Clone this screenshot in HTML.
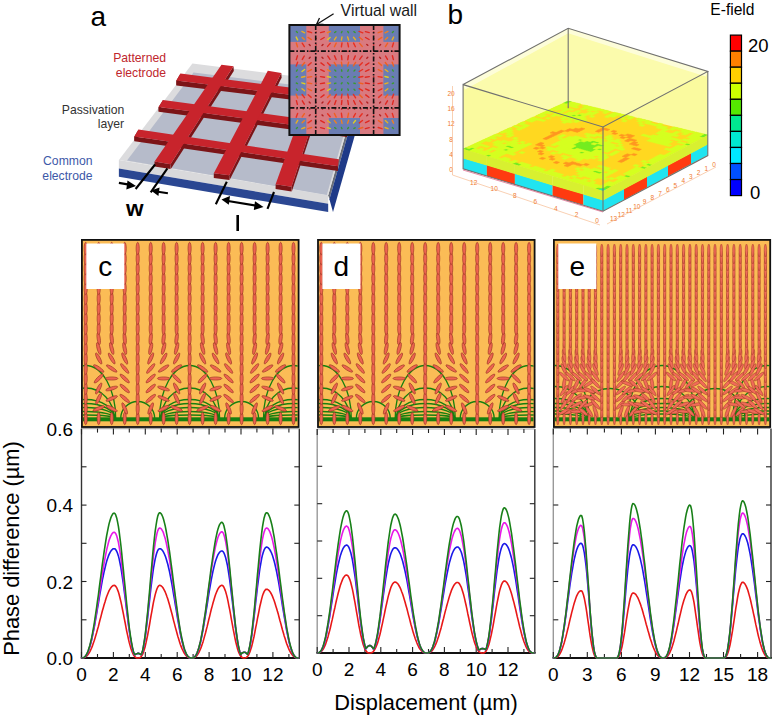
<!DOCTYPE html><html><head><meta charset="utf-8"><style>html,body{margin:0;padding:0;background:#fff;}svg{display:block;}</style></head><body><svg width="774" height="718" viewBox="0 0 774 718">
<rect width="774" height="718" fill="#fff"/>
<polygon points="118.9,160.0 328.2,195.3 328.2,203.7 118.9,168.4" fill="#d9d9db"/>
<polygon points="118.9,168.4 328.2,203.7 328.2,212.1 118.9,176.8" fill="#2b4792"/>
<polygon points="328.2,195.3 359.7,84.5 360.9,88.5 329.4,199.3" fill="#6a6e78"/>
<polygon points="329.4,199.3 360.9,88.5 364.5,101.3 333.0,212.1" fill="#1f3a88"/>
<polygon points="192.4,63.6 118.9,160.0 328.2,195.3 359.7,84.5" fill="#dcdcde"/>
<polygon points="193.5,72.5 127.0,160.5 326.8,195.1 355.6,92.8" fill="#b6bbca"/>
<polygon points="176.4,80.6 354.2,102.8 354.2,107.6 176.4,85.4" fill="#7c1417"/>
<polygon points="180.5,73.6 176.4,80.6 176.4,85.4 180.5,78.4" fill="#7c1417"/>
<polygon points="158.6,106.9 347.0,132.2 347.0,137.0 158.6,111.7" fill="#7c1417"/>
<polygon points="163.0,99.9 158.6,106.9 158.6,111.7 163.0,104.7" fill="#7c1417"/>
<polygon points="134.4,136.5 338.0,166.3 338.0,171.1 134.4,141.3" fill="#7c1417"/>
<polygon points="138.5,129.5 134.4,136.5 134.4,141.3 138.5,134.3" fill="#7c1417"/>
<polygon points="233.5,66.3 170.5,164.3 170.8,169.1 233.8,71.1" fill="#7c1417"/>
<polygon points="154.5,161.6 170.5,164.3 170.5,169.1 154.5,166.4" fill="#7c1417"/>
<polygon points="281.3,72.9 229.3,175.2 229.6,180.0 281.6,77.7" fill="#7c1417"/>
<polygon points="213.8,173.2 229.3,175.2 229.3,180.0 213.8,178.0" fill="#7c1417"/>
<polygon points="326.5,80.3 291.5,186.7 291.8,191.5 326.8,85.1" fill="#7c1417"/>
<polygon points="275.6,184.2 291.5,186.7 291.5,191.5 275.6,189.0" fill="#7c1417"/>
<polygon points="180.5,73.6 356.0,95.8 354.2,102.8 176.4,80.6" fill="#c8242c"/>
<polygon points="163.0,99.9 348.8,125.2 347.0,132.2 158.6,106.9" fill="#c8242c"/>
<polygon points="138.5,129.5 338.9,159.3 338.0,166.3 134.4,136.5" fill="#c8242c"/>
<polygon points="221.5,64.8 233.5,66.3 170.5,164.3 154.5,161.6" fill="#c8242c"/>
<polygon points="267.8,70.8 281.3,72.9 229.3,175.2 213.8,173.2" fill="#c8242c"/>
<polygon points="313.6,78.4 326.5,80.3 291.5,186.7 275.6,184.2" fill="#c8242c"/>
<g stroke="#000" stroke-width="2.1" fill="none">
<line x1="155.1" y1="164.5" x2="135.6" y2="189"/>
<line x1="167.4" y1="168.4" x2="150.7" y2="192.4"/>
<line x1="118.9" y1="182.9" x2="129" y2="184.6"/>
<line x1="167.9" y1="193.3" x2="158" y2="191.7"/>
<line x1="226.8" y1="181.7" x2="215.8" y2="204.3"/>
<line x1="274" y1="192" x2="267.5" y2="208.8"/>
<line x1="228" y1="201" x2="257" y2="205.8"/>
</g>
<polygon points="136,186 127.5,180.6 126.3,189.4" fill="#000"/>
<polygon points="151,190.6 159.6,187.4 158.4,196" fill="#000"/>
<polygon points="221.5,199.6 230,196 228.8,204.8" fill="#000"/>
<polygon points="263.5,207 255,201.3 253.8,210.1" fill="#000"/>
<text x="126" y="215.8" font-family="Liberation Sans, sans-serif" font-size="22.5" font-weight="bold">w</text>
<rect x="236.4" y="215" width="2.6" height="16" fill="#000"/>
<text x="90.5" y="26.3" font-family="Liberation Sans, sans-serif" font-size="28">a</text>
<g font-family="Liberation Sans, sans-serif" font-size="12.2" text-anchor="end">
<text x="166" y="62.3" fill="#c0262d">Patterned</text>
<text x="166" y="76.8" fill="#c0262d">electrode</text>
<text x="124.2" y="114" fill="#333">Passivation</text>
<text x="124.2" y="127.5" fill="#333">layer</text>
<text x="92.5" y="165" fill="#3d58a8">Common</text>
<text x="92.5" y="179.7" fill="#3d58a8">electrode</text>
</g>
<rect x="289.4" y="25" width="110.20000000000005" height="110" fill="#d97a80"/>
<rect x="289.4" y="25" width="16.900000000000034" height="16.9" fill="#6a7db3"/>
<rect x="289.4" y="64.4" width="16.900000000000034" height="31.19999999999999" fill="#6a7db3"/>
<rect x="289.4" y="118" width="16.900000000000034" height="17" fill="#6a7db3"/>
<rect x="328.8" y="25" width="31.19999999999999" height="16.9" fill="#6a7db3"/>
<rect x="328.8" y="64.4" width="31.19999999999999" height="31.19999999999999" fill="#6a7db3"/>
<rect x="328.8" y="118" width="31.19999999999999" height="17" fill="#6a7db3"/>
<rect x="383.4" y="25" width="16.200000000000045" height="16.9" fill="#6a7db3"/>
<rect x="383.4" y="64.4" width="16.200000000000045" height="31.19999999999999" fill="#6a7db3"/>
<rect x="383.4" y="118" width="16.200000000000045" height="17" fill="#6a7db3"/>
<line x1="296.4" y1="31.6" x2="297.4" y2="32.6" stroke="#3a9a30" stroke-width="1.4" stroke-linecap="round"/>
<line x1="296.2" y1="37.1" x2="297.6" y2="39.9" stroke="#e0d020" stroke-width="1.4" stroke-linecap="round"/>
<line x1="296.3" y1="43.0" x2="297.5" y2="46.8" stroke="#f06020" stroke-width="1.4" stroke-linecap="round"/>
<circle cx="296.9" cy="51.3" r="0.8" fill="#b02020"/>
<line x1="296.3" y1="59.6" x2="297.5" y2="55.8" stroke="#e02820" stroke-width="1.4" stroke-linecap="round"/>
<line x1="296.2" y1="66.0" x2="297.6" y2="62.2" stroke="#e83020" stroke-width="1.4" stroke-linecap="round"/>
<line x1="296.5" y1="71.1" x2="297.3" y2="69.9" stroke="#3a9a30" stroke-width="1.4" stroke-linecap="round"/>
<line x1="296.3" y1="77.2" x2="297.5" y2="76.6" stroke="#3a9a30" stroke-width="1.4" stroke-linecap="round"/>
<line x1="296.3" y1="83.0" x2="297.5" y2="83.6" stroke="#3a9a30" stroke-width="1.4" stroke-linecap="round"/>
<line x1="296.5" y1="89.1" x2="297.3" y2="90.3" stroke="#3a9a30" stroke-width="1.4" stroke-linecap="round"/>
<line x1="296.2" y1="94.2" x2="297.6" y2="98.0" stroke="#f06020" stroke-width="1.4" stroke-linecap="round"/>
<line x1="296.4" y1="100.6" x2="297.4" y2="104.4" stroke="#e02820" stroke-width="1.4" stroke-linecap="round"/>
<circle cx="296.9" cy="108.9" r="0.8" fill="#b02020"/>
<line x1="296.2" y1="117.2" x2="297.6" y2="113.4" stroke="#e83020" stroke-width="1.4" stroke-linecap="round"/>
<line x1="296.1" y1="123.1" x2="297.7" y2="120.3" stroke="#e8b020" stroke-width="1.4" stroke-linecap="round"/>
<line x1="296.4" y1="128.6" x2="297.4" y2="127.6" stroke="#3a9a30" stroke-width="1.4" stroke-linecap="round"/>
<line x1="301.9" y1="31.4" x2="304.7" y2="32.8" stroke="#e8b020" stroke-width="1.4" stroke-linecap="round"/>
<line x1="302.2" y1="37.4" x2="304.4" y2="39.6" stroke="#f08020" stroke-width="1.4" stroke-linecap="round"/>
<line x1="302.2" y1="43.2" x2="304.4" y2="46.6" stroke="#e83020" stroke-width="1.4" stroke-linecap="round"/>
<circle cx="303.3" cy="51.3" r="0.8" fill="#b02020"/>
<line x1="302.3" y1="59.4" x2="304.3" y2="56.0" stroke="#e02820" stroke-width="1.4" stroke-linecap="round"/>
<line x1="302.0" y1="65.7" x2="304.6" y2="62.5" stroke="#f06020" stroke-width="1.4" stroke-linecap="round"/>
<line x1="302.0" y1="71.5" x2="304.6" y2="69.5" stroke="#e0d020" stroke-width="1.4" stroke-linecap="round"/>
<line x1="301.7" y1="77.3" x2="304.9" y2="76.5" stroke="#e8b020" stroke-width="1.4" stroke-linecap="round"/>
<line x1="301.8" y1="82.9" x2="304.8" y2="83.7" stroke="#e0d020" stroke-width="1.4" stroke-linecap="round"/>
<line x1="302.0" y1="88.7" x2="304.6" y2="90.7" stroke="#e8b020" stroke-width="1.4" stroke-linecap="round"/>
<line x1="302.1" y1="94.5" x2="304.5" y2="97.7" stroke="#e83020" stroke-width="1.4" stroke-linecap="round"/>
<line x1="302.3" y1="100.8" x2="304.3" y2="104.2" stroke="#e02820" stroke-width="1.4" stroke-linecap="round"/>
<circle cx="303.3" cy="108.9" r="0.8" fill="#b02020"/>
<line x1="302.2" y1="116.9" x2="304.4" y2="113.7" stroke="#f06020" stroke-width="1.4" stroke-linecap="round"/>
<line x1="302.1" y1="122.8" x2="304.5" y2="120.6" stroke="#f08020" stroke-width="1.4" stroke-linecap="round"/>
<line x1="301.8" y1="128.7" x2="304.8" y2="127.5" stroke="#e8b020" stroke-width="1.4" stroke-linecap="round"/>
<line x1="307.8" y1="31.5" x2="311.6" y2="32.7" stroke="#e83020" stroke-width="1.4" stroke-linecap="round"/>
<line x1="308.0" y1="37.4" x2="311.4" y2="39.6" stroke="#f06020" stroke-width="1.4" stroke-linecap="round"/>
<line x1="309.2" y1="44.4" x2="310.2" y2="45.4" stroke="#b02020" stroke-width="1.4" stroke-linecap="round"/>
<circle cx="309.7" cy="51.3" r="0.8" fill="#b02020"/>
<line x1="309.2" y1="58.2" x2="310.2" y2="57.2" stroke="#b02020" stroke-width="1.4" stroke-linecap="round"/>
<line x1="308.2" y1="65.4" x2="311.2" y2="62.8" stroke="#e83020" stroke-width="1.4" stroke-linecap="round"/>
<line x1="307.9" y1="71.4" x2="311.5" y2="69.6" stroke="#f06020" stroke-width="1.4" stroke-linecap="round"/>
<line x1="307.7" y1="77.2" x2="311.7" y2="76.6" stroke="#f06020" stroke-width="1.4" stroke-linecap="round"/>
<line x1="307.7" y1="83.0" x2="311.7" y2="83.6" stroke="#f06020" stroke-width="1.4" stroke-linecap="round"/>
<line x1="307.9" y1="88.8" x2="311.5" y2="90.6" stroke="#f06020" stroke-width="1.4" stroke-linecap="round"/>
<line x1="308.2" y1="94.8" x2="311.2" y2="97.4" stroke="#e83020" stroke-width="1.4" stroke-linecap="round"/>
<line x1="309.2" y1="102.0" x2="310.2" y2="103.0" stroke="#b02020" stroke-width="1.4" stroke-linecap="round"/>
<circle cx="309.7" cy="108.9" r="0.8" fill="#b02020"/>
<line x1="309.2" y1="115.8" x2="310.2" y2="114.8" stroke="#b02020" stroke-width="1.4" stroke-linecap="round"/>
<line x1="308.0" y1="122.8" x2="311.4" y2="120.6" stroke="#e83020" stroke-width="1.4" stroke-linecap="round"/>
<line x1="307.8" y1="128.7" x2="311.6" y2="127.5" stroke="#f06020" stroke-width="1.4" stroke-linecap="round"/>
<circle cx="316.1" cy="32.1" r="0.8" fill="#b02020"/>
<circle cx="316.1" cy="38.5" r="0.8" fill="#b02020"/>
<circle cx="316.1" cy="44.9" r="0.8" fill="#b02020"/>
<circle cx="316.1" cy="51.3" r="0.8" fill="#b02020"/>
<circle cx="316.1" cy="57.7" r="0.8" fill="#b02020"/>
<circle cx="316.1" cy="64.1" r="0.8" fill="#b02020"/>
<circle cx="316.1" cy="70.5" r="0.8" fill="#b02020"/>
<circle cx="316.1" cy="76.9" r="0.8" fill="#b02020"/>
<circle cx="316.1" cy="83.3" r="0.8" fill="#b02020"/>
<circle cx="316.1" cy="89.7" r="0.8" fill="#b02020"/>
<circle cx="316.1" cy="96.1" r="0.8" fill="#b02020"/>
<circle cx="316.1" cy="102.5" r="0.8" fill="#b02020"/>
<circle cx="316.1" cy="108.9" r="0.8" fill="#b02020"/>
<circle cx="316.1" cy="115.3" r="0.8" fill="#b02020"/>
<circle cx="316.1" cy="121.7" r="0.8" fill="#b02020"/>
<circle cx="316.1" cy="128.1" r="0.8" fill="#b02020"/>
<line x1="324.4" y1="31.6" x2="320.6" y2="32.6" stroke="#e02820" stroke-width="1.4" stroke-linecap="round"/>
<line x1="324.2" y1="37.5" x2="320.8" y2="39.5" stroke="#e02820" stroke-width="1.4" stroke-linecap="round"/>
<line x1="323.0" y1="44.4" x2="322.0" y2="45.4" stroke="#b02020" stroke-width="1.4" stroke-linecap="round"/>
<circle cx="322.5" cy="51.3" r="0.8" fill="#b02020"/>
<line x1="323.0" y1="58.2" x2="322.0" y2="57.2" stroke="#b02020" stroke-width="1.4" stroke-linecap="round"/>
<line x1="324.1" y1="65.3" x2="320.9" y2="62.9" stroke="#e02820" stroke-width="1.4" stroke-linecap="round"/>
<line x1="324.3" y1="71.3" x2="320.7" y2="69.7" stroke="#e02820" stroke-width="1.4" stroke-linecap="round"/>
<line x1="324.5" y1="77.2" x2="320.5" y2="76.6" stroke="#e02820" stroke-width="1.4" stroke-linecap="round"/>
<line x1="324.5" y1="83.0" x2="320.5" y2="83.6" stroke="#e02820" stroke-width="1.4" stroke-linecap="round"/>
<line x1="324.3" y1="88.9" x2="320.7" y2="90.5" stroke="#e02820" stroke-width="1.4" stroke-linecap="round"/>
<line x1="324.1" y1="94.9" x2="320.9" y2="97.3" stroke="#e02820" stroke-width="1.4" stroke-linecap="round"/>
<line x1="323.0" y1="102.0" x2="322.0" y2="103.0" stroke="#b02020" stroke-width="1.4" stroke-linecap="round"/>
<circle cx="322.5" cy="108.9" r="0.8" fill="#b02020"/>
<line x1="323.0" y1="115.7" x2="322.0" y2="114.9" stroke="#b02020" stroke-width="1.4" stroke-linecap="round"/>
<line x1="324.3" y1="122.7" x2="320.7" y2="120.7" stroke="#e02820" stroke-width="1.4" stroke-linecap="round"/>
<line x1="324.4" y1="128.6" x2="320.6" y2="127.6" stroke="#e02820" stroke-width="1.4" stroke-linecap="round"/>
<line x1="330.4" y1="31.5" x2="327.4" y2="32.7" stroke="#f08020" stroke-width="1.4" stroke-linecap="round"/>
<line x1="330.1" y1="37.5" x2="327.7" y2="39.5" stroke="#e0d020" stroke-width="1.4" stroke-linecap="round"/>
<line x1="330.2" y1="43.4" x2="327.6" y2="46.4" stroke="#e83020" stroke-width="1.4" stroke-linecap="round"/>
<circle cx="328.9" cy="51.3" r="0.8" fill="#b02020"/>
<line x1="330.0" y1="59.3" x2="327.8" y2="56.1" stroke="#e02820" stroke-width="1.4" stroke-linecap="round"/>
<line x1="330.3" y1="65.5" x2="327.5" y2="62.7" stroke="#e83020" stroke-width="1.4" stroke-linecap="round"/>
<line x1="330.3" y1="71.3" x2="327.5" y2="69.7" stroke="#f08020" stroke-width="1.4" stroke-linecap="round"/>
<line x1="330.5" y1="77.2" x2="327.3" y2="76.6" stroke="#e0d020" stroke-width="1.4" stroke-linecap="round"/>
<line x1="330.5" y1="83.0" x2="327.3" y2="83.6" stroke="#e8b020" stroke-width="1.4" stroke-linecap="round"/>
<line x1="330.3" y1="88.9" x2="327.5" y2="90.5" stroke="#e0d020" stroke-width="1.4" stroke-linecap="round"/>
<line x1="330.3" y1="94.7" x2="327.5" y2="97.5" stroke="#f06020" stroke-width="1.4" stroke-linecap="round"/>
<line x1="330.0" y1="100.9" x2="327.8" y2="104.1" stroke="#e02820" stroke-width="1.4" stroke-linecap="round"/>
<circle cx="328.9" cy="108.9" r="0.8" fill="#b02020"/>
<line x1="330.2" y1="116.8" x2="327.6" y2="113.8" stroke="#e83020" stroke-width="1.4" stroke-linecap="round"/>
<line x1="330.2" y1="122.7" x2="327.6" y2="120.7" stroke="#e8b020" stroke-width="1.4" stroke-linecap="round"/>
<line x1="330.4" y1="128.6" x2="327.4" y2="127.6" stroke="#e0d020" stroke-width="1.4" stroke-linecap="round"/>
<line x1="335.9" y1="31.7" x2="334.7" y2="32.5" stroke="#3a9a30" stroke-width="1.4" stroke-linecap="round"/>
<line x1="336.2" y1="37.2" x2="334.4" y2="39.8" stroke="#e8b020" stroke-width="1.4" stroke-linecap="round"/>
<line x1="336.2" y1="43.1" x2="334.4" y2="46.7" stroke="#f06020" stroke-width="1.4" stroke-linecap="round"/>
<circle cx="335.3" cy="51.3" r="0.8" fill="#b02020"/>
<line x1="336.1" y1="59.6" x2="334.5" y2="55.8" stroke="#e02820" stroke-width="1.4" stroke-linecap="round"/>
<line x1="336.3" y1="65.8" x2="334.3" y2="62.4" stroke="#f06020" stroke-width="1.4" stroke-linecap="round"/>
<line x1="335.8" y1="71.0" x2="334.8" y2="70.0" stroke="#3a9a30" stroke-width="1.4" stroke-linecap="round"/>
<line x1="336.0" y1="77.1" x2="334.6" y2="76.7" stroke="#3a9a30" stroke-width="1.4" stroke-linecap="round"/>
<line x1="336.0" y1="83.1" x2="334.6" y2="83.5" stroke="#3a9a30" stroke-width="1.4" stroke-linecap="round"/>
<line x1="335.8" y1="89.2" x2="334.8" y2="90.2" stroke="#3a9a30" stroke-width="1.4" stroke-linecap="round"/>
<line x1="336.3" y1="94.4" x2="334.3" y2="97.8" stroke="#e83020" stroke-width="1.4" stroke-linecap="round"/>
<line x1="336.0" y1="100.6" x2="334.6" y2="104.4" stroke="#e02820" stroke-width="1.4" stroke-linecap="round"/>
<circle cx="335.3" cy="108.9" r="0.8" fill="#b02020"/>
<line x1="336.2" y1="117.1" x2="334.4" y2="113.5" stroke="#f06020" stroke-width="1.4" stroke-linecap="round"/>
<line x1="336.3" y1="123.0" x2="334.3" y2="120.4" stroke="#f08020" stroke-width="1.4" stroke-linecap="round"/>
<line x1="335.9" y1="128.5" x2="334.7" y2="127.7" stroke="#3a9a30" stroke-width="1.4" stroke-linecap="round"/>
<line x1="342.0" y1="31.5" x2="341.4" y2="32.7" stroke="#3a9a30" stroke-width="1.4" stroke-linecap="round"/>
<line x1="342.0" y1="36.9" x2="341.4" y2="40.1" stroke="#e8b020" stroke-width="1.4" stroke-linecap="round"/>
<line x1="342.0" y1="42.9" x2="341.4" y2="46.9" stroke="#e83020" stroke-width="1.4" stroke-linecap="round"/>
<circle cx="341.7" cy="51.3" r="0.8" fill="#b02020"/>
<line x1="341.9" y1="59.7" x2="341.5" y2="55.7" stroke="#e02820" stroke-width="1.4" stroke-linecap="round"/>
<line x1="342.0" y1="66.1" x2="341.4" y2="62.1" stroke="#f06020" stroke-width="1.4" stroke-linecap="round"/>
<line x1="341.9" y1="71.2" x2="341.5" y2="69.8" stroke="#3a9a30" stroke-width="1.4" stroke-linecap="round"/>
<line x1="342.2" y1="77.4" x2="341.2" y2="76.4" stroke="#3a9a30" stroke-width="1.4" stroke-linecap="round"/>
<line x1="342.1" y1="82.8" x2="341.3" y2="83.8" stroke="#3a9a30" stroke-width="1.4" stroke-linecap="round"/>
<line x1="341.9" y1="89.0" x2="341.5" y2="90.4" stroke="#3a9a30" stroke-width="1.4" stroke-linecap="round"/>
<line x1="342.0" y1="94.1" x2="341.4" y2="98.1" stroke="#e83020" stroke-width="1.4" stroke-linecap="round"/>
<line x1="341.9" y1="100.5" x2="341.5" y2="104.5" stroke="#e02820" stroke-width="1.4" stroke-linecap="round"/>
<circle cx="341.7" cy="108.9" r="0.8" fill="#b02020"/>
<line x1="342.0" y1="117.3" x2="341.4" y2="113.3" stroke="#e83020" stroke-width="1.4" stroke-linecap="round"/>
<line x1="342.1" y1="123.3" x2="341.3" y2="120.1" stroke="#f08020" stroke-width="1.4" stroke-linecap="round"/>
<line x1="342.0" y1="128.7" x2="341.4" y2="127.5" stroke="#3a9a30" stroke-width="1.4" stroke-linecap="round"/>
<line x1="347.7" y1="31.5" x2="348.5" y2="32.7" stroke="#3a9a30" stroke-width="1.4" stroke-linecap="round"/>
<line x1="347.6" y1="37.0" x2="348.6" y2="40.0" stroke="#e8b020" stroke-width="1.4" stroke-linecap="round"/>
<line x1="347.7" y1="42.9" x2="348.5" y2="46.9" stroke="#e83020" stroke-width="1.4" stroke-linecap="round"/>
<circle cx="348.1" cy="51.3" r="0.8" fill="#b02020"/>
<line x1="347.8" y1="59.7" x2="348.4" y2="55.7" stroke="#e02820" stroke-width="1.4" stroke-linecap="round"/>
<line x1="347.6" y1="66.0" x2="348.6" y2="62.2" stroke="#f06020" stroke-width="1.4" stroke-linecap="round"/>
<line x1="347.8" y1="71.2" x2="348.4" y2="69.8" stroke="#3a9a30" stroke-width="1.4" stroke-linecap="round"/>
<line x1="347.6" y1="77.3" x2="348.6" y2="76.5" stroke="#3a9a30" stroke-width="1.4" stroke-linecap="round"/>
<line x1="347.6" y1="82.8" x2="348.6" y2="83.8" stroke="#3a9a30" stroke-width="1.4" stroke-linecap="round"/>
<line x1="347.9" y1="89.0" x2="348.3" y2="90.4" stroke="#3a9a30" stroke-width="1.4" stroke-linecap="round"/>
<line x1="347.7" y1="94.2" x2="348.5" y2="98.0" stroke="#e83020" stroke-width="1.4" stroke-linecap="round"/>
<line x1="347.8" y1="100.5" x2="348.4" y2="104.5" stroke="#e02820" stroke-width="1.4" stroke-linecap="round"/>
<circle cx="348.1" cy="108.9" r="0.8" fill="#b02020"/>
<line x1="347.7" y1="117.3" x2="348.5" y2="113.3" stroke="#f06020" stroke-width="1.4" stroke-linecap="round"/>
<line x1="347.6" y1="123.2" x2="348.6" y2="120.2" stroke="#f08020" stroke-width="1.4" stroke-linecap="round"/>
<line x1="347.7" y1="128.7" x2="348.5" y2="127.5" stroke="#3a9a30" stroke-width="1.4" stroke-linecap="round"/>
<line x1="353.9" y1="31.7" x2="355.1" y2="32.5" stroke="#3a9a30" stroke-width="1.4" stroke-linecap="round"/>
<line x1="353.5" y1="37.3" x2="355.5" y2="39.7" stroke="#e8b020" stroke-width="1.4" stroke-linecap="round"/>
<line x1="353.6" y1="43.1" x2="355.4" y2="46.7" stroke="#e83020" stroke-width="1.4" stroke-linecap="round"/>
<circle cx="354.5" cy="51.3" r="0.8" fill="#b02020"/>
<line x1="353.7" y1="59.5" x2="355.3" y2="55.9" stroke="#e02820" stroke-width="1.4" stroke-linecap="round"/>
<line x1="353.4" y1="65.8" x2="355.6" y2="62.4" stroke="#f06020" stroke-width="1.4" stroke-linecap="round"/>
<line x1="354.0" y1="71.0" x2="355.0" y2="70.0" stroke="#3a9a30" stroke-width="1.4" stroke-linecap="round"/>
<line x1="353.8" y1="77.1" x2="355.2" y2="76.7" stroke="#3a9a30" stroke-width="1.4" stroke-linecap="round"/>
<line x1="353.8" y1="83.1" x2="355.2" y2="83.5" stroke="#3a9a30" stroke-width="1.4" stroke-linecap="round"/>
<line x1="354.0" y1="89.2" x2="355.0" y2="90.2" stroke="#3a9a30" stroke-width="1.4" stroke-linecap="round"/>
<line x1="353.4" y1="94.4" x2="355.6" y2="97.8" stroke="#e83020" stroke-width="1.4" stroke-linecap="round"/>
<line x1="353.7" y1="100.7" x2="355.3" y2="104.3" stroke="#e02820" stroke-width="1.4" stroke-linecap="round"/>
<circle cx="354.5" cy="108.9" r="0.8" fill="#b02020"/>
<line x1="353.5" y1="117.1" x2="355.5" y2="113.5" stroke="#e83020" stroke-width="1.4" stroke-linecap="round"/>
<line x1="353.5" y1="122.9" x2="355.5" y2="120.5" stroke="#e0d020" stroke-width="1.4" stroke-linecap="round"/>
<line x1="353.9" y1="128.4" x2="355.1" y2="127.8" stroke="#3a9a30" stroke-width="1.4" stroke-linecap="round"/>
<line x1="359.0" y1="31.4" x2="362.8" y2="32.8" stroke="#e83020" stroke-width="1.4" stroke-linecap="round"/>
<line x1="359.3" y1="37.3" x2="362.5" y2="39.7" stroke="#f06020" stroke-width="1.4" stroke-linecap="round"/>
<line x1="359.6" y1="43.4" x2="362.2" y2="46.4" stroke="#f06020" stroke-width="1.4" stroke-linecap="round"/>
<circle cx="360.9" cy="51.3" r="0.8" fill="#b02020"/>
<line x1="359.7" y1="59.3" x2="362.1" y2="56.1" stroke="#e02820" stroke-width="1.4" stroke-linecap="round"/>
<line x1="359.5" y1="65.5" x2="362.3" y2="62.7" stroke="#e83020" stroke-width="1.4" stroke-linecap="round"/>
<line x1="359.2" y1="71.5" x2="362.6" y2="69.5" stroke="#e83020" stroke-width="1.4" stroke-linecap="round"/>
<line x1="358.9" y1="77.3" x2="362.9" y2="76.5" stroke="#e83020" stroke-width="1.4" stroke-linecap="round"/>
<line x1="358.9" y1="82.9" x2="362.9" y2="83.7" stroke="#f06020" stroke-width="1.4" stroke-linecap="round"/>
<line x1="359.2" y1="88.7" x2="362.6" y2="90.7" stroke="#e83020" stroke-width="1.4" stroke-linecap="round"/>
<line x1="359.5" y1="94.7" x2="362.3" y2="97.5" stroke="#f06020" stroke-width="1.4" stroke-linecap="round"/>
<line x1="359.7" y1="100.9" x2="362.1" y2="104.1" stroke="#e02820" stroke-width="1.4" stroke-linecap="round"/>
<circle cx="360.9" cy="108.9" r="0.8" fill="#b02020"/>
<line x1="359.6" y1="116.8" x2="362.2" y2="113.8" stroke="#e83020" stroke-width="1.4" stroke-linecap="round"/>
<line x1="359.3" y1="122.9" x2="362.5" y2="120.5" stroke="#e83020" stroke-width="1.4" stroke-linecap="round"/>
<line x1="359.0" y1="128.7" x2="362.8" y2="127.5" stroke="#f06020" stroke-width="1.4" stroke-linecap="round"/>
<line x1="365.4" y1="31.6" x2="369.2" y2="32.6" stroke="#e02820" stroke-width="1.4" stroke-linecap="round"/>
<line x1="365.5" y1="37.5" x2="369.1" y2="39.5" stroke="#e02820" stroke-width="1.4" stroke-linecap="round"/>
<line x1="366.8" y1="44.5" x2="367.8" y2="45.3" stroke="#b02020" stroke-width="1.4" stroke-linecap="round"/>
<circle cx="367.3" cy="51.3" r="0.8" fill="#b02020"/>
<line x1="366.8" y1="58.2" x2="367.8" y2="57.2" stroke="#b02020" stroke-width="1.4" stroke-linecap="round"/>
<line x1="365.7" y1="65.2" x2="368.9" y2="63.0" stroke="#e02820" stroke-width="1.4" stroke-linecap="round"/>
<line x1="365.5" y1="71.3" x2="369.1" y2="69.7" stroke="#e02820" stroke-width="1.4" stroke-linecap="round"/>
<line x1="365.3" y1="77.2" x2="369.3" y2="76.6" stroke="#e02820" stroke-width="1.4" stroke-linecap="round"/>
<line x1="365.3" y1="83.0" x2="369.3" y2="83.6" stroke="#e02820" stroke-width="1.4" stroke-linecap="round"/>
<line x1="365.5" y1="88.9" x2="369.1" y2="90.5" stroke="#e02820" stroke-width="1.4" stroke-linecap="round"/>
<line x1="365.7" y1="94.9" x2="368.9" y2="97.3" stroke="#e02820" stroke-width="1.4" stroke-linecap="round"/>
<line x1="366.8" y1="102.0" x2="367.8" y2="103.0" stroke="#b02020" stroke-width="1.4" stroke-linecap="round"/>
<circle cx="367.3" cy="108.9" r="0.8" fill="#b02020"/>
<line x1="366.8" y1="115.7" x2="367.8" y2="114.9" stroke="#b02020" stroke-width="1.4" stroke-linecap="round"/>
<line x1="365.5" y1="122.6" x2="369.1" y2="120.8" stroke="#e02820" stroke-width="1.4" stroke-linecap="round"/>
<line x1="365.4" y1="128.6" x2="369.2" y2="127.6" stroke="#e02820" stroke-width="1.4" stroke-linecap="round"/>
<circle cx="373.7" cy="32.1" r="0.8" fill="#b02020"/>
<circle cx="373.7" cy="38.5" r="0.8" fill="#b02020"/>
<circle cx="373.7" cy="44.9" r="0.8" fill="#b02020"/>
<circle cx="373.7" cy="51.3" r="0.8" fill="#b02020"/>
<circle cx="373.7" cy="57.7" r="0.8" fill="#b02020"/>
<circle cx="373.7" cy="64.1" r="0.8" fill="#b02020"/>
<circle cx="373.7" cy="70.5" r="0.8" fill="#b02020"/>
<circle cx="373.7" cy="76.9" r="0.8" fill="#b02020"/>
<circle cx="373.7" cy="83.3" r="0.8" fill="#b02020"/>
<circle cx="373.7" cy="89.7" r="0.8" fill="#b02020"/>
<circle cx="373.7" cy="96.1" r="0.8" fill="#b02020"/>
<circle cx="373.7" cy="102.5" r="0.8" fill="#b02020"/>
<circle cx="373.7" cy="108.9" r="0.8" fill="#b02020"/>
<circle cx="373.7" cy="115.3" r="0.8" fill="#b02020"/>
<circle cx="373.7" cy="121.7" r="0.8" fill="#b02020"/>
<circle cx="373.7" cy="128.1" r="0.8" fill="#b02020"/>
<line x1="382.0" y1="31.5" x2="378.2" y2="32.7" stroke="#f06020" stroke-width="1.4" stroke-linecap="round"/>
<line x1="381.8" y1="37.4" x2="378.4" y2="39.6" stroke="#f06020" stroke-width="1.4" stroke-linecap="round"/>
<line x1="380.6" y1="44.4" x2="379.6" y2="45.4" stroke="#b02020" stroke-width="1.4" stroke-linecap="round"/>
<circle cx="380.1" cy="51.3" r="0.8" fill="#b02020"/>
<line x1="380.6" y1="58.2" x2="379.6" y2="57.2" stroke="#b02020" stroke-width="1.4" stroke-linecap="round"/>
<line x1="381.6" y1="65.4" x2="378.6" y2="62.8" stroke="#f06020" stroke-width="1.4" stroke-linecap="round"/>
<line x1="381.9" y1="71.4" x2="378.3" y2="69.6" stroke="#f06020" stroke-width="1.4" stroke-linecap="round"/>
<line x1="382.1" y1="77.2" x2="378.1" y2="76.6" stroke="#e83020" stroke-width="1.4" stroke-linecap="round"/>
<line x1="382.1" y1="83.0" x2="378.1" y2="83.6" stroke="#e83020" stroke-width="1.4" stroke-linecap="round"/>
<line x1="381.9" y1="88.8" x2="378.3" y2="90.6" stroke="#e83020" stroke-width="1.4" stroke-linecap="round"/>
<line x1="381.6" y1="94.8" x2="378.6" y2="97.4" stroke="#e83020" stroke-width="1.4" stroke-linecap="round"/>
<line x1="380.6" y1="102.0" x2="379.6" y2="103.0" stroke="#b02020" stroke-width="1.4" stroke-linecap="round"/>
<circle cx="380.1" cy="108.9" r="0.8" fill="#b02020"/>
<line x1="380.6" y1="115.8" x2="379.6" y2="114.8" stroke="#b02020" stroke-width="1.4" stroke-linecap="round"/>
<line x1="381.8" y1="122.8" x2="378.4" y2="120.6" stroke="#f06020" stroke-width="1.4" stroke-linecap="round"/>
<line x1="382.0" y1="128.7" x2="378.2" y2="127.5" stroke="#e83020" stroke-width="1.4" stroke-linecap="round"/>
<line x1="387.9" y1="31.4" x2="385.1" y2="32.8" stroke="#f08020" stroke-width="1.4" stroke-linecap="round"/>
<line x1="387.6" y1="37.4" x2="385.4" y2="39.6" stroke="#f08020" stroke-width="1.4" stroke-linecap="round"/>
<line x1="387.6" y1="43.2" x2="385.4" y2="46.6" stroke="#f06020" stroke-width="1.4" stroke-linecap="round"/>
<circle cx="386.5" cy="51.3" r="0.8" fill="#b02020"/>
<line x1="387.5" y1="59.4" x2="385.5" y2="56.0" stroke="#e02820" stroke-width="1.4" stroke-linecap="round"/>
<line x1="387.7" y1="65.7" x2="385.3" y2="62.5" stroke="#f06020" stroke-width="1.4" stroke-linecap="round"/>
<line x1="387.8" y1="71.5" x2="385.2" y2="69.5" stroke="#e8b020" stroke-width="1.4" stroke-linecap="round"/>
<line x1="388.1" y1="77.3" x2="384.9" y2="76.5" stroke="#e0d020" stroke-width="1.4" stroke-linecap="round"/>
<line x1="388.0" y1="82.9" x2="385.0" y2="83.7" stroke="#e8b020" stroke-width="1.4" stroke-linecap="round"/>
<line x1="387.8" y1="88.7" x2="385.2" y2="90.7" stroke="#e8b020" stroke-width="1.4" stroke-linecap="round"/>
<line x1="387.7" y1="94.5" x2="385.3" y2="97.7" stroke="#f06020" stroke-width="1.4" stroke-linecap="round"/>
<line x1="387.5" y1="100.8" x2="385.5" y2="104.2" stroke="#e02820" stroke-width="1.4" stroke-linecap="round"/>
<circle cx="386.5" cy="108.9" r="0.8" fill="#b02020"/>
<line x1="387.6" y1="117.0" x2="385.4" y2="113.6" stroke="#e83020" stroke-width="1.4" stroke-linecap="round"/>
<line x1="387.7" y1="122.8" x2="385.3" y2="120.6" stroke="#e8b020" stroke-width="1.4" stroke-linecap="round"/>
<line x1="388.0" y1="128.7" x2="385.0" y2="127.5" stroke="#e8b020" stroke-width="1.4" stroke-linecap="round"/>
<line x1="393.4" y1="31.6" x2="392.4" y2="32.6" stroke="#3a9a30" stroke-width="1.4" stroke-linecap="round"/>
<line x1="393.6" y1="37.1" x2="392.2" y2="39.9" stroke="#e8b020" stroke-width="1.4" stroke-linecap="round"/>
<line x1="393.5" y1="43.0" x2="392.3" y2="46.8" stroke="#e83020" stroke-width="1.4" stroke-linecap="round"/>
<circle cx="392.9" cy="51.3" r="0.8" fill="#b02020"/>
<line x1="393.4" y1="59.6" x2="392.4" y2="55.8" stroke="#e02820" stroke-width="1.4" stroke-linecap="round"/>
<line x1="393.6" y1="66.0" x2="392.2" y2="62.2" stroke="#f06020" stroke-width="1.4" stroke-linecap="round"/>
<line x1="393.3" y1="71.1" x2="392.5" y2="69.9" stroke="#3a9a30" stroke-width="1.4" stroke-linecap="round"/>
<line x1="393.5" y1="77.2" x2="392.3" y2="76.6" stroke="#3a9a30" stroke-width="1.4" stroke-linecap="round"/>
<line x1="393.5" y1="83.0" x2="392.3" y2="83.6" stroke="#3a9a30" stroke-width="1.4" stroke-linecap="round"/>
<line x1="393.3" y1="89.1" x2="392.5" y2="90.3" stroke="#3a9a30" stroke-width="1.4" stroke-linecap="round"/>
<line x1="393.6" y1="94.2" x2="392.2" y2="98.0" stroke="#e83020" stroke-width="1.4" stroke-linecap="round"/>
<line x1="393.4" y1="100.6" x2="392.4" y2="104.4" stroke="#e02820" stroke-width="1.4" stroke-linecap="round"/>
<circle cx="392.9" cy="108.9" r="0.8" fill="#b02020"/>
<line x1="393.5" y1="117.2" x2="392.3" y2="113.4" stroke="#e83020" stroke-width="1.4" stroke-linecap="round"/>
<line x1="393.6" y1="123.1" x2="392.2" y2="120.3" stroke="#f08020" stroke-width="1.4" stroke-linecap="round"/>
<line x1="393.4" y1="128.6" x2="392.4" y2="127.6" stroke="#3a9a30" stroke-width="1.4" stroke-linecap="round"/>
<g stroke="#111" stroke-width="1.6" stroke-dasharray="5,2,1.5,2" fill="none">
<line x1="315.7" y1="25" x2="315.7" y2="135"/>
<line x1="373.6" y1="25" x2="373.6" y2="135"/>
<line x1="289.4" y1="51.1" x2="399.6" y2="51.1"/>
<line x1="289.4" y1="107.9" x2="399.6" y2="107.9"/>
</g>
<rect x="289.4" y="25" width="110.20000000000005" height="110" fill="none" stroke="#111" stroke-width="2"/>
<text x="340.6" y="15.7" font-family="Liberation Sans, sans-serif" font-size="15.9" fill="#1a1a1a">Virtual wall</text>
<g stroke="#111" stroke-width="1.3" fill="none"><line x1="333.6" y1="13.7" x2="316.5" y2="24.5"/><polyline points="319.5,18 316.5,24.5 323.5,24.5"/></g>
<text x="447.4" y="23.8" font-family="Liberation Sans, sans-serif" font-size="28">b</text>
<polygon points="568.2,28.3 463.1,84.6 463.1,168.8 603.0,211.2 707.8,155.6 707.8,71.4" fill="#fafa9e"/>
<polygon points="568.2,28.3 463.1,84.6 603.0,127.0 707.8,71.4" fill="#fbfbac"/>
<polygon points="463.1,84.6 568.2,28.3 707.8,71.4 705.8,76.4 568.2,33.3 465.1,89.6" fill="#fff" fill-opacity="0.55"/>
<polygon points="568.2,101.0 463.1,149.0 603.0,191.0 707.8,135.0" fill="#ffd820"/>
<path d="M568.2 101.0 565.8 102.1 568.9 102.9 571.4 101.8ZM565.8 102.1 563.3 103.2 566.5 104.0 568.9 102.9ZM465.9 147.7 463.1 149.0 466.3 150.0 469.1 148.7ZM471.9 147.4 469.1 148.7 472.3 149.6 475.1 148.3ZM469.1 148.7 466.3 150.0 469.4 150.9 472.3 149.6ZM573.5 114.6 571.0 115.8 574.2 116.6 576.7 115.4ZM507.9 145.3 505.1 146.6 508.4 147.5 511.2 146.2ZM488.4 154.4 485.6 155.8 488.9 156.7 491.7 155.4ZM579.2 114.3 576.7 115.4 580.0 116.3 582.5 115.1ZM511.2 146.2 508.4 147.5 511.7 148.5 514.5 147.2ZM505.7 148.8 502.9 150.1 506.2 151.1 509.0 149.8ZM515.1 162.4 512.3 163.8 515.7 164.8 518.5 163.4ZM518.5 163.4 515.7 164.8 519.1 165.8 521.9 164.4ZM579.8 138.9 577.1 140.2 580.6 141.1 583.2 139.9ZM580.6 141.1 578.0 142.4 581.5 143.4 584.1 142.1ZM578.0 142.4 575.3 143.7 578.8 144.7 581.5 143.4ZM575.3 143.7 572.7 145.0 576.2 146.0 578.8 144.7ZM586.7 140.8 584.1 142.1 587.6 143.0 590.2 141.7ZM584.1 142.1 581.5 143.4 585.0 144.3 587.6 143.0ZM581.5 143.4 578.8 144.7 582.3 145.6 585.0 144.3ZM578.8 144.7 576.2 146.0 579.7 146.9 582.3 145.6ZM576.2 146.0 573.5 147.3 577.0 148.2 579.7 146.9ZM573.5 147.3 570.8 148.6 574.3 149.6 577.0 148.2ZM592.8 140.4 590.2 141.7 593.7 142.7 596.3 141.4ZM590.2 141.7 587.6 143.0 591.1 144.0 593.7 142.7ZM587.6 143.0 585.0 144.3 588.5 145.3 591.1 144.0ZM585.0 144.3 582.3 145.6 585.8 146.6 588.5 145.3ZM582.3 145.6 579.7 146.9 583.2 147.9 585.8 146.6ZM579.7 146.9 577.0 148.2 580.5 149.2 583.2 147.9ZM596.3 141.4 593.7 142.7 597.3 143.6 599.9 142.3ZM591.1 144.0 588.5 145.3 592.0 146.2 594.6 144.9ZM588.5 145.3 585.8 146.6 589.4 147.5 592.0 146.2ZM585.8 146.6 583.2 147.9 586.7 148.9 589.4 147.5ZM583.2 147.9 580.5 149.2 584.0 150.2 586.7 148.9ZM597.3 143.6 594.6 144.9 598.2 145.9 600.8 144.6ZM594.6 144.9 592.0 146.2 595.6 147.2 598.2 145.9ZM592.0 146.2 589.4 147.5 592.9 148.5 595.6 147.2ZM589.4 147.5 586.7 148.9 590.3 149.8 592.9 148.5ZM586.7 148.9 584.0 150.2 587.6 151.2 590.3 149.8ZM581.4 151.5 578.7 152.9 582.2 153.8 584.9 152.5ZM600.8 144.6 598.2 145.9 601.8 146.8 604.4 145.5ZM592.9 148.5 590.3 149.8 593.8 150.8 596.5 149.5ZM590.3 149.8 587.6 151.2 591.2 152.2 593.8 150.8ZM599.1 148.2 596.5 149.5 600.1 150.5 602.7 149.1ZM595.0 170.4 592.3 171.8 596.0 172.8 598.7 171.4ZM598.7 171.4 596.0 172.8 599.7 173.9 602.5 172.5ZM598.1 187.2 595.3 188.7 599.1 189.8 602.0 188.3ZM704.0 134.1 701.5 135.4 705.4 136.3 707.8 135.0ZM701.5 135.4 699.1 136.7 702.9 137.6 705.4 136.3ZM686.8 143.2 684.3 144.5 688.1 145.5 690.6 144.2ZM648.4 163.6 645.7 165.0 649.6 166.1 652.2 164.7ZM643.1 166.5 640.4 167.9 644.3 168.9 646.9 167.5ZM626.9 175.0 624.2 176.5 628.1 177.6 630.8 176.1ZM607.6 185.3 604.8 186.8 608.7 188.0 611.5 186.5ZM604.8 186.8 602.0 188.3 605.8 189.5 608.7 188.0Z" fill="#74ec20" stroke="#74ec20" stroke-width="0.45"/>
<path d="M563.3 103.2 560.8 104.4 564.0 105.2 566.5 104.0ZM560.8 104.4 558.4 105.5 561.5 106.3 564.0 105.2ZM558.4 105.5 555.9 106.6 559.1 107.4 561.5 106.3ZM555.9 106.6 553.4 107.8 556.6 108.6 559.1 107.4ZM553.4 107.8 550.9 108.9 554.1 109.7 556.6 108.6ZM550.9 108.9 548.4 110.1 551.6 110.9 554.1 109.7ZM548.4 110.1 545.9 111.2 549.0 112.0 551.6 110.9ZM545.9 111.2 543.3 112.4 546.5 113.2 549.0 112.0ZM543.3 112.4 540.8 113.5 544.0 114.3 546.5 113.2ZM540.8 113.5 538.2 114.7 541.4 115.5 544.0 114.3ZM538.2 114.7 535.7 115.8 538.9 116.7 541.4 115.5ZM533.1 117.0 530.6 118.2 533.7 119.0 536.3 117.8ZM530.6 118.2 528.0 119.4 531.2 120.2 533.7 119.0ZM528.0 119.4 525.4 120.6 528.6 121.4 531.2 120.2ZM522.8 121.7 520.2 122.9 523.4 123.8 526.0 122.6ZM520.2 122.9 517.6 124.1 520.7 125.0 523.4 123.8ZM514.9 125.3 512.3 126.5 515.5 127.4 518.1 126.2ZM509.6 127.7 507.0 129.0 510.2 129.8 512.8 128.6ZM507.0 129.0 504.3 130.2 507.5 131.1 510.2 129.8ZM504.3 130.2 501.6 131.4 504.8 132.3 507.5 131.1ZM501.6 131.4 498.9 132.6 502.1 133.5 504.8 132.3ZM496.3 133.9 493.5 135.1 496.7 136.0 499.4 134.8ZM493.5 135.1 490.8 136.3 494.0 137.2 496.7 136.0ZM490.8 136.3 488.1 137.6 491.3 138.5 494.0 137.2ZM488.1 137.6 485.4 138.8 488.5 139.7 491.3 138.5ZM485.4 138.8 482.6 140.1 485.8 141.0 488.5 139.7ZM482.6 140.1 479.9 141.3 483.0 142.3 485.8 141.0ZM479.9 141.3 477.1 142.6 480.3 143.5 483.0 142.3ZM477.1 142.6 474.3 143.9 477.5 144.8 480.3 143.5ZM474.3 143.9 471.5 145.2 474.7 146.1 477.5 144.8ZM471.5 145.2 468.7 146.4 471.9 147.4 474.7 146.1ZM468.7 146.4 465.9 147.7 469.1 148.7 471.9 147.4ZM571.4 101.8 568.9 102.9 572.1 103.7 574.6 102.6ZM568.9 102.9 566.5 104.0 569.7 104.8 572.1 103.7ZM566.5 104.0 564.0 105.2 567.2 105.9 569.7 104.8ZM564.0 105.2 561.5 106.3 564.7 107.1 567.2 105.9ZM561.5 106.3 559.1 107.4 562.3 108.2 564.7 107.1ZM559.1 107.4 556.6 108.6 559.8 109.4 562.3 108.2ZM556.6 108.6 554.1 109.7 557.3 110.5 559.8 109.4ZM549.0 112.0 546.5 113.2 549.7 114.0 552.2 112.8ZM544.0 114.3 541.4 115.5 544.6 116.3 547.2 115.2ZM541.4 115.5 538.9 116.7 542.1 117.5 544.6 116.3ZM536.3 117.8 533.7 119.0 536.9 119.9 539.5 118.7ZM533.7 119.0 531.2 120.2 534.3 121.1 536.9 119.9ZM531.2 120.2 528.6 121.4 531.8 122.2 534.3 121.1ZM523.4 123.8 520.7 125.0 523.9 125.8 526.5 124.6ZM518.1 126.2 515.5 127.4 518.7 128.3 521.3 127.1ZM510.2 129.8 507.5 131.1 510.7 131.9 513.3 130.7ZM507.5 131.1 504.8 132.3 508.0 133.2 510.7 131.9ZM499.4 134.8 496.7 136.0 499.9 136.9 502.6 135.6ZM494.0 137.2 491.3 138.5 494.5 139.4 497.2 138.1ZM488.5 139.7 485.8 141.0 489.0 141.9 491.7 140.7ZM480.3 143.5 477.5 144.8 480.7 145.7 483.4 144.5ZM477.5 144.8 474.7 146.1 477.9 147.0 480.7 145.7ZM474.7 146.1 471.9 147.4 475.1 148.3 477.9 147.0ZM574.6 102.6 572.1 103.7 575.3 104.5 577.8 103.3ZM572.1 103.7 569.7 104.8 572.9 105.6 575.3 104.5ZM569.7 104.8 567.2 105.9 570.4 106.7 572.9 105.6ZM564.7 107.1 562.3 108.2 565.5 109.0 567.9 107.9ZM562.3 108.2 559.8 109.4 563.0 110.2 565.5 109.0ZM554.7 111.7 552.2 112.8 555.4 113.6 558.0 112.5ZM539.5 118.7 536.9 119.9 540.1 120.7 542.7 119.5ZM526.5 124.6 523.9 125.8 527.1 126.7 529.8 125.5ZM523.9 125.8 521.3 127.1 524.5 127.9 527.1 126.7ZM521.3 127.1 518.7 128.3 521.9 129.1 524.5 127.9ZM518.7 128.3 516.0 129.5 519.2 130.4 521.9 129.1ZM510.7 131.9 508.0 133.2 511.2 134.1 513.9 132.8ZM508.0 133.2 505.3 134.4 508.5 135.3 511.2 134.1ZM483.4 144.5 480.7 145.7 483.9 146.7 486.6 145.4ZM475.1 148.3 472.3 149.6 475.5 150.6 478.3 149.3ZM472.3 149.6 469.4 150.9 472.6 151.9 475.5 150.6ZM577.8 103.3 575.3 104.5 578.6 105.3 581.0 104.1ZM575.3 104.5 572.9 105.6 576.1 106.4 578.6 105.3ZM572.9 105.6 570.4 106.7 573.6 107.5 576.1 106.4ZM567.9 107.9 565.5 109.0 568.7 109.8 571.2 108.7ZM565.5 109.0 563.0 110.2 566.2 111.0 568.7 109.8ZM563.0 110.2 560.5 111.3 563.7 112.1 566.2 111.0ZM560.5 111.3 558.0 112.5 561.2 113.3 563.7 112.1ZM555.4 113.6 552.9 114.8 556.1 115.6 558.7 114.5ZM552.9 114.8 550.4 116.0 553.6 116.8 556.1 115.6ZM547.8 117.2 545.3 118.3 548.5 119.2 551.1 118.0ZM542.7 119.5 540.1 120.7 543.4 121.6 545.9 120.4ZM511.2 134.1 508.5 135.3 511.7 136.2 514.4 135.0ZM508.5 135.3 505.8 136.6 509.0 137.5 511.7 136.2ZM497.7 140.3 494.9 141.6 498.1 142.5 500.9 141.2ZM494.9 141.6 492.2 142.8 495.4 143.8 498.1 142.5ZM486.6 145.4 483.9 146.7 487.1 147.6 489.9 146.3ZM481.1 148.0 478.3 149.3 481.5 150.2 484.3 148.9ZM478.3 149.3 475.5 150.6 478.7 151.5 481.5 150.2ZM475.5 150.6 472.6 151.9 475.9 152.8 478.7 151.5ZM576.1 106.4 573.6 107.5 576.9 108.3 579.3 107.2ZM571.2 108.7 568.7 109.8 571.9 110.6 574.4 109.5ZM561.2 113.3 558.7 114.5 561.9 115.3 564.4 114.1ZM558.7 114.5 556.1 115.6 559.4 116.5 561.9 115.3ZM503.6 140.0 500.9 141.2 504.1 142.2 506.8 140.9ZM500.9 141.2 498.1 142.5 501.4 143.4 504.1 142.2ZM498.1 142.5 495.4 143.8 498.6 144.7 501.4 143.4ZM495.4 143.8 492.6 145.1 495.9 146.0 498.6 144.7ZM481.5 150.2 478.7 151.5 481.9 152.5 484.7 151.2ZM478.7 151.5 475.9 152.8 479.1 153.8 481.9 152.5ZM584.3 104.9 581.8 106.0 585.1 106.8 587.5 105.7ZM569.4 111.8 566.9 113.0 570.2 113.8 572.7 112.6ZM566.9 113.0 564.4 114.1 567.7 115.0 570.2 113.8ZM564.4 114.1 561.9 115.3 565.2 116.1 567.7 115.0ZM515.0 137.1 512.3 138.4 515.5 139.3 518.2 138.0ZM506.8 140.9 504.1 142.2 507.4 143.1 510.1 141.8ZM501.4 143.4 498.6 144.7 501.9 145.7 504.6 144.4ZM498.6 144.7 495.9 146.0 499.1 146.9 501.9 145.7ZM493.1 147.3 490.3 148.6 493.6 149.5 496.3 148.2ZM490.3 148.6 487.5 149.9 490.8 150.8 493.6 149.5ZM487.5 149.9 484.7 151.2 488.0 152.1 490.8 150.8ZM484.7 151.2 481.9 152.5 485.1 153.5 488.0 152.1ZM481.9 152.5 479.1 153.8 482.3 154.8 485.1 153.5ZM587.5 105.7 585.1 106.8 588.3 107.6 590.8 106.5ZM585.1 106.8 582.6 108.0 585.9 108.8 588.3 107.6ZM582.6 108.0 580.1 109.1 583.4 109.9 585.9 108.8ZM577.7 110.3 575.2 111.5 578.5 112.3 580.9 111.1ZM575.2 111.5 572.7 112.6 576.0 113.4 578.5 112.3ZM572.7 112.6 570.2 113.8 573.5 114.6 576.0 113.4ZM570.2 113.8 567.7 115.0 571.0 115.8 573.5 114.6ZM567.7 115.0 565.2 116.1 568.4 117.0 571.0 115.8ZM565.2 116.1 562.6 117.3 565.9 118.1 568.4 117.0ZM562.6 117.3 560.1 118.5 563.4 119.3 565.9 118.1ZM515.5 139.3 512.8 140.5 516.1 141.5 518.8 140.2ZM512.8 140.5 510.1 141.8 513.4 142.7 516.1 141.5ZM510.1 141.8 507.4 143.1 510.6 144.0 513.4 142.7ZM507.4 143.1 504.6 144.4 507.9 145.3 510.6 144.0ZM504.6 144.4 501.9 145.7 505.1 146.6 507.9 145.3ZM501.9 145.7 499.1 146.9 502.4 147.9 505.1 146.6ZM499.1 146.9 496.3 148.2 499.6 149.2 502.4 147.9ZM496.3 148.2 493.6 149.5 496.8 150.5 499.6 149.2ZM488.0 152.1 485.1 153.5 488.4 154.4 491.2 153.1ZM485.1 153.5 482.3 154.8 485.6 155.8 488.4 154.4ZM590.8 106.5 588.3 107.6 591.6 108.4 594.1 107.3ZM588.3 107.6 585.9 108.8 589.2 109.6 591.6 108.4ZM576.0 113.4 573.5 114.6 576.7 115.4 579.2 114.3ZM571.0 115.8 568.4 117.0 571.7 117.8 574.2 116.6ZM568.4 117.0 565.9 118.1 569.2 119.0 571.7 117.8ZM563.4 119.3 560.8 120.5 564.1 121.4 566.7 120.2ZM516.1 141.5 513.4 142.7 516.6 143.7 519.4 142.4ZM513.4 142.7 510.6 144.0 513.9 145.0 516.6 143.7ZM510.6 144.0 507.9 145.3 511.2 146.2 513.9 145.0ZM505.1 146.6 502.4 147.9 505.7 148.8 508.4 147.5ZM502.4 147.9 499.6 149.2 502.9 150.1 505.7 148.8ZM499.6 149.2 496.8 150.5 500.1 151.5 502.9 150.1ZM496.8 150.5 494.0 151.8 497.3 152.8 500.1 151.5ZM494.0 151.8 491.2 153.1 494.5 154.1 497.3 152.8ZM491.2 153.1 488.4 154.4 491.7 155.4 494.5 154.1ZM594.1 107.3 591.6 108.4 594.9 109.3 597.4 108.1ZM591.6 108.4 589.2 109.6 592.5 110.4 594.9 109.3ZM589.2 109.6 586.7 110.8 590.0 111.6 592.5 110.4ZM581.7 113.1 579.2 114.3 582.5 115.1 585.0 113.9ZM576.7 115.4 574.2 116.6 577.5 117.5 580.0 116.3ZM574.2 116.6 571.7 117.8 575.0 118.6 577.5 117.5ZM571.7 117.8 569.2 119.0 572.5 119.8 575.0 118.6ZM569.2 119.0 566.7 120.2 570.0 121.0 572.5 119.8ZM566.7 120.2 564.1 121.4 567.4 122.2 570.0 121.0ZM564.1 121.4 561.6 122.6 564.9 123.4 567.4 122.2ZM522.1 141.1 519.4 142.4 522.7 143.3 525.4 142.1ZM516.6 143.7 513.9 145.0 517.2 145.9 519.9 144.6ZM513.9 145.0 511.2 146.2 514.5 147.2 517.2 145.9ZM508.4 147.5 505.7 148.8 509.0 149.8 511.7 148.5ZM502.9 150.1 500.1 151.5 503.4 152.4 506.2 151.1ZM500.1 151.5 497.3 152.8 500.6 153.7 503.4 152.4ZM497.3 152.8 494.5 154.1 497.8 155.1 500.6 153.7ZM494.5 154.1 491.7 155.4 495.0 156.4 497.8 155.1ZM491.7 155.4 488.9 156.7 492.2 157.7 495.0 156.4ZM597.4 108.1 594.9 109.3 598.2 110.1 600.7 108.9ZM594.9 109.3 592.5 110.4 595.8 111.2 598.2 110.1ZM590.0 111.6 587.5 112.7 590.8 113.6 593.3 112.4ZM587.5 112.7 585.0 113.9 588.4 114.7 590.8 113.6ZM585.0 113.9 582.5 115.1 585.9 115.9 588.4 114.7ZM582.5 115.1 580.0 116.3 583.4 117.1 585.9 115.9ZM580.0 116.3 577.5 117.5 580.9 118.3 583.4 117.1ZM577.5 117.5 575.0 118.6 578.3 119.5 580.9 118.3ZM575.0 118.6 572.5 119.8 575.8 120.7 578.3 119.5ZM570.0 121.0 567.4 122.2 570.7 123.1 573.3 121.9ZM522.7 143.3 519.9 144.6 523.3 145.6 526.0 144.3ZM519.9 144.6 517.2 145.9 520.5 146.9 523.3 145.6ZM517.2 145.9 514.5 147.2 517.8 148.1 520.5 146.9ZM514.5 147.2 511.7 148.5 515.0 149.5 517.8 148.1ZM511.7 148.5 509.0 149.8 512.3 150.8 515.0 149.5ZM509.0 149.8 506.2 151.1 509.5 152.1 512.3 150.8ZM506.2 151.1 503.4 152.4 506.7 153.4 509.5 152.1ZM503.4 152.4 500.6 153.7 503.9 154.7 506.7 153.4ZM500.6 153.7 497.8 155.1 501.1 156.0 503.9 154.7ZM497.8 155.1 495.0 156.4 498.3 157.4 501.1 156.0ZM495.0 156.4 492.2 157.7 495.5 158.7 498.3 157.4ZM600.7 108.9 598.2 110.1 601.6 110.9 604.0 109.7ZM595.8 111.2 593.3 112.4 596.6 113.2 599.1 112.1ZM593.3 112.4 590.8 113.6 594.2 114.4 596.6 113.2ZM590.8 113.6 588.4 114.7 591.7 115.6 594.2 114.4ZM583.4 117.1 580.9 118.3 584.2 119.1 586.7 117.9ZM580.9 118.3 578.3 119.5 581.7 120.3 584.2 119.1ZM578.3 119.5 575.8 120.7 579.1 121.5 581.7 120.3ZM575.8 120.7 573.3 121.9 576.6 122.7 579.1 121.5ZM528.7 143.0 526.0 144.3 529.3 145.2 532.0 143.9ZM526.0 144.3 523.3 145.6 526.6 146.5 529.3 145.2ZM523.3 145.6 520.5 146.9 523.9 147.8 526.6 146.5ZM520.5 146.9 517.8 148.1 521.1 149.1 523.9 147.8ZM517.8 148.1 515.0 149.5 518.4 150.4 521.1 149.1ZM515.0 149.5 512.3 150.8 515.6 151.7 518.4 150.4ZM512.3 150.8 509.5 152.1 512.8 153.0 515.6 151.7ZM509.5 152.1 506.7 153.4 510.0 154.4 512.8 153.0ZM498.3 157.4 495.5 158.7 498.8 159.7 501.6 158.4ZM604.0 109.7 601.6 110.9 604.9 111.7 607.4 110.5ZM591.7 115.6 589.2 116.8 592.5 117.6 595.0 116.4ZM584.2 119.1 581.7 120.3 585.0 121.2 587.5 120.0ZM512.8 153.0 510.0 154.4 513.4 155.4 516.2 154.0ZM504.4 157.0 501.6 158.4 505.0 159.4 507.8 158.0ZM501.6 158.4 498.8 159.7 502.1 160.7 505.0 159.4ZM607.4 110.5 604.9 111.7 608.3 112.5 610.7 111.4ZM604.9 111.7 602.5 112.9 605.8 113.7 608.3 112.5ZM521.7 151.4 518.9 152.7 522.3 153.7 525.1 152.4ZM507.8 158.0 505.0 159.4 508.3 160.4 511.1 159.0ZM505.0 159.4 502.1 160.7 505.5 161.7 508.3 160.4ZM562.7 134.3 560.1 135.6 563.4 136.5 566.1 135.3ZM560.1 135.6 557.4 136.9 560.8 137.8 563.4 136.5ZM508.3 160.4 505.5 161.7 508.9 162.7 511.7 161.4ZM614.1 112.2 611.6 113.4 615.0 114.2 617.5 113.0ZM611.6 113.4 609.2 114.5 612.6 115.4 615.0 114.2ZM609.2 114.5 606.7 115.7 610.1 116.6 612.6 115.4ZM606.7 115.7 604.3 116.9 607.7 117.7 610.1 116.6ZM560.8 137.8 558.2 139.0 561.6 140.0 564.2 138.7ZM514.5 160.0 511.7 161.4 515.1 162.4 517.9 161.0ZM511.7 161.4 508.9 162.7 512.3 163.8 515.1 162.4ZM617.5 113.0 615.0 114.2 618.5 115.0 620.9 113.8ZM615.0 114.2 612.6 115.4 616.0 116.2 618.5 115.0ZM612.6 115.4 610.1 116.6 613.5 117.4 616.0 116.2ZM569.5 136.2 566.8 137.4 570.3 138.3 572.9 137.1ZM566.8 137.4 564.2 138.7 567.6 139.6 570.3 138.3ZM564.2 138.7 561.6 140.0 565.0 140.9 567.6 139.6ZM561.6 140.0 558.9 141.3 562.3 142.2 565.0 140.9ZM558.9 141.3 556.3 142.5 559.7 143.5 562.3 142.2ZM556.3 142.5 553.6 143.8 557.0 144.8 559.7 143.5ZM553.6 143.8 550.9 145.1 554.3 146.1 557.0 144.8ZM548.2 146.4 545.5 147.7 548.9 148.7 551.6 147.4ZM620.9 113.8 618.5 115.0 621.9 115.9 624.3 114.7ZM575.5 135.8 572.9 137.1 576.3 138.0 578.9 136.7ZM572.9 137.1 570.3 138.3 573.7 139.3 576.3 138.0ZM570.3 138.3 567.6 139.6 571.1 140.6 573.7 139.3ZM567.6 139.6 565.0 140.9 568.4 141.8 571.1 140.6ZM565.0 140.9 562.3 142.2 565.8 143.1 568.4 141.8ZM562.3 142.2 559.7 143.5 563.1 144.4 565.8 143.1ZM559.7 143.5 557.0 144.8 560.4 145.7 563.1 144.4ZM551.6 147.4 548.9 148.7 552.4 149.6 555.1 148.3ZM548.9 148.7 546.2 150.0 549.6 151.0 552.4 149.6ZM521.3 162.0 518.5 163.4 521.9 164.4 524.7 163.1ZM624.3 114.7 621.9 115.9 625.3 116.7 627.8 115.5ZM621.9 115.9 619.4 117.0 622.9 117.9 625.3 116.7ZM586.7 133.0 584.1 134.2 587.6 135.1 590.1 133.9ZM578.9 136.7 576.3 138.0 579.8 138.9 582.4 137.7ZM576.3 138.0 573.7 139.3 577.1 140.2 579.8 138.9ZM573.7 139.3 571.1 140.6 574.5 141.5 577.1 140.2ZM571.1 140.6 568.4 141.8 571.9 142.8 574.5 141.5ZM568.4 141.8 565.8 143.1 569.2 144.1 571.9 142.8ZM565.8 143.1 563.1 144.4 566.5 145.4 569.2 144.1ZM563.1 144.4 560.4 145.7 563.9 146.7 566.5 145.4ZM560.4 145.7 557.7 147.0 561.2 148.0 563.9 146.7ZM557.7 147.0 555.1 148.3 558.5 149.3 561.2 148.0ZM555.1 148.3 552.4 149.6 555.8 150.6 558.5 149.3ZM524.7 163.1 521.9 164.4 525.4 165.5 528.2 164.1ZM521.9 164.4 519.1 165.8 522.5 166.8 525.4 165.5ZM627.8 115.5 625.3 116.7 628.8 117.5 631.2 116.3ZM622.9 117.9 620.4 119.1 623.9 120.0 626.3 118.7ZM590.1 133.9 587.6 135.1 591.0 136.0 593.6 134.8ZM587.6 135.1 585.0 136.4 588.4 137.3 591.0 136.0ZM582.4 137.7 579.8 138.9 583.2 139.9 585.8 138.6ZM577.1 140.2 574.5 141.5 578.0 142.4 580.6 141.1ZM574.5 141.5 571.9 142.8 575.3 143.7 578.0 142.4ZM571.9 142.8 569.2 144.1 572.7 145.0 575.3 143.7ZM569.2 144.1 566.5 145.4 570.0 146.3 572.7 145.0ZM566.5 145.4 563.9 146.7 567.3 147.6 570.0 146.3ZM563.9 146.7 561.2 148.0 564.7 148.9 567.3 147.6ZM561.2 148.0 558.5 149.3 562.0 150.3 564.7 148.9ZM558.5 149.3 555.8 150.6 559.3 151.6 562.0 150.3ZM553.1 151.9 550.4 153.3 553.8 154.3 556.6 152.9ZM528.2 164.1 525.4 165.5 528.8 166.5 531.6 165.1ZM525.4 165.5 522.5 166.8 526.0 167.9 528.8 166.5ZM631.2 116.3 628.8 117.5 632.3 118.4 634.7 117.2ZM628.8 117.5 626.3 118.7 629.8 119.6 632.3 118.4ZM623.9 120.0 621.4 121.2 624.9 122.0 627.3 120.8ZM596.2 133.5 593.6 134.8 597.1 135.7 599.7 134.4ZM593.6 134.8 591.0 136.0 594.5 137.0 597.1 135.7ZM588.4 137.3 585.8 138.6 589.3 139.5 591.9 138.2ZM585.8 138.6 583.2 139.9 586.7 140.8 589.3 139.5ZM583.2 139.9 580.6 141.1 584.1 142.1 586.7 140.8ZM572.7 145.0 570.0 146.3 573.5 147.3 576.2 146.0ZM570.0 146.3 567.3 147.6 570.8 148.6 573.5 147.3ZM567.3 147.6 564.7 148.9 568.1 149.9 570.8 148.6ZM564.7 148.9 562.0 150.3 565.4 151.2 568.1 149.9ZM562.0 150.3 559.3 151.6 562.7 152.6 565.4 151.2ZM559.3 151.6 556.6 152.9 560.0 153.9 562.7 152.6ZM528.8 166.5 526.0 167.9 529.5 168.9 532.3 167.5ZM599.7 134.4 597.1 135.7 600.6 136.6 603.2 135.3ZM591.9 138.2 589.3 139.5 592.8 140.4 595.4 139.2ZM589.3 139.5 586.7 140.8 590.2 141.7 592.8 140.4ZM570.8 148.6 568.1 149.9 571.6 150.9 574.3 149.6ZM568.1 149.9 565.4 151.2 568.9 152.2 571.6 150.9ZM565.4 151.2 562.7 152.6 566.2 153.6 568.9 152.2ZM535.1 166.1 532.3 167.5 535.8 168.6 538.6 167.2ZM532.3 167.5 529.5 168.9 533.0 170.0 535.8 168.6ZM638.2 118.0 635.7 119.3 639.3 120.1 641.7 118.9ZM598.0 137.9 595.4 139.2 598.9 140.1 601.5 138.8ZM595.4 139.2 592.8 140.4 596.3 141.4 598.9 140.1ZM577.0 148.2 574.3 149.6 577.8 150.5 580.5 149.2ZM574.3 149.6 571.6 150.9 575.2 151.9 577.8 150.5ZM571.6 150.9 568.9 152.2 572.5 153.2 575.2 151.9ZM568.9 152.2 566.2 153.6 569.8 154.5 572.5 153.2ZM563.5 154.9 560.8 156.2 564.3 157.2 567.0 155.9ZM538.6 167.2 535.8 168.6 539.3 169.6 542.1 168.2ZM535.8 168.6 533.0 170.0 536.5 171.0 539.3 169.6ZM641.7 118.9 639.3 120.1 642.8 121.0 645.2 119.8ZM639.3 120.1 636.8 121.3 640.3 122.2 642.8 121.0ZM609.2 135.0 606.7 136.3 610.2 137.2 612.8 135.9ZM606.7 136.3 604.1 137.5 607.6 138.5 610.2 137.2ZM601.5 138.8 598.9 140.1 602.5 141.0 605.1 139.7ZM598.9 140.1 596.3 141.4 599.9 142.3 602.5 141.0ZM593.7 142.7 591.1 144.0 594.6 144.9 597.3 143.6ZM580.5 149.2 577.8 150.5 581.4 151.5 584.0 150.2ZM577.8 150.5 575.2 151.9 578.7 152.9 581.4 151.5ZM575.2 151.9 572.5 153.2 576.0 154.2 578.7 152.9ZM572.5 153.2 569.8 154.5 573.3 155.5 576.0 154.2ZM567.0 155.9 564.3 157.2 567.9 158.2 570.6 156.9ZM564.3 157.2 561.6 158.6 565.1 159.6 567.9 158.2ZM542.1 168.2 539.3 169.6 542.9 170.7 545.7 169.3ZM539.3 169.6 536.5 171.0 540.0 172.1 542.9 170.7ZM645.2 119.8 642.8 121.0 646.3 121.8 648.8 120.6ZM640.3 122.2 637.9 123.4 641.4 124.3 643.9 123.1ZM610.2 137.2 607.6 138.5 611.2 139.4 613.8 138.1ZM607.6 138.5 605.1 139.7 608.6 140.7 611.2 139.4ZM602.5 141.0 599.9 142.3 603.4 143.3 606.0 142.0ZM599.9 142.3 597.3 143.6 600.8 144.6 603.4 143.3ZM584.0 150.2 581.4 151.5 584.9 152.5 587.6 151.2ZM578.7 152.9 576.0 154.2 579.6 155.2 582.2 153.8ZM576.0 154.2 573.3 155.5 576.8 156.5 579.6 155.2ZM573.3 155.5 570.6 156.9 574.1 157.9 576.8 156.5ZM542.9 170.7 540.0 172.1 543.6 173.2 546.4 171.7ZM648.8 120.6 646.3 121.8 649.9 122.7 652.3 121.5ZM646.3 121.8 643.9 123.1 647.4 123.9 649.9 122.7ZM641.4 124.3 638.9 125.5 642.5 126.4 645.0 125.2ZM611.2 139.4 608.6 140.7 612.2 141.6 614.8 140.3ZM608.6 140.7 606.0 142.0 609.6 142.9 612.2 141.6ZM606.0 142.0 603.4 143.3 607.0 144.2 609.6 142.9ZM603.4 143.3 600.8 144.6 604.4 145.5 607.0 144.2ZM598.2 145.9 595.6 147.2 599.1 148.2 601.8 146.8ZM595.6 147.2 592.9 148.5 596.5 149.5 599.1 148.2ZM587.6 151.2 584.9 152.5 588.5 153.5 591.2 152.2ZM584.9 152.5 582.2 153.8 585.8 154.8 588.5 153.5ZM582.2 153.8 579.6 155.2 583.1 156.2 585.8 154.8ZM579.6 155.2 576.8 156.5 580.4 157.5 583.1 156.2ZM576.8 156.5 574.1 157.9 577.7 158.9 580.4 157.5ZM552.0 168.9 549.2 170.3 552.8 171.4 555.6 170.0ZM549.2 170.3 546.4 171.7 550.0 172.8 552.8 171.4ZM546.4 171.7 543.6 173.2 547.1 174.2 550.0 172.8ZM649.9 122.7 647.4 123.9 651.0 124.8 653.5 123.6ZM617.3 139.0 614.8 140.3 618.3 141.3 620.9 140.0ZM614.8 140.3 612.2 141.6 615.8 142.6 618.3 141.3ZM609.6 142.9 607.0 144.2 610.6 145.2 613.2 143.9ZM607.0 144.2 604.4 145.5 608.0 146.5 610.6 145.2ZM604.4 145.5 601.8 146.8 605.3 147.8 608.0 146.5ZM601.8 146.8 599.1 148.2 602.7 149.1 605.3 147.8ZM596.5 149.5 593.8 150.8 597.4 151.8 600.1 150.5ZM593.8 150.8 591.2 152.2 594.8 153.1 597.4 151.8ZM591.2 152.2 588.5 153.5 592.1 154.5 594.8 153.1ZM588.5 153.5 585.8 154.8 589.4 155.8 592.1 154.5ZM585.8 154.8 583.1 156.2 586.7 157.2 589.4 155.8ZM583.1 156.2 580.4 157.5 584.0 158.6 586.7 157.2ZM580.4 157.5 577.7 158.9 581.3 159.9 584.0 158.6ZM577.7 158.9 575.0 160.3 578.6 161.3 581.3 159.9ZM552.8 171.4 550.0 172.8 553.6 173.9 556.4 172.5ZM550.0 172.8 547.1 174.2 550.7 175.3 553.6 173.9ZM653.5 123.6 651.0 124.8 654.6 125.7 657.0 124.5ZM618.3 141.3 615.8 142.6 619.4 143.5 621.9 142.2ZM613.2 143.9 610.6 145.2 614.2 146.1 616.8 144.8ZM610.6 145.2 608.0 146.5 611.6 147.5 614.2 146.1ZM608.0 146.5 605.3 147.8 608.9 148.8 611.6 147.5ZM605.3 147.8 602.7 149.1 606.3 150.1 608.9 148.8ZM602.7 149.1 600.1 150.5 603.7 151.4 606.3 150.1ZM600.1 150.5 597.4 151.8 601.0 152.8 603.7 151.4ZM597.4 151.8 594.8 153.1 598.4 154.1 601.0 152.8ZM594.8 153.1 592.1 154.5 595.7 155.5 598.4 154.1ZM592.1 154.5 589.4 155.8 593.0 156.8 595.7 155.5ZM589.4 155.8 586.7 157.2 590.3 158.2 593.0 156.8ZM586.7 157.2 584.0 158.6 587.6 159.6 590.3 158.2ZM556.4 172.5 553.6 173.9 557.2 175.0 560.0 173.5ZM553.6 173.9 550.7 175.3 554.3 176.4 557.2 175.0ZM659.5 123.2 657.0 124.5 660.7 125.3 663.1 124.1ZM657.0 124.5 654.6 125.7 658.2 126.6 660.7 125.3ZM619.4 143.5 616.8 144.8 620.4 145.8 623.0 144.5ZM614.2 146.1 611.6 147.5 615.2 148.4 617.8 147.1ZM611.6 147.5 608.9 148.8 612.6 149.8 615.2 148.4ZM608.9 148.8 606.3 150.1 609.9 151.1 612.6 149.8ZM606.3 150.1 603.7 151.4 607.3 152.4 609.9 151.1ZM601.0 152.8 598.4 154.1 602.0 155.1 604.6 153.8ZM598.4 154.1 595.7 155.5 599.3 156.5 602.0 155.1ZM593.0 156.8 590.3 158.2 593.9 159.2 596.6 157.8ZM560.0 173.5 557.2 175.0 560.8 176.0 563.6 174.6ZM557.2 175.0 554.3 176.4 558.0 177.5 560.8 176.0ZM660.7 125.3 658.2 126.6 661.8 127.5 664.3 126.2ZM658.2 126.6 655.8 127.8 659.4 128.7 661.8 127.5ZM643.3 134.1 640.8 135.4 644.5 136.3 647.0 135.1ZM620.4 145.8 617.8 147.1 621.4 148.1 624.0 146.8ZM617.8 147.1 615.2 148.4 618.8 149.4 621.4 148.1ZM604.6 153.8 602.0 155.1 605.6 156.1 608.3 154.8ZM602.0 155.1 599.3 156.5 603.0 157.5 605.6 156.1ZM599.3 156.5 596.6 157.8 600.3 158.9 603.0 157.5ZM577.6 167.5 574.8 168.9 578.4 170.0 581.2 168.6ZM560.8 176.0 558.0 177.5 561.6 178.6 564.4 177.1ZM664.3 126.2 661.8 127.5 665.5 128.4 667.9 127.1ZM661.8 127.5 659.4 128.7 663.0 129.6 665.5 128.4ZM647.0 135.1 644.5 136.3 648.1 137.3 650.6 136.0ZM621.4 148.1 618.8 149.4 622.5 150.4 625.1 149.1ZM616.2 150.7 613.6 152.1 617.2 153.1 619.9 151.7ZM613.6 152.1 610.9 153.4 614.6 154.4 617.2 153.1ZM610.9 153.4 608.3 154.8 611.9 155.8 614.6 154.4ZM605.6 156.1 603.0 157.5 606.6 158.5 609.3 157.1ZM603.0 157.5 600.3 158.9 603.9 159.9 606.6 158.5ZM600.3 158.9 597.6 160.2 601.2 161.3 603.9 159.9ZM584.0 167.2 581.2 168.6 584.9 169.6 587.6 168.2ZM578.4 170.0 575.7 171.4 579.3 172.5 582.1 171.1ZM567.3 175.7 564.4 177.1 568.1 178.2 570.9 176.8ZM564.4 177.1 561.6 178.6 565.3 179.7 568.1 178.2ZM665.5 128.4 663.0 129.6 666.7 130.5 669.1 129.3ZM663.0 129.6 660.6 130.9 664.2 131.8 666.7 130.5ZM660.6 130.9 658.1 132.2 661.8 133.1 664.2 131.8ZM658.1 132.2 655.6 133.4 659.3 134.4 661.8 133.1ZM653.1 134.7 650.6 136.0 654.3 136.9 656.8 135.6ZM650.6 136.0 648.1 137.3 651.8 138.2 654.3 136.9ZM587.6 168.2 584.9 169.6 588.6 170.7 591.3 169.3ZM584.9 169.6 582.1 171.1 585.8 172.1 588.6 170.7ZM582.1 171.1 579.3 172.5 583.0 173.6 585.8 172.1ZM579.3 172.5 576.5 173.9 580.2 175.0 583.0 173.6ZM573.7 175.3 570.9 176.8 574.6 177.9 577.4 176.4ZM568.1 178.2 565.3 179.7 569.0 180.8 571.8 179.3ZM674.0 126.8 671.6 128.0 675.3 128.9 677.7 127.7ZM671.6 128.0 669.1 129.3 672.8 130.2 675.3 128.9ZM664.2 131.8 661.8 133.1 665.4 134.0 667.9 132.7ZM661.8 133.1 659.3 134.4 663.0 135.3 665.4 134.0ZM659.3 134.4 656.8 135.6 660.5 136.6 663.0 135.3ZM656.8 135.6 654.3 136.9 658.0 137.9 660.5 136.6ZM654.3 136.9 651.8 138.2 655.5 139.1 658.0 137.9ZM651.8 138.2 649.3 139.5 653.0 140.4 655.5 139.1ZM649.3 139.5 646.7 140.8 650.4 141.7 653.0 140.4ZM599.5 165.1 596.8 166.5 600.5 167.5 603.2 166.1ZM594.1 167.9 591.3 169.3 595.0 170.4 597.8 168.9ZM591.3 169.3 588.6 170.7 592.3 171.8 595.0 170.4ZM588.6 170.7 585.8 172.1 589.5 173.2 592.3 171.8ZM585.8 172.1 583.0 173.6 586.7 174.6 589.5 173.2ZM583.0 173.6 580.2 175.0 583.9 176.1 586.7 174.6ZM580.2 175.0 577.4 176.4 581.1 177.5 583.9 176.1ZM574.6 177.9 571.8 179.3 575.5 180.4 578.3 179.0ZM571.8 179.3 569.0 180.8 572.7 181.9 575.5 180.4ZM677.7 127.7 675.3 128.9 679.0 129.8 681.4 128.6ZM667.9 132.7 665.4 134.0 669.1 134.9 671.6 133.6ZM665.4 134.0 663.0 135.3 666.7 136.2 669.1 134.9ZM663.0 135.3 660.5 136.6 664.2 137.5 666.7 136.2ZM660.5 136.6 658.0 137.9 661.7 138.8 664.2 137.5ZM658.0 137.9 655.5 139.1 659.2 140.1 661.7 138.8ZM655.5 139.1 653.0 140.4 656.7 141.4 659.2 140.1ZM653.0 140.4 650.4 141.7 654.1 142.7 656.7 141.4ZM603.2 166.1 600.5 167.5 604.2 168.6 606.9 167.2ZM597.8 168.9 595.0 170.4 598.7 171.4 601.5 170.0ZM592.3 171.8 589.5 173.2 593.2 174.3 596.0 172.8ZM589.5 173.2 586.7 174.6 590.4 175.7 593.2 174.3ZM586.7 174.6 583.9 176.1 587.6 177.2 590.4 175.7ZM578.3 179.0 575.5 180.4 579.2 181.5 582.0 180.1ZM575.5 180.4 572.7 181.9 576.4 183.0 579.2 181.5ZM681.4 128.6 679.0 129.8 682.7 130.7 685.1 129.5ZM676.5 131.1 674.1 132.4 677.8 133.3 680.2 132.0ZM674.1 132.4 671.6 133.6 675.3 134.6 677.8 133.3ZM671.6 133.6 669.1 134.9 672.9 135.9 675.3 134.6ZM669.1 134.9 666.7 136.2 670.4 137.1 672.9 135.9ZM666.7 136.2 664.2 137.5 667.9 138.4 670.4 137.1ZM664.2 137.5 661.7 138.8 665.4 139.7 667.9 138.4ZM661.7 138.8 659.2 140.1 662.9 141.0 665.4 139.7ZM659.2 140.1 656.7 141.4 660.4 142.3 662.9 141.0ZM656.7 141.4 654.1 142.7 657.9 143.7 660.4 142.3ZM606.9 167.2 604.2 168.6 608.0 169.6 610.7 168.2ZM604.2 168.6 601.5 170.0 605.2 171.1 608.0 169.6ZM601.5 170.0 598.7 171.4 602.5 172.5 605.2 171.1ZM596.0 172.8 593.2 174.3 597.0 175.4 599.7 173.9ZM593.2 174.3 590.4 175.7 594.2 176.8 597.0 175.4ZM590.4 175.7 587.6 177.2 591.4 178.3 594.2 176.8ZM584.9 178.6 582.0 180.1 585.8 181.2 588.6 179.7ZM582.0 180.1 579.2 181.5 583.0 182.7 585.8 181.2ZM579.2 181.5 576.4 183.0 580.1 184.1 583.0 182.7ZM685.1 129.5 682.7 130.7 686.4 131.7 688.9 130.4ZM682.7 130.7 680.2 132.0 684.0 132.9 686.4 131.7ZM675.3 134.6 672.9 135.9 676.6 136.8 679.1 135.5ZM670.4 137.1 667.9 138.4 671.6 139.4 674.1 138.1ZM667.9 138.4 665.4 139.7 669.2 140.7 671.6 139.4ZM665.4 139.7 662.9 141.0 666.6 142.0 669.2 140.7ZM662.9 141.0 660.4 142.3 664.1 143.3 666.6 142.0ZM660.4 142.3 657.9 143.7 661.6 144.6 664.1 143.3ZM608.0 169.6 605.2 171.1 609.0 172.1 611.7 170.7ZM602.5 172.5 599.7 173.9 603.5 175.0 606.2 173.6ZM599.7 173.9 597.0 175.4 600.7 176.5 603.5 175.0ZM597.0 175.4 594.2 176.8 597.9 177.9 600.7 176.5ZM594.2 176.8 591.4 178.3 595.2 179.4 597.9 177.9ZM591.4 178.3 588.6 179.7 592.4 180.8 595.2 179.4ZM585.8 181.2 583.0 182.7 586.7 183.8 589.5 182.3ZM583.0 182.7 580.1 184.1 583.9 185.3 586.7 183.8ZM688.9 130.4 686.4 131.7 690.2 132.6 692.6 131.3ZM686.4 131.7 684.0 132.9 687.7 133.9 690.2 132.6ZM684.0 132.9 681.5 134.2 685.3 135.1 687.7 133.9ZM674.1 138.1 671.6 139.4 675.4 140.3 677.9 139.0ZM669.2 140.7 666.6 142.0 670.4 143.0 672.9 141.6ZM666.6 142.0 664.1 143.3 667.9 144.3 670.4 143.0ZM664.1 143.3 661.6 144.6 665.4 145.6 667.9 144.3ZM614.4 169.3 611.7 170.7 615.5 171.8 618.2 170.4ZM611.7 170.7 609.0 172.1 612.8 173.2 615.5 171.8ZM609.0 172.1 606.2 173.6 610.0 174.7 612.8 173.2ZM606.2 173.6 603.5 175.0 607.3 176.1 610.0 174.7ZM603.5 175.0 600.7 176.5 604.5 177.6 607.3 176.1ZM600.7 176.5 597.9 177.9 601.7 179.0 604.5 177.6ZM592.4 180.8 589.5 182.3 593.3 183.4 596.1 182.0ZM589.5 182.3 586.7 183.8 590.5 184.9 593.3 183.4ZM586.7 183.8 583.9 185.3 587.7 186.4 590.5 184.9ZM692.6 131.3 690.2 132.6 693.9 133.5 696.4 132.2ZM677.9 139.0 675.4 140.3 679.2 141.3 681.7 140.0ZM667.9 144.3 665.4 145.6 669.2 146.6 671.7 145.2ZM604.5 177.6 601.7 179.0 605.5 180.1 608.3 178.7ZM593.3 183.4 590.5 184.9 594.3 186.0 597.1 184.6ZM590.5 184.9 587.7 186.4 591.5 187.5 594.3 186.0ZM696.4 132.2 693.9 133.5 697.7 134.4 700.2 133.1ZM693.9 133.5 691.5 134.8 695.3 135.7 697.7 134.4ZM691.5 134.8 689.1 136.1 692.9 137.0 695.3 135.7ZM689.1 136.1 686.6 137.4 690.4 138.3 692.9 137.0ZM684.1 138.7 681.7 140.0 685.5 140.9 687.9 139.6ZM679.2 141.3 676.7 142.6 680.5 143.6 683.0 142.2ZM666.6 147.9 664.1 149.2 667.9 150.2 670.4 148.9ZM643.4 160.2 640.7 161.6 644.6 162.6 647.2 161.2ZM635.4 164.3 632.8 165.8 636.6 166.8 639.3 165.4ZM611.1 177.2 608.3 178.7 612.1 179.8 614.9 178.3ZM597.1 184.6 594.3 186.0 598.1 187.2 600.9 185.7ZM594.3 186.0 591.5 187.5 595.3 188.7 598.1 187.2ZM700.2 133.1 697.7 134.4 701.5 135.4 704.0 134.1ZM697.7 134.4 695.3 135.7 699.1 136.7 701.5 135.4ZM695.3 135.7 692.9 137.0 696.7 138.0 699.1 136.7ZM692.9 137.0 690.4 138.3 694.2 139.3 696.7 138.0ZM690.4 138.3 687.9 139.6 691.8 140.6 694.2 139.3ZM687.9 139.6 685.5 140.9 689.3 141.9 691.8 140.6ZM683.0 142.2 680.5 143.6 684.3 144.5 686.8 143.2ZM678.0 144.9 675.5 146.2 679.3 147.2 681.8 145.9ZM675.5 146.2 673.0 147.6 676.8 148.5 679.3 147.2ZM673.0 147.6 670.4 148.9 674.2 149.9 676.8 148.5ZM670.4 148.9 667.9 150.2 671.7 151.2 674.2 149.9ZM660.2 154.3 657.6 155.7 661.4 156.7 664.0 155.3ZM657.6 155.7 655.0 157.0 658.9 158.1 661.4 156.7ZM655.0 157.0 652.4 158.4 656.3 159.5 658.9 158.1ZM652.4 158.4 649.8 159.8 653.6 160.8 656.3 159.5ZM649.8 159.8 647.2 161.2 651.0 162.2 653.6 160.8ZM644.6 162.6 641.9 164.0 645.7 165.0 648.4 163.6ZM636.6 166.8 633.9 168.2 637.8 169.3 640.4 167.9ZM633.9 168.2 631.2 169.7 635.1 170.7 637.8 169.3ZM631.2 169.7 628.5 171.1 632.4 172.2 635.1 170.7ZM628.5 171.1 625.8 172.5 629.7 173.6 632.4 172.2ZM625.8 172.5 623.1 174.0 626.9 175.0 629.7 173.6ZM620.4 175.4 617.6 176.9 621.5 178.0 624.2 176.5ZM617.6 176.9 614.9 178.3 618.7 179.4 621.5 178.0ZM609.3 181.2 606.6 182.7 610.4 183.8 613.2 182.4ZM606.6 182.7 603.8 184.2 607.6 185.3 610.4 183.8ZM603.8 184.2 600.9 185.7 604.8 186.8 607.6 185.3ZM600.9 185.7 598.1 187.2 602.0 188.3 604.8 186.8ZM699.1 136.7 696.7 138.0 700.5 138.9 702.9 137.6ZM696.7 138.0 694.2 139.3 698.1 140.2 700.5 138.9ZM694.2 139.3 691.8 140.6 695.6 141.5 698.1 140.2ZM691.8 140.6 689.3 141.9 693.1 142.8 695.6 141.5ZM689.3 141.9 686.8 143.2 690.6 144.2 693.1 142.8ZM684.3 144.5 681.8 145.9 685.6 146.8 688.1 145.5ZM681.8 145.9 679.3 147.2 683.1 148.2 685.6 146.8ZM679.3 147.2 676.8 148.5 680.6 149.5 683.1 148.2ZM676.8 148.5 674.2 149.9 678.1 150.9 680.6 149.5ZM674.2 149.9 671.7 151.2 675.6 152.2 678.1 150.9ZM671.7 151.2 669.2 152.6 673.0 153.6 675.6 152.2ZM669.2 152.6 666.6 154.0 670.4 155.0 673.0 153.6ZM666.6 154.0 664.0 155.3 667.9 156.3 670.4 155.0ZM664.0 155.3 661.4 156.7 665.3 157.7 667.9 156.3ZM661.4 156.7 658.9 158.1 662.7 159.1 665.3 157.7ZM658.9 158.1 656.3 159.5 660.1 160.5 662.7 159.1ZM656.3 159.5 653.6 160.8 657.5 161.9 660.1 160.5ZM653.6 160.8 651.0 162.2 654.9 163.3 657.5 161.9ZM651.0 162.2 648.4 163.6 652.2 164.7 654.9 163.3ZM645.7 165.0 643.1 166.5 646.9 167.5 649.6 166.1ZM640.4 167.9 637.8 169.3 641.6 170.4 644.3 168.9ZM637.8 169.3 635.1 170.7 638.9 171.8 641.6 170.4ZM635.1 170.7 632.4 172.2 636.2 173.2 638.9 171.8ZM632.4 172.2 629.7 173.6 633.5 174.7 636.2 173.2ZM629.7 173.6 626.9 175.0 630.8 176.1 633.5 174.7ZM624.2 176.5 621.5 178.0 625.3 179.1 628.1 177.6ZM621.5 178.0 618.7 179.4 622.6 180.5 625.3 179.1ZM618.7 179.4 616.0 180.9 619.8 182.0 622.6 180.5ZM616.0 180.9 613.2 182.4 617.0 183.5 619.8 182.0ZM613.2 182.4 610.4 183.8 614.3 185.0 617.0 183.5ZM610.4 183.8 607.6 185.3 611.5 186.5 614.3 185.0Z" fill="#d5ff20" stroke="#d5ff20" stroke-width="0.45"/>
<path d="M552.6 131.6 550.0 132.9 553.4 133.8 556.0 132.5ZM561.2 130.1 558.6 131.3 561.9 132.2 564.5 131.0ZM558.6 131.3 556.0 132.5 559.3 133.4 561.9 132.2ZM556.0 132.5 553.4 133.8 556.7 134.7 559.3 133.4ZM553.4 133.8 550.7 135.0 554.1 135.9 556.7 134.7ZM550.7 135.0 548.1 136.3 551.4 137.2 554.1 135.9ZM548.1 136.3 545.4 137.6 548.8 138.5 551.4 137.2ZM545.4 137.6 542.8 138.8 546.1 139.7 548.8 138.5ZM569.7 128.5 567.1 129.7 570.5 130.6 573.1 129.4ZM567.1 129.7 564.5 131.0 567.9 131.8 570.5 130.6ZM540.8 142.3 538.1 143.6 541.4 144.5 544.1 143.2ZM538.1 143.6 535.4 144.9 538.7 145.8 541.4 144.5ZM575.7 128.1 573.1 129.4 576.5 130.3 579.0 129.0ZM573.1 129.4 570.5 130.6 573.9 131.5 576.5 130.3ZM541.4 144.5 538.7 145.8 542.1 146.8 544.8 145.5ZM536.0 147.1 533.3 148.4 536.7 149.4 539.4 148.1ZM581.6 127.8 579.0 129.0 582.4 129.9 585.0 128.7ZM579.0 129.0 576.5 130.3 579.9 131.2 582.4 129.9ZM576.5 130.3 573.9 131.5 577.3 132.4 579.9 131.2ZM542.1 146.8 539.4 148.1 542.8 149.0 545.5 147.7ZM540.1 150.3 537.3 151.7 540.8 152.6 543.5 151.3ZM540.8 152.6 538.0 154.0 541.4 154.9 544.2 153.6ZM602.9 127.6 600.4 128.9 603.8 129.8 606.4 128.5ZM600.4 128.9 597.8 130.1 601.3 131.0 603.8 129.8ZM597.8 130.1 595.3 131.4 598.7 132.3 601.3 131.0ZM542.1 157.3 539.4 158.6 542.8 159.6 545.6 158.3ZM606.4 128.5 603.8 129.8 607.3 130.7 609.9 129.4ZM551.1 155.6 548.3 156.9 551.8 157.9 554.6 156.6ZM551.8 157.9 549.1 159.3 552.6 160.3 555.3 158.9ZM613.4 130.3 610.8 131.6 614.3 132.5 616.9 131.2ZM614.3 132.5 611.8 133.7 615.3 134.6 617.9 133.4ZM556.1 161.3 553.3 162.7 556.9 163.7 559.6 162.3ZM621.4 134.3 618.9 135.5 622.4 136.5 625.0 135.2ZM565.9 162.0 563.2 163.4 566.7 164.4 569.5 163.0ZM627.5 133.9 625.0 135.2 628.6 136.1 631.1 134.8ZM622.4 136.5 619.9 137.7 623.5 138.7 626.0 137.4ZM572.2 161.6 569.5 163.0 573.1 164.0 575.8 162.7ZM569.5 163.0 566.7 164.4 570.3 165.4 573.1 164.0ZM566.7 164.4 564.0 165.8 567.6 166.8 570.3 165.4ZM631.1 134.8 628.6 136.1 632.2 137.0 634.7 135.8ZM628.6 136.1 626.0 137.4 629.6 138.3 632.2 137.0ZM575.8 162.7 573.1 164.0 576.7 165.1 579.4 163.7ZM629.6 138.3 627.1 139.6 630.7 140.6 633.2 139.3ZM627.1 139.6 624.5 140.9 628.1 141.9 630.7 140.6ZM579.4 163.7 576.7 165.1 580.3 166.1 583.1 164.7ZM633.2 139.3 630.7 140.6 634.3 141.5 636.9 140.2ZM585.8 163.3 583.1 164.7 586.7 165.8 589.4 164.4ZM634.3 141.5 631.8 142.8 635.4 143.8 638.0 142.5ZM631.8 142.8 629.2 144.1 632.9 145.1 635.4 143.8ZM635.4 143.8 632.9 145.1 636.5 146.0 639.1 144.7ZM634.0 147.4 631.4 148.7 635.1 149.7 637.6 148.3ZM637.6 148.3 635.1 149.7 638.8 150.7 641.4 149.3ZM627.2 153.7 624.6 155.1 628.3 156.1 631.0 154.7ZM624.6 155.1 622.0 156.4 625.7 157.4 628.3 156.1ZM633.6 153.4 631.0 154.7 634.7 155.7 637.3 154.4ZM625.7 157.4 623.0 158.8 626.8 159.8 629.4 158.5ZM623.0 158.8 620.4 160.2 624.1 161.2 626.8 159.8ZM620.4 160.2 617.7 161.6 621.5 162.6 624.1 161.2Z" fill="#ff9720" stroke="#ff9720" stroke-width="0.45"/>
<path d="M602.0 188.3 599.1 189.8 603.0 191.0 605.8 189.5Z" fill="#2eec96" stroke="#2eec96" stroke-width="0.45"/>
<polygon points="463.1,158.0 486.9,165.1 486.9,176.1 463.1,169.0" fill="#20e4f0"/>
<polygon points="463.1,149.0 486.9,156.1 486.9,165.6 463.1,158.5" fill="#d8f030"/>
<polygon points="486.9,165.1 514.9,173.5 514.9,184.5 486.9,176.1" fill="#ff3a10"/>
<polygon points="486.9,156.1 514.9,164.5 514.9,174.0 486.9,165.6" fill="#d8f030"/>
<polygon points="514.9,173.5 552.6,184.9 552.6,195.9 514.9,184.5" fill="#20e4f0"/>
<polygon points="514.9,164.5 552.6,175.9 552.6,185.4 514.9,174.0" fill="#d8f030"/>
<polygon points="552.6,184.9 583.4,194.1 583.4,205.1 552.6,195.9" fill="#ff3a10"/>
<polygon points="552.6,175.9 583.4,185.1 583.4,194.6 552.6,185.4" fill="#d8f030"/>
<polygon points="583.4,194.1 603.0,200.0 603.0,211.0 583.4,205.1" fill="#20e4f0"/>
<polygon points="583.4,185.1 603.0,191.0 603.0,200.5 583.4,194.6" fill="#d8f030"/>
<polygon points="603.0,200.0 624.0,188.8 624.0,199.8 603.0,211.0" fill="#20e4f0"/>
<polygon points="603.0,191.0 624.0,179.8 624.0,189.3 603.0,200.5" fill="#d8f030"/>
<polygon points="624.0,188.8 647.0,176.5 647.0,187.5 624.0,199.8" fill="#ff3a10"/>
<polygon points="624.0,179.8 647.0,167.5 647.0,177.0 624.0,189.3" fill="#d8f030"/>
<polygon points="647.0,176.5 668.0,165.3 668.0,176.3 647.0,187.5" fill="#20e4f0"/>
<polygon points="647.0,167.5 668.0,156.3 668.0,165.8 647.0,177.0" fill="#d8f030"/>
<polygon points="668.0,165.3 691.0,153.0 691.0,164.0 668.0,176.3" fill="#ff3a10"/>
<polygon points="668.0,156.3 691.0,144.0 691.0,153.5 668.0,165.8" fill="#d8f030"/>
<polygon points="691.0,153.0 707.8,144.0 707.8,155.0 691.0,164.0" fill="#20e4f0"/>
<polygon points="691.0,144.0 707.8,135.0 707.8,144.5 691.0,153.5" fill="#d8f030"/>
<g stroke="#707070" stroke-width="1.1" fill="none">
<polyline points="463.1,84.6 568.2,28.3 707.8,71.4 603.0,127.0 463.1,84.6 463.1,168.8 603.0,211.2 707.8,155.6 707.8,71.4"/>
<line x1="603" y1="127" x2="603" y2="211.2"/>
<line x1="568.2" y1="28.3" x2="568.2" y2="108.3"/>
</g>
<g font-family="Liberation Sans, sans-serif" font-size="6.5" fill="#f07a30">
<text x="451" y="171.6" text-anchor="middle">0</text>
<text x="451" y="156.5" text-anchor="middle">4</text>
<text x="451" y="141.5" text-anchor="middle">8</text>
<text x="451" y="126.4" text-anchor="middle">12</text>
<text x="451" y="111.4" text-anchor="middle">16</text>
<text x="451" y="96.3" text-anchor="middle">20</text>
<text x="473.7" y="185.0" text-anchor="middle">12</text>
<text x="494.2" y="191.4" text-anchor="middle">10</text>
<text x="514.8" y="197.8" text-anchor="middle">8</text>
<text x="535.4" y="204.2" text-anchor="middle">6</text>
<text x="555.9" y="210.6" text-anchor="middle">4</text>
<text x="576.5" y="217.0" text-anchor="middle">2</text>
<text x="597.0" y="223.4" text-anchor="middle">0</text>
<text x="613.6" y="221.0" text-anchor="middle">13</text>
<text x="621.3" y="216.8" text-anchor="middle">12</text>
<text x="629.1" y="212.6" text-anchor="middle">11</text>
<text x="636.8" y="208.5" text-anchor="middle">10</text>
<text x="644.5" y="204.3" text-anchor="middle">9</text>
<text x="652.2" y="200.1" text-anchor="middle">8</text>
<text x="660.0" y="195.9" text-anchor="middle">7</text>
<text x="667.7" y="191.7" text-anchor="middle">6</text>
<text x="675.4" y="187.6" text-anchor="middle">5</text>
<text x="683.2" y="183.4" text-anchor="middle">4</text>
<text x="690.9" y="179.2" text-anchor="middle">3</text>
<text x="698.6" y="175.0" text-anchor="middle">2</text>
<text x="706.4" y="170.8" text-anchor="middle">1</text>
<text x="714.1" y="166.7" text-anchor="middle">0</text>
</g>
<g stroke="#f5b080" stroke-width="0.6" fill="none">
<line x1="452.5" y1="86" x2="452.5" y2="175"/>
<line x1="452.5" y1="175" x2="600" y2="225"/>
<line x1="607" y1="224" x2="716" y2="167"/>
</g>
<g stroke="#e07090" stroke-width="0.8"><line x1="463" y1="170" x2="603" y2="212"/></g>
<rect x="730.4" y="35.10" width="11.1" height="16.05" fill="#ff0000" stroke="#000" stroke-width="1.2"/>
<rect x="730.4" y="51.15" width="11.1" height="16.05" fill="#ff8000" stroke="#000" stroke-width="1.2"/>
<rect x="730.4" y="67.20" width="11.1" height="16.05" fill="#ffd000" stroke="#000" stroke-width="1.2"/>
<rect x="730.4" y="83.25" width="11.1" height="16.05" fill="#ccff00" stroke="#000" stroke-width="1.2"/>
<rect x="730.4" y="99.30" width="11.1" height="16.05" fill="#55e800" stroke="#000" stroke-width="1.2"/>
<rect x="730.4" y="115.35" width="11.1" height="16.05" fill="#00e890" stroke="#000" stroke-width="1.2"/>
<rect x="730.4" y="131.40" width="11.1" height="16.05" fill="#00e8d0" stroke="#000" stroke-width="1.2"/>
<rect x="730.4" y="147.45" width="11.1" height="16.05" fill="#00e8ff" stroke="#000" stroke-width="1.2"/>
<rect x="730.4" y="163.50" width="11.1" height="16.05" fill="#0050ff" stroke="#000" stroke-width="1.2"/>
<rect x="730.4" y="179.55" width="11.1" height="16.05" fill="#0000ff" stroke="#000" stroke-width="1.2"/>
<text x="748" y="52" font-family="Liberation Sans, sans-serif" font-size="18.5">20</text>
<text x="750" y="199" font-family="Liberation Sans, sans-serif" font-size="18.5">0</text>
<text x="710.3" y="14.8" font-family="Liberation Sans, sans-serif" font-size="15.6">E-field</text>
<clipPath id="clipc"><rect x="82.9" y="240.9" width="214.70000000000002" height="185.1"/></clipPath>
<rect x="81.9" y="239.9" width="216.70000000000002" height="187.1" fill="#fbbc56"/>
<g clip-path="url(#clipc)">
<g fill="none" stroke="#168010" stroke-width="1.35">
<path d="M55.7,418.5 A30,53 0 0 1 115.7,418.5"/>
<path d="M57.2,418.5 A28.5,30.5 0 0 1 114.2,418.5"/>
<path d="M56.7,418.5 A29,19 0 0 1 114.7,418.5"/>
<path d="M56.7,418.5 A29,15 0 0 1 114.7,418.5"/>
<path d="M56.2,418.5 A29.5,11 0 0 1 115.2,418.5"/>
<path d="M55.7,418.5 A30,7 0 0 1 115.7,418.5"/>
<path d="M55.7,418.5 A30,3.5 0 0 1 115.7,418.5"/>
<path d="M159.6,418.5 A30,53 0 0 1 219.6,418.5"/>
<path d="M161.1,418.5 A28.5,30.5 0 0 1 218.1,418.5"/>
<path d="M160.6,418.5 A29,19 0 0 1 218.6,418.5"/>
<path d="M160.6,418.5 A29,15 0 0 1 218.6,418.5"/>
<path d="M160.1,418.5 A29.5,11 0 0 1 219.1,418.5"/>
<path d="M159.6,418.5 A30,7 0 0 1 219.6,418.5"/>
<path d="M159.6,418.5 A30,3.5 0 0 1 219.6,418.5"/>
<path d="M263.5,418.5 A30,53 0 0 1 323.5,418.5"/>
<path d="M265.0,418.5 A28.5,30.5 0 0 1 322.0,418.5"/>
<path d="M264.5,418.5 A29,19 0 0 1 322.5,418.5"/>
<path d="M264.5,418.5 A29,15 0 0 1 322.5,418.5"/>
<path d="M264.0,418.5 A29.5,11 0 0 1 323.0,418.5"/>
<path d="M263.5,418.5 A30,7 0 0 1 323.5,418.5"/>
<path d="M263.5,418.5 A30,3.5 0 0 1 323.5,418.5"/>
<path d="M120.7,418.5 A17,17 0 0 1 154.7,418.5"/>
<path d="M224.6,418.5 A17,17 0 0 1 258.6,418.5"/>
</g>
<rect x="82.9" y="417.3" width="214.70000000000002" height="4" fill="#168010"/>
<g fill="#ee6450" stroke="#963222" stroke-width="0.6">
<ellipse cx="85.7" cy="418.5" rx="1.6" ry="6.2"/>
<ellipse cx="85.7" cy="408.5" rx="1.6" ry="6.2"/>
<ellipse cx="85.7" cy="398.5" rx="1.6" ry="6.2"/>
<ellipse cx="85.7" cy="388.5" rx="1.6" ry="6.2"/>
<ellipse cx="85.7" cy="378.5" rx="1.6" ry="6.2"/>
<ellipse cx="85.7" cy="368.5" rx="1.6" ry="6.2"/>
<ellipse cx="85.7" cy="358.5" rx="1.6" ry="6.2"/>
<ellipse cx="85.7" cy="348.5" rx="1.6" ry="6.2"/>
<ellipse cx="85.7" cy="338.5" rx="1.6" ry="6.2"/>
<ellipse cx="85.7" cy="328.5" rx="1.6" ry="6.2"/>
<ellipse cx="85.7" cy="318.5" rx="1.6" ry="6.2"/>
<ellipse cx="85.7" cy="308.5" rx="1.6" ry="6.2"/>
<ellipse cx="85.7" cy="298.5" rx="1.6" ry="6.2"/>
<ellipse cx="85.7" cy="288.5" rx="1.6" ry="6.2"/>
<ellipse cx="85.7" cy="278.5" rx="1.6" ry="6.2"/>
<ellipse cx="85.7" cy="268.5" rx="1.6" ry="6.2"/>
<ellipse cx="85.7" cy="258.5" rx="1.6" ry="6.2"/>
<ellipse cx="85.7" cy="248.5" rx="1.6" ry="6.2"/>
<ellipse cx="98.7" cy="418.5" rx="1.6" ry="6.2"/>
<ellipse cx="98.7" cy="408.5" rx="1.6" ry="6.2" transform="rotate(68 98.7 408.5)"/>
<ellipse cx="98.7" cy="398.5" rx="1.6" ry="6.2" transform="rotate(25 98.7 398.5)"/>
<ellipse cx="98.7" cy="388.5" rx="1.6" ry="6.2" transform="rotate(27 98.7 388.5)"/>
<ellipse cx="98.7" cy="378.5" rx="1.6" ry="6.2" transform="rotate(45 98.7 378.5)"/>
<ellipse cx="98.7" cy="368.5" rx="1.6" ry="6.2" transform="rotate(-55 98.7 368.5)"/>
<ellipse cx="98.7" cy="358.5" rx="1.6" ry="6.2" transform="rotate(-27 98.7 358.5)"/>
<ellipse cx="98.7" cy="348.5" rx="1.6" ry="6.2" transform="rotate(-15 98.7 348.5)"/>
<ellipse cx="98.7" cy="338.5" rx="1.6" ry="6.2" transform="rotate(-8 98.7 338.5)"/>
<ellipse cx="98.7" cy="328.5" rx="1.6" ry="6.2"/>
<ellipse cx="98.7" cy="318.5" rx="1.6" ry="6.2"/>
<ellipse cx="98.7" cy="308.5" rx="1.6" ry="6.2"/>
<ellipse cx="98.7" cy="298.5" rx="1.6" ry="6.2"/>
<ellipse cx="98.7" cy="288.5" rx="1.6" ry="6.2"/>
<ellipse cx="98.7" cy="278.5" rx="1.6" ry="6.2"/>
<ellipse cx="98.7" cy="268.5" rx="1.6" ry="6.2"/>
<ellipse cx="98.7" cy="258.5" rx="1.6" ry="6.2"/>
<ellipse cx="98.7" cy="248.5" rx="1.6" ry="6.2"/>
<ellipse cx="111.7" cy="418.5" rx="1.6" ry="6.2"/>
<ellipse cx="111.7" cy="408.5" rx="1.6" ry="6.2" transform="rotate(-63 111.7 408.5)"/>
<ellipse cx="111.7" cy="398.5" rx="1.6" ry="6.2" transform="rotate(67 111.7 398.5)"/>
<ellipse cx="111.7" cy="388.5" rx="1.6" ry="6.2" transform="rotate(73 111.7 388.5)"/>
<ellipse cx="111.7" cy="378.5" rx="1.6" ry="6.2" transform="rotate(90 111.7 378.5)"/>
<ellipse cx="111.7" cy="368.5" rx="1.6" ry="6.2" transform="rotate(-57 111.7 368.5)"/>
<ellipse cx="111.7" cy="358.5" rx="1.6" ry="6.2" transform="rotate(-30 111.7 358.5)"/>
<ellipse cx="111.7" cy="348.5" rx="1.6" ry="6.2" transform="rotate(-15 111.7 348.5)"/>
<ellipse cx="111.7" cy="338.5" rx="1.6" ry="6.2" transform="rotate(-7 111.7 338.5)"/>
<ellipse cx="111.7" cy="328.5" rx="1.6" ry="6.2"/>
<ellipse cx="111.7" cy="318.5" rx="1.6" ry="6.2"/>
<ellipse cx="111.7" cy="308.5" rx="1.6" ry="6.2"/>
<ellipse cx="111.7" cy="298.5" rx="1.6" ry="6.2"/>
<ellipse cx="111.7" cy="288.5" rx="1.6" ry="6.2"/>
<ellipse cx="111.7" cy="278.5" rx="1.6" ry="6.2"/>
<ellipse cx="111.7" cy="268.5" rx="1.6" ry="6.2"/>
<ellipse cx="111.7" cy="258.5" rx="1.6" ry="6.2"/>
<ellipse cx="111.7" cy="248.5" rx="1.6" ry="6.2"/>
<ellipse cx="124.7" cy="418.5" rx="1.6" ry="6.2"/>
<ellipse cx="124.7" cy="408.5" rx="1.6" ry="6.2" transform="rotate(-23 124.7 408.5)"/>
<ellipse cx="124.7" cy="398.5" rx="1.6" ry="6.2" transform="rotate(-50 124.7 398.5)"/>
<ellipse cx="124.7" cy="388.5" rx="1.6" ry="6.2" transform="rotate(-48 124.7 388.5)"/>
<ellipse cx="124.7" cy="378.5" rx="1.6" ry="6.2" transform="rotate(-47 124.7 378.5)"/>
<ellipse cx="124.7" cy="368.5" rx="1.6" ry="6.2" transform="rotate(-40 124.7 368.5)"/>
<ellipse cx="124.7" cy="358.5" rx="1.6" ry="6.2" transform="rotate(-25 124.7 358.5)"/>
<ellipse cx="124.7" cy="348.5" rx="1.6" ry="6.2" transform="rotate(-12 124.7 348.5)"/>
<ellipse cx="124.7" cy="338.5" rx="1.6" ry="6.2" transform="rotate(-6 124.7 338.5)"/>
<ellipse cx="124.7" cy="328.5" rx="1.6" ry="6.2"/>
<ellipse cx="124.7" cy="318.5" rx="1.6" ry="6.2"/>
<ellipse cx="124.7" cy="308.5" rx="1.6" ry="6.2"/>
<ellipse cx="124.7" cy="298.5" rx="1.6" ry="6.2"/>
<ellipse cx="124.7" cy="288.5" rx="1.6" ry="6.2"/>
<ellipse cx="124.7" cy="278.5" rx="1.6" ry="6.2"/>
<ellipse cx="124.7" cy="268.5" rx="1.6" ry="6.2"/>
<ellipse cx="124.7" cy="258.5" rx="1.6" ry="6.2"/>
<ellipse cx="124.7" cy="248.5" rx="1.6" ry="6.2"/>
<ellipse cx="137.7" cy="418.5" rx="1.6" ry="6.2"/>
<ellipse cx="137.7" cy="408.5" rx="1.6" ry="6.2"/>
<ellipse cx="137.7" cy="398.5" rx="1.6" ry="6.2"/>
<ellipse cx="137.7" cy="388.5" rx="1.6" ry="6.2"/>
<ellipse cx="137.7" cy="378.5" rx="1.6" ry="6.2"/>
<ellipse cx="137.7" cy="368.5" rx="1.6" ry="6.2"/>
<ellipse cx="137.7" cy="358.5" rx="1.6" ry="6.2"/>
<ellipse cx="137.7" cy="348.5" rx="1.6" ry="6.2"/>
<ellipse cx="137.7" cy="338.5" rx="1.6" ry="6.2"/>
<ellipse cx="137.7" cy="328.5" rx="1.6" ry="6.2"/>
<ellipse cx="137.7" cy="318.5" rx="1.6" ry="6.2"/>
<ellipse cx="137.7" cy="308.5" rx="1.6" ry="6.2"/>
<ellipse cx="137.7" cy="298.5" rx="1.6" ry="6.2"/>
<ellipse cx="137.7" cy="288.5" rx="1.6" ry="6.2"/>
<ellipse cx="137.7" cy="278.5" rx="1.6" ry="6.2"/>
<ellipse cx="137.7" cy="268.5" rx="1.6" ry="6.2"/>
<ellipse cx="137.7" cy="258.5" rx="1.6" ry="6.2"/>
<ellipse cx="137.7" cy="248.5" rx="1.6" ry="6.2"/>
<ellipse cx="150.7" cy="418.5" rx="1.6" ry="6.2"/>
<ellipse cx="150.7" cy="408.5" rx="1.6" ry="6.2" transform="rotate(23 150.7 408.5)"/>
<ellipse cx="150.7" cy="398.5" rx="1.6" ry="6.2" transform="rotate(50 150.7 398.5)"/>
<ellipse cx="150.7" cy="388.5" rx="1.6" ry="6.2" transform="rotate(48 150.7 388.5)"/>
<ellipse cx="150.7" cy="378.5" rx="1.6" ry="6.2" transform="rotate(47 150.7 378.5)"/>
<ellipse cx="150.7" cy="368.5" rx="1.6" ry="6.2" transform="rotate(40 150.7 368.5)"/>
<ellipse cx="150.7" cy="358.5" rx="1.6" ry="6.2" transform="rotate(25 150.7 358.5)"/>
<ellipse cx="150.7" cy="348.5" rx="1.6" ry="6.2" transform="rotate(12 150.7 348.5)"/>
<ellipse cx="150.7" cy="338.5" rx="1.6" ry="6.2" transform="rotate(6 150.7 338.5)"/>
<ellipse cx="150.7" cy="328.5" rx="1.6" ry="6.2"/>
<ellipse cx="150.7" cy="318.5" rx="1.6" ry="6.2"/>
<ellipse cx="150.7" cy="308.5" rx="1.6" ry="6.2"/>
<ellipse cx="150.7" cy="298.5" rx="1.6" ry="6.2"/>
<ellipse cx="150.7" cy="288.5" rx="1.6" ry="6.2"/>
<ellipse cx="150.7" cy="278.5" rx="1.6" ry="6.2"/>
<ellipse cx="150.7" cy="268.5" rx="1.6" ry="6.2"/>
<ellipse cx="150.7" cy="258.5" rx="1.6" ry="6.2"/>
<ellipse cx="150.7" cy="248.5" rx="1.6" ry="6.2"/>
<ellipse cx="163.6" cy="418.5" rx="1.6" ry="6.2"/>
<ellipse cx="163.6" cy="408.5" rx="1.6" ry="6.2" transform="rotate(63 163.6 408.5)"/>
<ellipse cx="163.6" cy="398.5" rx="1.6" ry="6.2" transform="rotate(-67 163.6 398.5)"/>
<ellipse cx="163.6" cy="388.5" rx="1.6" ry="6.2" transform="rotate(-73 163.6 388.5)"/>
<ellipse cx="163.6" cy="378.5" rx="1.6" ry="6.2" transform="rotate(-90 163.6 378.5)"/>
<ellipse cx="163.6" cy="368.5" rx="1.6" ry="6.2" transform="rotate(57 163.6 368.5)"/>
<ellipse cx="163.6" cy="358.5" rx="1.6" ry="6.2" transform="rotate(30 163.6 358.5)"/>
<ellipse cx="163.6" cy="348.5" rx="1.6" ry="6.2" transform="rotate(15 163.6 348.5)"/>
<ellipse cx="163.6" cy="338.5" rx="1.6" ry="6.2" transform="rotate(7 163.6 338.5)"/>
<ellipse cx="163.6" cy="328.5" rx="1.6" ry="6.2"/>
<ellipse cx="163.6" cy="318.5" rx="1.6" ry="6.2"/>
<ellipse cx="163.6" cy="308.5" rx="1.6" ry="6.2"/>
<ellipse cx="163.6" cy="298.5" rx="1.6" ry="6.2"/>
<ellipse cx="163.6" cy="288.5" rx="1.6" ry="6.2"/>
<ellipse cx="163.6" cy="278.5" rx="1.6" ry="6.2"/>
<ellipse cx="163.6" cy="268.5" rx="1.6" ry="6.2"/>
<ellipse cx="163.6" cy="258.5" rx="1.6" ry="6.2"/>
<ellipse cx="163.6" cy="248.5" rx="1.6" ry="6.2"/>
<ellipse cx="176.6" cy="418.5" rx="1.6" ry="6.2"/>
<ellipse cx="176.6" cy="408.5" rx="1.6" ry="6.2" transform="rotate(-68 176.6 408.5)"/>
<ellipse cx="176.6" cy="398.5" rx="1.6" ry="6.2" transform="rotate(-25 176.6 398.5)"/>
<ellipse cx="176.6" cy="388.5" rx="1.6" ry="6.2" transform="rotate(-27 176.6 388.5)"/>
<ellipse cx="176.6" cy="378.5" rx="1.6" ry="6.2" transform="rotate(-45 176.6 378.5)"/>
<ellipse cx="176.6" cy="368.5" rx="1.6" ry="6.2" transform="rotate(55 176.6 368.5)"/>
<ellipse cx="176.6" cy="358.5" rx="1.6" ry="6.2" transform="rotate(27 176.6 358.5)"/>
<ellipse cx="176.6" cy="348.5" rx="1.6" ry="6.2" transform="rotate(15 176.6 348.5)"/>
<ellipse cx="176.6" cy="338.5" rx="1.6" ry="6.2" transform="rotate(8 176.6 338.5)"/>
<ellipse cx="176.6" cy="328.5" rx="1.6" ry="6.2"/>
<ellipse cx="176.6" cy="318.5" rx="1.6" ry="6.2"/>
<ellipse cx="176.6" cy="308.5" rx="1.6" ry="6.2"/>
<ellipse cx="176.6" cy="298.5" rx="1.6" ry="6.2"/>
<ellipse cx="176.6" cy="288.5" rx="1.6" ry="6.2"/>
<ellipse cx="176.6" cy="278.5" rx="1.6" ry="6.2"/>
<ellipse cx="176.6" cy="268.5" rx="1.6" ry="6.2"/>
<ellipse cx="176.6" cy="258.5" rx="1.6" ry="6.2"/>
<ellipse cx="176.6" cy="248.5" rx="1.6" ry="6.2"/>
<ellipse cx="189.6" cy="418.5" rx="1.6" ry="6.2"/>
<ellipse cx="189.6" cy="408.5" rx="1.6" ry="6.2"/>
<ellipse cx="189.6" cy="398.5" rx="1.6" ry="6.2"/>
<ellipse cx="189.6" cy="388.5" rx="1.6" ry="6.2"/>
<ellipse cx="189.6" cy="378.5" rx="1.6" ry="6.2"/>
<ellipse cx="189.6" cy="368.5" rx="1.6" ry="6.2"/>
<ellipse cx="189.6" cy="358.5" rx="1.6" ry="6.2"/>
<ellipse cx="189.6" cy="348.5" rx="1.6" ry="6.2"/>
<ellipse cx="189.6" cy="338.5" rx="1.6" ry="6.2"/>
<ellipse cx="189.6" cy="328.5" rx="1.6" ry="6.2"/>
<ellipse cx="189.6" cy="318.5" rx="1.6" ry="6.2"/>
<ellipse cx="189.6" cy="308.5" rx="1.6" ry="6.2"/>
<ellipse cx="189.6" cy="298.5" rx="1.6" ry="6.2"/>
<ellipse cx="189.6" cy="288.5" rx="1.6" ry="6.2"/>
<ellipse cx="189.6" cy="278.5" rx="1.6" ry="6.2"/>
<ellipse cx="189.6" cy="268.5" rx="1.6" ry="6.2"/>
<ellipse cx="189.6" cy="258.5" rx="1.6" ry="6.2"/>
<ellipse cx="189.6" cy="248.5" rx="1.6" ry="6.2"/>
<ellipse cx="202.6" cy="418.5" rx="1.6" ry="6.2"/>
<ellipse cx="202.6" cy="408.5" rx="1.6" ry="6.2" transform="rotate(68 202.6 408.5)"/>
<ellipse cx="202.6" cy="398.5" rx="1.6" ry="6.2" transform="rotate(25 202.6 398.5)"/>
<ellipse cx="202.6" cy="388.5" rx="1.6" ry="6.2" transform="rotate(27 202.6 388.5)"/>
<ellipse cx="202.6" cy="378.5" rx="1.6" ry="6.2" transform="rotate(45 202.6 378.5)"/>
<ellipse cx="202.6" cy="368.5" rx="1.6" ry="6.2" transform="rotate(-55 202.6 368.5)"/>
<ellipse cx="202.6" cy="358.5" rx="1.6" ry="6.2" transform="rotate(-27 202.6 358.5)"/>
<ellipse cx="202.6" cy="348.5" rx="1.6" ry="6.2" transform="rotate(-15 202.6 348.5)"/>
<ellipse cx="202.6" cy="338.5" rx="1.6" ry="6.2" transform="rotate(-8 202.6 338.5)"/>
<ellipse cx="202.6" cy="328.5" rx="1.6" ry="6.2"/>
<ellipse cx="202.6" cy="318.5" rx="1.6" ry="6.2"/>
<ellipse cx="202.6" cy="308.5" rx="1.6" ry="6.2"/>
<ellipse cx="202.6" cy="298.5" rx="1.6" ry="6.2"/>
<ellipse cx="202.6" cy="288.5" rx="1.6" ry="6.2"/>
<ellipse cx="202.6" cy="278.5" rx="1.6" ry="6.2"/>
<ellipse cx="202.6" cy="268.5" rx="1.6" ry="6.2"/>
<ellipse cx="202.6" cy="258.5" rx="1.6" ry="6.2"/>
<ellipse cx="202.6" cy="248.5" rx="1.6" ry="6.2"/>
<ellipse cx="215.6" cy="418.5" rx="1.6" ry="6.2"/>
<ellipse cx="215.6" cy="408.5" rx="1.6" ry="6.2" transform="rotate(-63 215.6 408.5)"/>
<ellipse cx="215.6" cy="398.5" rx="1.6" ry="6.2" transform="rotate(67 215.6 398.5)"/>
<ellipse cx="215.6" cy="388.5" rx="1.6" ry="6.2" transform="rotate(73 215.6 388.5)"/>
<ellipse cx="215.6" cy="378.5" rx="1.6" ry="6.2" transform="rotate(90 215.6 378.5)"/>
<ellipse cx="215.6" cy="368.5" rx="1.6" ry="6.2" transform="rotate(-57 215.6 368.5)"/>
<ellipse cx="215.6" cy="358.5" rx="1.6" ry="6.2" transform="rotate(-30 215.6 358.5)"/>
<ellipse cx="215.6" cy="348.5" rx="1.6" ry="6.2" transform="rotate(-15 215.6 348.5)"/>
<ellipse cx="215.6" cy="338.5" rx="1.6" ry="6.2" transform="rotate(-7 215.6 338.5)"/>
<ellipse cx="215.6" cy="328.5" rx="1.6" ry="6.2"/>
<ellipse cx="215.6" cy="318.5" rx="1.6" ry="6.2"/>
<ellipse cx="215.6" cy="308.5" rx="1.6" ry="6.2"/>
<ellipse cx="215.6" cy="298.5" rx="1.6" ry="6.2"/>
<ellipse cx="215.6" cy="288.5" rx="1.6" ry="6.2"/>
<ellipse cx="215.6" cy="278.5" rx="1.6" ry="6.2"/>
<ellipse cx="215.6" cy="268.5" rx="1.6" ry="6.2"/>
<ellipse cx="215.6" cy="258.5" rx="1.6" ry="6.2"/>
<ellipse cx="215.6" cy="248.5" rx="1.6" ry="6.2"/>
<ellipse cx="228.6" cy="418.5" rx="1.6" ry="6.2"/>
<ellipse cx="228.6" cy="408.5" rx="1.6" ry="6.2" transform="rotate(-23 228.6 408.5)"/>
<ellipse cx="228.6" cy="398.5" rx="1.6" ry="6.2" transform="rotate(-50 228.6 398.5)"/>
<ellipse cx="228.6" cy="388.5" rx="1.6" ry="6.2" transform="rotate(-48 228.6 388.5)"/>
<ellipse cx="228.6" cy="378.5" rx="1.6" ry="6.2" transform="rotate(-47 228.6 378.5)"/>
<ellipse cx="228.6" cy="368.5" rx="1.6" ry="6.2" transform="rotate(-40 228.6 368.5)"/>
<ellipse cx="228.6" cy="358.5" rx="1.6" ry="6.2" transform="rotate(-25 228.6 358.5)"/>
<ellipse cx="228.6" cy="348.5" rx="1.6" ry="6.2" transform="rotate(-12 228.6 348.5)"/>
<ellipse cx="228.6" cy="338.5" rx="1.6" ry="6.2" transform="rotate(-6 228.6 338.5)"/>
<ellipse cx="228.6" cy="328.5" rx="1.6" ry="6.2"/>
<ellipse cx="228.6" cy="318.5" rx="1.6" ry="6.2"/>
<ellipse cx="228.6" cy="308.5" rx="1.6" ry="6.2"/>
<ellipse cx="228.6" cy="298.5" rx="1.6" ry="6.2"/>
<ellipse cx="228.6" cy="288.5" rx="1.6" ry="6.2"/>
<ellipse cx="228.6" cy="278.5" rx="1.6" ry="6.2"/>
<ellipse cx="228.6" cy="268.5" rx="1.6" ry="6.2"/>
<ellipse cx="228.6" cy="258.5" rx="1.6" ry="6.2"/>
<ellipse cx="228.6" cy="248.5" rx="1.6" ry="6.2"/>
<ellipse cx="241.6" cy="418.5" rx="1.6" ry="6.2"/>
<ellipse cx="241.6" cy="408.5" rx="1.6" ry="6.2"/>
<ellipse cx="241.6" cy="398.5" rx="1.6" ry="6.2"/>
<ellipse cx="241.6" cy="388.5" rx="1.6" ry="6.2"/>
<ellipse cx="241.6" cy="378.5" rx="1.6" ry="6.2"/>
<ellipse cx="241.6" cy="368.5" rx="1.6" ry="6.2"/>
<ellipse cx="241.6" cy="358.5" rx="1.6" ry="6.2"/>
<ellipse cx="241.6" cy="348.5" rx="1.6" ry="6.2"/>
<ellipse cx="241.6" cy="338.5" rx="1.6" ry="6.2"/>
<ellipse cx="241.6" cy="328.5" rx="1.6" ry="6.2"/>
<ellipse cx="241.6" cy="318.5" rx="1.6" ry="6.2"/>
<ellipse cx="241.6" cy="308.5" rx="1.6" ry="6.2"/>
<ellipse cx="241.6" cy="298.5" rx="1.6" ry="6.2"/>
<ellipse cx="241.6" cy="288.5" rx="1.6" ry="6.2"/>
<ellipse cx="241.6" cy="278.5" rx="1.6" ry="6.2"/>
<ellipse cx="241.6" cy="268.5" rx="1.6" ry="6.2"/>
<ellipse cx="241.6" cy="258.5" rx="1.6" ry="6.2"/>
<ellipse cx="241.6" cy="248.5" rx="1.6" ry="6.2"/>
<ellipse cx="254.6" cy="418.5" rx="1.6" ry="6.2"/>
<ellipse cx="254.6" cy="408.5" rx="1.6" ry="6.2" transform="rotate(23 254.6 408.5)"/>
<ellipse cx="254.6" cy="398.5" rx="1.6" ry="6.2" transform="rotate(50 254.6 398.5)"/>
<ellipse cx="254.6" cy="388.5" rx="1.6" ry="6.2" transform="rotate(48 254.6 388.5)"/>
<ellipse cx="254.6" cy="378.5" rx="1.6" ry="6.2" transform="rotate(47 254.6 378.5)"/>
<ellipse cx="254.6" cy="368.5" rx="1.6" ry="6.2" transform="rotate(40 254.6 368.5)"/>
<ellipse cx="254.6" cy="358.5" rx="1.6" ry="6.2" transform="rotate(25 254.6 358.5)"/>
<ellipse cx="254.6" cy="348.5" rx="1.6" ry="6.2" transform="rotate(12 254.6 348.5)"/>
<ellipse cx="254.6" cy="338.5" rx="1.6" ry="6.2" transform="rotate(6 254.6 338.5)"/>
<ellipse cx="254.6" cy="328.5" rx="1.6" ry="6.2"/>
<ellipse cx="254.6" cy="318.5" rx="1.6" ry="6.2"/>
<ellipse cx="254.6" cy="308.5" rx="1.6" ry="6.2"/>
<ellipse cx="254.6" cy="298.5" rx="1.6" ry="6.2"/>
<ellipse cx="254.6" cy="288.5" rx="1.6" ry="6.2"/>
<ellipse cx="254.6" cy="278.5" rx="1.6" ry="6.2"/>
<ellipse cx="254.6" cy="268.5" rx="1.6" ry="6.2"/>
<ellipse cx="254.6" cy="258.5" rx="1.6" ry="6.2"/>
<ellipse cx="254.6" cy="248.5" rx="1.6" ry="6.2"/>
<ellipse cx="267.6" cy="418.5" rx="1.6" ry="6.2"/>
<ellipse cx="267.6" cy="408.5" rx="1.6" ry="6.2" transform="rotate(63 267.6 408.5)"/>
<ellipse cx="267.6" cy="398.5" rx="1.6" ry="6.2" transform="rotate(-67 267.6 398.5)"/>
<ellipse cx="267.6" cy="388.5" rx="1.6" ry="6.2" transform="rotate(-73 267.6 388.5)"/>
<ellipse cx="267.6" cy="378.5" rx="1.6" ry="6.2" transform="rotate(-90 267.6 378.5)"/>
<ellipse cx="267.6" cy="368.5" rx="1.6" ry="6.2" transform="rotate(57 267.6 368.5)"/>
<ellipse cx="267.6" cy="358.5" rx="1.6" ry="6.2" transform="rotate(30 267.6 358.5)"/>
<ellipse cx="267.6" cy="348.5" rx="1.6" ry="6.2" transform="rotate(15 267.6 348.5)"/>
<ellipse cx="267.6" cy="338.5" rx="1.6" ry="6.2" transform="rotate(7 267.6 338.5)"/>
<ellipse cx="267.6" cy="328.5" rx="1.6" ry="6.2"/>
<ellipse cx="267.6" cy="318.5" rx="1.6" ry="6.2"/>
<ellipse cx="267.6" cy="308.5" rx="1.6" ry="6.2"/>
<ellipse cx="267.6" cy="298.5" rx="1.6" ry="6.2"/>
<ellipse cx="267.6" cy="288.5" rx="1.6" ry="6.2"/>
<ellipse cx="267.6" cy="278.5" rx="1.6" ry="6.2"/>
<ellipse cx="267.6" cy="268.5" rx="1.6" ry="6.2"/>
<ellipse cx="267.6" cy="258.5" rx="1.6" ry="6.2"/>
<ellipse cx="267.6" cy="248.5" rx="1.6" ry="6.2"/>
<ellipse cx="280.6" cy="418.5" rx="1.6" ry="6.2"/>
<ellipse cx="280.6" cy="408.5" rx="1.6" ry="6.2" transform="rotate(-68 280.6 408.5)"/>
<ellipse cx="280.6" cy="398.5" rx="1.6" ry="6.2" transform="rotate(-25 280.6 398.5)"/>
<ellipse cx="280.6" cy="388.5" rx="1.6" ry="6.2" transform="rotate(-27 280.6 388.5)"/>
<ellipse cx="280.6" cy="378.5" rx="1.6" ry="6.2" transform="rotate(-45 280.6 378.5)"/>
<ellipse cx="280.6" cy="368.5" rx="1.6" ry="6.2" transform="rotate(55 280.6 368.5)"/>
<ellipse cx="280.6" cy="358.5" rx="1.6" ry="6.2" transform="rotate(27 280.6 358.5)"/>
<ellipse cx="280.6" cy="348.5" rx="1.6" ry="6.2" transform="rotate(15 280.6 348.5)"/>
<ellipse cx="280.6" cy="338.5" rx="1.6" ry="6.2" transform="rotate(8 280.6 338.5)"/>
<ellipse cx="280.6" cy="328.5" rx="1.6" ry="6.2"/>
<ellipse cx="280.6" cy="318.5" rx="1.6" ry="6.2"/>
<ellipse cx="280.6" cy="308.5" rx="1.6" ry="6.2"/>
<ellipse cx="280.6" cy="298.5" rx="1.6" ry="6.2"/>
<ellipse cx="280.6" cy="288.5" rx="1.6" ry="6.2"/>
<ellipse cx="280.6" cy="278.5" rx="1.6" ry="6.2"/>
<ellipse cx="280.6" cy="268.5" rx="1.6" ry="6.2"/>
<ellipse cx="280.6" cy="258.5" rx="1.6" ry="6.2"/>
<ellipse cx="280.6" cy="248.5" rx="1.6" ry="6.2"/>
<ellipse cx="293.5" cy="418.5" rx="1.6" ry="6.2"/>
<ellipse cx="293.5" cy="408.5" rx="1.6" ry="6.2"/>
<ellipse cx="293.5" cy="398.5" rx="1.6" ry="6.2"/>
<ellipse cx="293.5" cy="388.5" rx="1.6" ry="6.2"/>
<ellipse cx="293.5" cy="378.5" rx="1.6" ry="6.2"/>
<ellipse cx="293.5" cy="368.5" rx="1.6" ry="6.2"/>
<ellipse cx="293.5" cy="358.5" rx="1.6" ry="6.2"/>
<ellipse cx="293.5" cy="348.5" rx="1.6" ry="6.2"/>
<ellipse cx="293.5" cy="338.5" rx="1.6" ry="6.2"/>
<ellipse cx="293.5" cy="328.5" rx="1.6" ry="6.2"/>
<ellipse cx="293.5" cy="318.5" rx="1.6" ry="6.2"/>
<ellipse cx="293.5" cy="308.5" rx="1.6" ry="6.2"/>
<ellipse cx="293.5" cy="298.5" rx="1.6" ry="6.2"/>
<ellipse cx="293.5" cy="288.5" rx="1.6" ry="6.2"/>
<ellipse cx="293.5" cy="278.5" rx="1.6" ry="6.2"/>
<ellipse cx="293.5" cy="268.5" rx="1.6" ry="6.2"/>
<ellipse cx="293.5" cy="258.5" rx="1.6" ry="6.2"/>
<ellipse cx="293.5" cy="248.5" rx="1.6" ry="6.2"/>
</g>
</g>
<rect x="81.9" y="239.9" width="216.70000000000002" height="187.1" fill="none" stroke="#111" stroke-width="1.8"/>
<rect x="86.30000000000001" y="243.5" width="38" height="45.5" fill="#fff"/>
<text x="105.30000000000001" y="275.9" font-family="Liberation Sans, sans-serif" font-size="28" text-anchor="middle">c</text>
<clipPath id="clipd"><rect x="319.0" y="240.9" width="214.60000000000002" height="185.1"/></clipPath>
<rect x="318.0" y="239.9" width="216.60000000000002" height="187.1" fill="#fbbc56"/>
<g clip-path="url(#clipd)">
<g fill="none" stroke="#168010" stroke-width="1.35">
<path d="M291.3,418.5 A30,53 0 0 1 351.3,418.5"/>
<path d="M292.8,418.5 A28.5,30.5 0 0 1 349.8,418.5"/>
<path d="M292.3,418.5 A29,19 0 0 1 350.3,418.5"/>
<path d="M292.3,418.5 A29,15 0 0 1 350.3,418.5"/>
<path d="M291.8,418.5 A29.5,11 0 0 1 350.8,418.5"/>
<path d="M291.3,418.5 A30,7 0 0 1 351.3,418.5"/>
<path d="M291.3,418.5 A30,3.5 0 0 1 351.3,418.5"/>
<path d="M395.2,418.5 A30,53 0 0 1 455.2,418.5"/>
<path d="M396.7,418.5 A28.5,30.5 0 0 1 453.7,418.5"/>
<path d="M396.2,418.5 A29,19 0 0 1 454.2,418.5"/>
<path d="M396.2,418.5 A29,15 0 0 1 454.2,418.5"/>
<path d="M395.7,418.5 A29.5,11 0 0 1 454.7,418.5"/>
<path d="M395.2,418.5 A30,7 0 0 1 455.2,418.5"/>
<path d="M395.2,418.5 A30,3.5 0 0 1 455.2,418.5"/>
<path d="M499.1,418.5 A30,53 0 0 1 559.1,418.5"/>
<path d="M500.6,418.5 A28.5,30.5 0 0 1 557.6,418.5"/>
<path d="M500.1,418.5 A29,19 0 0 1 558.1,418.5"/>
<path d="M500.1,418.5 A29,15 0 0 1 558.1,418.5"/>
<path d="M499.6,418.5 A29.5,11 0 0 1 558.6,418.5"/>
<path d="M499.1,418.5 A30,7 0 0 1 559.1,418.5"/>
<path d="M499.1,418.5 A30,3.5 0 0 1 559.1,418.5"/>
<path d="M356.3,418.5 A17,17 0 0 1 390.3,418.5"/>
<path d="M460.2,418.5 A17,17 0 0 1 494.2,418.5"/>
</g>
<rect x="319.0" y="417.3" width="214.60000000000002" height="4" fill="#168010"/>
<g fill="#ee6450" stroke="#963222" stroke-width="0.6">
<ellipse cx="321.3" cy="418.5" rx="1.6" ry="6.2"/>
<ellipse cx="321.3" cy="408.5" rx="1.6" ry="6.2"/>
<ellipse cx="321.3" cy="398.5" rx="1.6" ry="6.2"/>
<ellipse cx="321.3" cy="388.5" rx="1.6" ry="6.2"/>
<ellipse cx="321.3" cy="378.5" rx="1.6" ry="6.2"/>
<ellipse cx="321.3" cy="368.5" rx="1.6" ry="6.2"/>
<ellipse cx="321.3" cy="358.5" rx="1.6" ry="6.2"/>
<ellipse cx="321.3" cy="348.5" rx="1.6" ry="6.2"/>
<ellipse cx="321.3" cy="338.5" rx="1.6" ry="6.2"/>
<ellipse cx="321.3" cy="328.5" rx="1.6" ry="6.2"/>
<ellipse cx="321.3" cy="318.5" rx="1.6" ry="6.2"/>
<ellipse cx="321.3" cy="308.5" rx="1.6" ry="6.2"/>
<ellipse cx="321.3" cy="298.5" rx="1.6" ry="6.2"/>
<ellipse cx="321.3" cy="288.5" rx="1.6" ry="6.2"/>
<ellipse cx="321.3" cy="278.5" rx="1.6" ry="6.2"/>
<ellipse cx="321.3" cy="268.5" rx="1.6" ry="6.2"/>
<ellipse cx="321.3" cy="258.5" rx="1.6" ry="6.2"/>
<ellipse cx="321.3" cy="248.5" rx="1.6" ry="6.2"/>
<ellipse cx="334.3" cy="418.5" rx="1.6" ry="6.2"/>
<ellipse cx="334.3" cy="408.5" rx="1.6" ry="6.2" transform="rotate(68 334.3 408.5)"/>
<ellipse cx="334.3" cy="398.5" rx="1.6" ry="6.2" transform="rotate(25 334.3 398.5)"/>
<ellipse cx="334.3" cy="388.5" rx="1.6" ry="6.2" transform="rotate(27 334.3 388.5)"/>
<ellipse cx="334.3" cy="378.5" rx="1.6" ry="6.2" transform="rotate(45 334.3 378.5)"/>
<ellipse cx="334.3" cy="368.5" rx="1.6" ry="6.2" transform="rotate(-55 334.3 368.5)"/>
<ellipse cx="334.3" cy="358.5" rx="1.6" ry="6.2" transform="rotate(-27 334.3 358.5)"/>
<ellipse cx="334.3" cy="348.5" rx="1.6" ry="6.2" transform="rotate(-15 334.3 348.5)"/>
<ellipse cx="334.3" cy="338.5" rx="1.6" ry="6.2" transform="rotate(-8 334.3 338.5)"/>
<ellipse cx="334.3" cy="328.5" rx="1.6" ry="6.2"/>
<ellipse cx="334.3" cy="318.5" rx="1.6" ry="6.2"/>
<ellipse cx="334.3" cy="308.5" rx="1.6" ry="6.2"/>
<ellipse cx="334.3" cy="298.5" rx="1.6" ry="6.2"/>
<ellipse cx="334.3" cy="288.5" rx="1.6" ry="6.2"/>
<ellipse cx="334.3" cy="278.5" rx="1.6" ry="6.2"/>
<ellipse cx="334.3" cy="268.5" rx="1.6" ry="6.2"/>
<ellipse cx="334.3" cy="258.5" rx="1.6" ry="6.2"/>
<ellipse cx="334.3" cy="248.5" rx="1.6" ry="6.2"/>
<ellipse cx="347.3" cy="418.5" rx="1.6" ry="6.2"/>
<ellipse cx="347.3" cy="408.5" rx="1.6" ry="6.2" transform="rotate(-63 347.3 408.5)"/>
<ellipse cx="347.3" cy="398.5" rx="1.6" ry="6.2" transform="rotate(67 347.3 398.5)"/>
<ellipse cx="347.3" cy="388.5" rx="1.6" ry="6.2" transform="rotate(73 347.3 388.5)"/>
<ellipse cx="347.3" cy="378.5" rx="1.6" ry="6.2" transform="rotate(90 347.3 378.5)"/>
<ellipse cx="347.3" cy="368.5" rx="1.6" ry="6.2" transform="rotate(-57 347.3 368.5)"/>
<ellipse cx="347.3" cy="358.5" rx="1.6" ry="6.2" transform="rotate(-30 347.3 358.5)"/>
<ellipse cx="347.3" cy="348.5" rx="1.6" ry="6.2" transform="rotate(-15 347.3 348.5)"/>
<ellipse cx="347.3" cy="338.5" rx="1.6" ry="6.2" transform="rotate(-7 347.3 338.5)"/>
<ellipse cx="347.3" cy="328.5" rx="1.6" ry="6.2"/>
<ellipse cx="347.3" cy="318.5" rx="1.6" ry="6.2"/>
<ellipse cx="347.3" cy="308.5" rx="1.6" ry="6.2"/>
<ellipse cx="347.3" cy="298.5" rx="1.6" ry="6.2"/>
<ellipse cx="347.3" cy="288.5" rx="1.6" ry="6.2"/>
<ellipse cx="347.3" cy="278.5" rx="1.6" ry="6.2"/>
<ellipse cx="347.3" cy="268.5" rx="1.6" ry="6.2"/>
<ellipse cx="347.3" cy="258.5" rx="1.6" ry="6.2"/>
<ellipse cx="347.3" cy="248.5" rx="1.6" ry="6.2"/>
<ellipse cx="360.3" cy="418.5" rx="1.6" ry="6.2"/>
<ellipse cx="360.3" cy="408.5" rx="1.6" ry="6.2" transform="rotate(-23 360.3 408.5)"/>
<ellipse cx="360.3" cy="398.5" rx="1.6" ry="6.2" transform="rotate(-50 360.3 398.5)"/>
<ellipse cx="360.3" cy="388.5" rx="1.6" ry="6.2" transform="rotate(-48 360.3 388.5)"/>
<ellipse cx="360.3" cy="378.5" rx="1.6" ry="6.2" transform="rotate(-47 360.3 378.5)"/>
<ellipse cx="360.3" cy="368.5" rx="1.6" ry="6.2" transform="rotate(-40 360.3 368.5)"/>
<ellipse cx="360.3" cy="358.5" rx="1.6" ry="6.2" transform="rotate(-25 360.3 358.5)"/>
<ellipse cx="360.3" cy="348.5" rx="1.6" ry="6.2" transform="rotate(-12 360.3 348.5)"/>
<ellipse cx="360.3" cy="338.5" rx="1.6" ry="6.2" transform="rotate(-6 360.3 338.5)"/>
<ellipse cx="360.3" cy="328.5" rx="1.6" ry="6.2"/>
<ellipse cx="360.3" cy="318.5" rx="1.6" ry="6.2"/>
<ellipse cx="360.3" cy="308.5" rx="1.6" ry="6.2"/>
<ellipse cx="360.3" cy="298.5" rx="1.6" ry="6.2"/>
<ellipse cx="360.3" cy="288.5" rx="1.6" ry="6.2"/>
<ellipse cx="360.3" cy="278.5" rx="1.6" ry="6.2"/>
<ellipse cx="360.3" cy="268.5" rx="1.6" ry="6.2"/>
<ellipse cx="360.3" cy="258.5" rx="1.6" ry="6.2"/>
<ellipse cx="360.3" cy="248.5" rx="1.6" ry="6.2"/>
<ellipse cx="373.3" cy="418.5" rx="1.6" ry="6.2"/>
<ellipse cx="373.3" cy="408.5" rx="1.6" ry="6.2"/>
<ellipse cx="373.3" cy="398.5" rx="1.6" ry="6.2"/>
<ellipse cx="373.3" cy="388.5" rx="1.6" ry="6.2"/>
<ellipse cx="373.3" cy="378.5" rx="1.6" ry="6.2"/>
<ellipse cx="373.3" cy="368.5" rx="1.6" ry="6.2"/>
<ellipse cx="373.3" cy="358.5" rx="1.6" ry="6.2"/>
<ellipse cx="373.3" cy="348.5" rx="1.6" ry="6.2"/>
<ellipse cx="373.3" cy="338.5" rx="1.6" ry="6.2"/>
<ellipse cx="373.3" cy="328.5" rx="1.6" ry="6.2"/>
<ellipse cx="373.3" cy="318.5" rx="1.6" ry="6.2"/>
<ellipse cx="373.3" cy="308.5" rx="1.6" ry="6.2"/>
<ellipse cx="373.3" cy="298.5" rx="1.6" ry="6.2"/>
<ellipse cx="373.3" cy="288.5" rx="1.6" ry="6.2"/>
<ellipse cx="373.3" cy="278.5" rx="1.6" ry="6.2"/>
<ellipse cx="373.3" cy="268.5" rx="1.6" ry="6.2"/>
<ellipse cx="373.3" cy="258.5" rx="1.6" ry="6.2"/>
<ellipse cx="373.3" cy="248.5" rx="1.6" ry="6.2"/>
<ellipse cx="386.2" cy="418.5" rx="1.6" ry="6.2"/>
<ellipse cx="386.2" cy="408.5" rx="1.6" ry="6.2" transform="rotate(23 386.2 408.5)"/>
<ellipse cx="386.2" cy="398.5" rx="1.6" ry="6.2" transform="rotate(50 386.2 398.5)"/>
<ellipse cx="386.2" cy="388.5" rx="1.6" ry="6.2" transform="rotate(48 386.2 388.5)"/>
<ellipse cx="386.2" cy="378.5" rx="1.6" ry="6.2" transform="rotate(47 386.2 378.5)"/>
<ellipse cx="386.2" cy="368.5" rx="1.6" ry="6.2" transform="rotate(40 386.2 368.5)"/>
<ellipse cx="386.2" cy="358.5" rx="1.6" ry="6.2" transform="rotate(25 386.2 358.5)"/>
<ellipse cx="386.2" cy="348.5" rx="1.6" ry="6.2" transform="rotate(12 386.2 348.5)"/>
<ellipse cx="386.2" cy="338.5" rx="1.6" ry="6.2" transform="rotate(6 386.2 338.5)"/>
<ellipse cx="386.2" cy="328.5" rx="1.6" ry="6.2"/>
<ellipse cx="386.2" cy="318.5" rx="1.6" ry="6.2"/>
<ellipse cx="386.2" cy="308.5" rx="1.6" ry="6.2"/>
<ellipse cx="386.2" cy="298.5" rx="1.6" ry="6.2"/>
<ellipse cx="386.2" cy="288.5" rx="1.6" ry="6.2"/>
<ellipse cx="386.2" cy="278.5" rx="1.6" ry="6.2"/>
<ellipse cx="386.2" cy="268.5" rx="1.6" ry="6.2"/>
<ellipse cx="386.2" cy="258.5" rx="1.6" ry="6.2"/>
<ellipse cx="386.2" cy="248.5" rx="1.6" ry="6.2"/>
<ellipse cx="399.2" cy="418.5" rx="1.6" ry="6.2"/>
<ellipse cx="399.2" cy="408.5" rx="1.6" ry="6.2" transform="rotate(63 399.2 408.5)"/>
<ellipse cx="399.2" cy="398.5" rx="1.6" ry="6.2" transform="rotate(-67 399.2 398.5)"/>
<ellipse cx="399.2" cy="388.5" rx="1.6" ry="6.2" transform="rotate(-73 399.2 388.5)"/>
<ellipse cx="399.2" cy="378.5" rx="1.6" ry="6.2" transform="rotate(-90 399.2 378.5)"/>
<ellipse cx="399.2" cy="368.5" rx="1.6" ry="6.2" transform="rotate(57 399.2 368.5)"/>
<ellipse cx="399.2" cy="358.5" rx="1.6" ry="6.2" transform="rotate(30 399.2 358.5)"/>
<ellipse cx="399.2" cy="348.5" rx="1.6" ry="6.2" transform="rotate(15 399.2 348.5)"/>
<ellipse cx="399.2" cy="338.5" rx="1.6" ry="6.2" transform="rotate(7 399.2 338.5)"/>
<ellipse cx="399.2" cy="328.5" rx="1.6" ry="6.2"/>
<ellipse cx="399.2" cy="318.5" rx="1.6" ry="6.2"/>
<ellipse cx="399.2" cy="308.5" rx="1.6" ry="6.2"/>
<ellipse cx="399.2" cy="298.5" rx="1.6" ry="6.2"/>
<ellipse cx="399.2" cy="288.5" rx="1.6" ry="6.2"/>
<ellipse cx="399.2" cy="278.5" rx="1.6" ry="6.2"/>
<ellipse cx="399.2" cy="268.5" rx="1.6" ry="6.2"/>
<ellipse cx="399.2" cy="258.5" rx="1.6" ry="6.2"/>
<ellipse cx="399.2" cy="248.5" rx="1.6" ry="6.2"/>
<ellipse cx="412.2" cy="418.5" rx="1.6" ry="6.2"/>
<ellipse cx="412.2" cy="408.5" rx="1.6" ry="6.2" transform="rotate(-68 412.2 408.5)"/>
<ellipse cx="412.2" cy="398.5" rx="1.6" ry="6.2" transform="rotate(-25 412.2 398.5)"/>
<ellipse cx="412.2" cy="388.5" rx="1.6" ry="6.2" transform="rotate(-27 412.2 388.5)"/>
<ellipse cx="412.2" cy="378.5" rx="1.6" ry="6.2" transform="rotate(-45 412.2 378.5)"/>
<ellipse cx="412.2" cy="368.5" rx="1.6" ry="6.2" transform="rotate(55 412.2 368.5)"/>
<ellipse cx="412.2" cy="358.5" rx="1.6" ry="6.2" transform="rotate(27 412.2 358.5)"/>
<ellipse cx="412.2" cy="348.5" rx="1.6" ry="6.2" transform="rotate(15 412.2 348.5)"/>
<ellipse cx="412.2" cy="338.5" rx="1.6" ry="6.2" transform="rotate(8 412.2 338.5)"/>
<ellipse cx="412.2" cy="328.5" rx="1.6" ry="6.2"/>
<ellipse cx="412.2" cy="318.5" rx="1.6" ry="6.2"/>
<ellipse cx="412.2" cy="308.5" rx="1.6" ry="6.2"/>
<ellipse cx="412.2" cy="298.5" rx="1.6" ry="6.2"/>
<ellipse cx="412.2" cy="288.5" rx="1.6" ry="6.2"/>
<ellipse cx="412.2" cy="278.5" rx="1.6" ry="6.2"/>
<ellipse cx="412.2" cy="268.5" rx="1.6" ry="6.2"/>
<ellipse cx="412.2" cy="258.5" rx="1.6" ry="6.2"/>
<ellipse cx="412.2" cy="248.5" rx="1.6" ry="6.2"/>
<ellipse cx="425.2" cy="418.5" rx="1.6" ry="6.2"/>
<ellipse cx="425.2" cy="408.5" rx="1.6" ry="6.2"/>
<ellipse cx="425.2" cy="398.5" rx="1.6" ry="6.2"/>
<ellipse cx="425.2" cy="388.5" rx="1.6" ry="6.2"/>
<ellipse cx="425.2" cy="378.5" rx="1.6" ry="6.2"/>
<ellipse cx="425.2" cy="368.5" rx="1.6" ry="6.2"/>
<ellipse cx="425.2" cy="358.5" rx="1.6" ry="6.2"/>
<ellipse cx="425.2" cy="348.5" rx="1.6" ry="6.2"/>
<ellipse cx="425.2" cy="338.5" rx="1.6" ry="6.2"/>
<ellipse cx="425.2" cy="328.5" rx="1.6" ry="6.2"/>
<ellipse cx="425.2" cy="318.5" rx="1.6" ry="6.2"/>
<ellipse cx="425.2" cy="308.5" rx="1.6" ry="6.2"/>
<ellipse cx="425.2" cy="298.5" rx="1.6" ry="6.2"/>
<ellipse cx="425.2" cy="288.5" rx="1.6" ry="6.2"/>
<ellipse cx="425.2" cy="278.5" rx="1.6" ry="6.2"/>
<ellipse cx="425.2" cy="268.5" rx="1.6" ry="6.2"/>
<ellipse cx="425.2" cy="258.5" rx="1.6" ry="6.2"/>
<ellipse cx="425.2" cy="248.5" rx="1.6" ry="6.2"/>
<ellipse cx="438.2" cy="418.5" rx="1.6" ry="6.2"/>
<ellipse cx="438.2" cy="408.5" rx="1.6" ry="6.2" transform="rotate(68 438.2 408.5)"/>
<ellipse cx="438.2" cy="398.5" rx="1.6" ry="6.2" transform="rotate(25 438.2 398.5)"/>
<ellipse cx="438.2" cy="388.5" rx="1.6" ry="6.2" transform="rotate(27 438.2 388.5)"/>
<ellipse cx="438.2" cy="378.5" rx="1.6" ry="6.2" transform="rotate(45 438.2 378.5)"/>
<ellipse cx="438.2" cy="368.5" rx="1.6" ry="6.2" transform="rotate(-55 438.2 368.5)"/>
<ellipse cx="438.2" cy="358.5" rx="1.6" ry="6.2" transform="rotate(-27 438.2 358.5)"/>
<ellipse cx="438.2" cy="348.5" rx="1.6" ry="6.2" transform="rotate(-15 438.2 348.5)"/>
<ellipse cx="438.2" cy="338.5" rx="1.6" ry="6.2" transform="rotate(-8 438.2 338.5)"/>
<ellipse cx="438.2" cy="328.5" rx="1.6" ry="6.2"/>
<ellipse cx="438.2" cy="318.5" rx="1.6" ry="6.2"/>
<ellipse cx="438.2" cy="308.5" rx="1.6" ry="6.2"/>
<ellipse cx="438.2" cy="298.5" rx="1.6" ry="6.2"/>
<ellipse cx="438.2" cy="288.5" rx="1.6" ry="6.2"/>
<ellipse cx="438.2" cy="278.5" rx="1.6" ry="6.2"/>
<ellipse cx="438.2" cy="268.5" rx="1.6" ry="6.2"/>
<ellipse cx="438.2" cy="258.5" rx="1.6" ry="6.2"/>
<ellipse cx="438.2" cy="248.5" rx="1.6" ry="6.2"/>
<ellipse cx="451.2" cy="418.5" rx="1.6" ry="6.2"/>
<ellipse cx="451.2" cy="408.5" rx="1.6" ry="6.2" transform="rotate(-63 451.2 408.5)"/>
<ellipse cx="451.2" cy="398.5" rx="1.6" ry="6.2" transform="rotate(67 451.2 398.5)"/>
<ellipse cx="451.2" cy="388.5" rx="1.6" ry="6.2" transform="rotate(73 451.2 388.5)"/>
<ellipse cx="451.2" cy="378.5" rx="1.6" ry="6.2" transform="rotate(90 451.2 378.5)"/>
<ellipse cx="451.2" cy="368.5" rx="1.6" ry="6.2" transform="rotate(-57 451.2 368.5)"/>
<ellipse cx="451.2" cy="358.5" rx="1.6" ry="6.2" transform="rotate(-30 451.2 358.5)"/>
<ellipse cx="451.2" cy="348.5" rx="1.6" ry="6.2" transform="rotate(-15 451.2 348.5)"/>
<ellipse cx="451.2" cy="338.5" rx="1.6" ry="6.2" transform="rotate(-7 451.2 338.5)"/>
<ellipse cx="451.2" cy="328.5" rx="1.6" ry="6.2"/>
<ellipse cx="451.2" cy="318.5" rx="1.6" ry="6.2"/>
<ellipse cx="451.2" cy="308.5" rx="1.6" ry="6.2"/>
<ellipse cx="451.2" cy="298.5" rx="1.6" ry="6.2"/>
<ellipse cx="451.2" cy="288.5" rx="1.6" ry="6.2"/>
<ellipse cx="451.2" cy="278.5" rx="1.6" ry="6.2"/>
<ellipse cx="451.2" cy="268.5" rx="1.6" ry="6.2"/>
<ellipse cx="451.2" cy="258.5" rx="1.6" ry="6.2"/>
<ellipse cx="451.2" cy="248.5" rx="1.6" ry="6.2"/>
<ellipse cx="464.2" cy="418.5" rx="1.6" ry="6.2"/>
<ellipse cx="464.2" cy="408.5" rx="1.6" ry="6.2" transform="rotate(-23 464.2 408.5)"/>
<ellipse cx="464.2" cy="398.5" rx="1.6" ry="6.2" transform="rotate(-50 464.2 398.5)"/>
<ellipse cx="464.2" cy="388.5" rx="1.6" ry="6.2" transform="rotate(-48 464.2 388.5)"/>
<ellipse cx="464.2" cy="378.5" rx="1.6" ry="6.2" transform="rotate(-47 464.2 378.5)"/>
<ellipse cx="464.2" cy="368.5" rx="1.6" ry="6.2" transform="rotate(-40 464.2 368.5)"/>
<ellipse cx="464.2" cy="358.5" rx="1.6" ry="6.2" transform="rotate(-25 464.2 358.5)"/>
<ellipse cx="464.2" cy="348.5" rx="1.6" ry="6.2" transform="rotate(-12 464.2 348.5)"/>
<ellipse cx="464.2" cy="338.5" rx="1.6" ry="6.2" transform="rotate(-6 464.2 338.5)"/>
<ellipse cx="464.2" cy="328.5" rx="1.6" ry="6.2"/>
<ellipse cx="464.2" cy="318.5" rx="1.6" ry="6.2"/>
<ellipse cx="464.2" cy="308.5" rx="1.6" ry="6.2"/>
<ellipse cx="464.2" cy="298.5" rx="1.6" ry="6.2"/>
<ellipse cx="464.2" cy="288.5" rx="1.6" ry="6.2"/>
<ellipse cx="464.2" cy="278.5" rx="1.6" ry="6.2"/>
<ellipse cx="464.2" cy="268.5" rx="1.6" ry="6.2"/>
<ellipse cx="464.2" cy="258.5" rx="1.6" ry="6.2"/>
<ellipse cx="464.2" cy="248.5" rx="1.6" ry="6.2"/>
<ellipse cx="477.2" cy="418.5" rx="1.6" ry="6.2"/>
<ellipse cx="477.2" cy="408.5" rx="1.6" ry="6.2"/>
<ellipse cx="477.2" cy="398.5" rx="1.6" ry="6.2"/>
<ellipse cx="477.2" cy="388.5" rx="1.6" ry="6.2"/>
<ellipse cx="477.2" cy="378.5" rx="1.6" ry="6.2"/>
<ellipse cx="477.2" cy="368.5" rx="1.6" ry="6.2"/>
<ellipse cx="477.2" cy="358.5" rx="1.6" ry="6.2"/>
<ellipse cx="477.2" cy="348.5" rx="1.6" ry="6.2"/>
<ellipse cx="477.2" cy="338.5" rx="1.6" ry="6.2"/>
<ellipse cx="477.2" cy="328.5" rx="1.6" ry="6.2"/>
<ellipse cx="477.2" cy="318.5" rx="1.6" ry="6.2"/>
<ellipse cx="477.2" cy="308.5" rx="1.6" ry="6.2"/>
<ellipse cx="477.2" cy="298.5" rx="1.6" ry="6.2"/>
<ellipse cx="477.2" cy="288.5" rx="1.6" ry="6.2"/>
<ellipse cx="477.2" cy="278.5" rx="1.6" ry="6.2"/>
<ellipse cx="477.2" cy="268.5" rx="1.6" ry="6.2"/>
<ellipse cx="477.2" cy="258.5" rx="1.6" ry="6.2"/>
<ellipse cx="477.2" cy="248.5" rx="1.6" ry="6.2"/>
<ellipse cx="490.2" cy="418.5" rx="1.6" ry="6.2"/>
<ellipse cx="490.2" cy="408.5" rx="1.6" ry="6.2" transform="rotate(23 490.2 408.5)"/>
<ellipse cx="490.2" cy="398.5" rx="1.6" ry="6.2" transform="rotate(50 490.2 398.5)"/>
<ellipse cx="490.2" cy="388.5" rx="1.6" ry="6.2" transform="rotate(48 490.2 388.5)"/>
<ellipse cx="490.2" cy="378.5" rx="1.6" ry="6.2" transform="rotate(47 490.2 378.5)"/>
<ellipse cx="490.2" cy="368.5" rx="1.6" ry="6.2" transform="rotate(40 490.2 368.5)"/>
<ellipse cx="490.2" cy="358.5" rx="1.6" ry="6.2" transform="rotate(25 490.2 358.5)"/>
<ellipse cx="490.2" cy="348.5" rx="1.6" ry="6.2" transform="rotate(12 490.2 348.5)"/>
<ellipse cx="490.2" cy="338.5" rx="1.6" ry="6.2" transform="rotate(6 490.2 338.5)"/>
<ellipse cx="490.2" cy="328.5" rx="1.6" ry="6.2"/>
<ellipse cx="490.2" cy="318.5" rx="1.6" ry="6.2"/>
<ellipse cx="490.2" cy="308.5" rx="1.6" ry="6.2"/>
<ellipse cx="490.2" cy="298.5" rx="1.6" ry="6.2"/>
<ellipse cx="490.2" cy="288.5" rx="1.6" ry="6.2"/>
<ellipse cx="490.2" cy="278.5" rx="1.6" ry="6.2"/>
<ellipse cx="490.2" cy="268.5" rx="1.6" ry="6.2"/>
<ellipse cx="490.2" cy="258.5" rx="1.6" ry="6.2"/>
<ellipse cx="490.2" cy="248.5" rx="1.6" ry="6.2"/>
<ellipse cx="503.2" cy="418.5" rx="1.6" ry="6.2"/>
<ellipse cx="503.2" cy="408.5" rx="1.6" ry="6.2" transform="rotate(63 503.2 408.5)"/>
<ellipse cx="503.2" cy="398.5" rx="1.6" ry="6.2" transform="rotate(-67 503.2 398.5)"/>
<ellipse cx="503.2" cy="388.5" rx="1.6" ry="6.2" transform="rotate(-73 503.2 388.5)"/>
<ellipse cx="503.2" cy="378.5" rx="1.6" ry="6.2" transform="rotate(-90 503.2 378.5)"/>
<ellipse cx="503.2" cy="368.5" rx="1.6" ry="6.2" transform="rotate(57 503.2 368.5)"/>
<ellipse cx="503.2" cy="358.5" rx="1.6" ry="6.2" transform="rotate(30 503.2 358.5)"/>
<ellipse cx="503.2" cy="348.5" rx="1.6" ry="6.2" transform="rotate(15 503.2 348.5)"/>
<ellipse cx="503.2" cy="338.5" rx="1.6" ry="6.2" transform="rotate(7 503.2 338.5)"/>
<ellipse cx="503.2" cy="328.5" rx="1.6" ry="6.2"/>
<ellipse cx="503.2" cy="318.5" rx="1.6" ry="6.2"/>
<ellipse cx="503.2" cy="308.5" rx="1.6" ry="6.2"/>
<ellipse cx="503.2" cy="298.5" rx="1.6" ry="6.2"/>
<ellipse cx="503.2" cy="288.5" rx="1.6" ry="6.2"/>
<ellipse cx="503.2" cy="278.5" rx="1.6" ry="6.2"/>
<ellipse cx="503.2" cy="268.5" rx="1.6" ry="6.2"/>
<ellipse cx="503.2" cy="258.5" rx="1.6" ry="6.2"/>
<ellipse cx="503.2" cy="248.5" rx="1.6" ry="6.2"/>
<ellipse cx="516.1" cy="418.5" rx="1.6" ry="6.2"/>
<ellipse cx="516.1" cy="408.5" rx="1.6" ry="6.2" transform="rotate(-68 516.1 408.5)"/>
<ellipse cx="516.1" cy="398.5" rx="1.6" ry="6.2" transform="rotate(-25 516.1 398.5)"/>
<ellipse cx="516.1" cy="388.5" rx="1.6" ry="6.2" transform="rotate(-27 516.1 388.5)"/>
<ellipse cx="516.1" cy="378.5" rx="1.6" ry="6.2" transform="rotate(-45 516.1 378.5)"/>
<ellipse cx="516.1" cy="368.5" rx="1.6" ry="6.2" transform="rotate(55 516.1 368.5)"/>
<ellipse cx="516.1" cy="358.5" rx="1.6" ry="6.2" transform="rotate(27 516.1 358.5)"/>
<ellipse cx="516.1" cy="348.5" rx="1.6" ry="6.2" transform="rotate(15 516.1 348.5)"/>
<ellipse cx="516.1" cy="338.5" rx="1.6" ry="6.2" transform="rotate(8 516.1 338.5)"/>
<ellipse cx="516.1" cy="328.5" rx="1.6" ry="6.2"/>
<ellipse cx="516.1" cy="318.5" rx="1.6" ry="6.2"/>
<ellipse cx="516.1" cy="308.5" rx="1.6" ry="6.2"/>
<ellipse cx="516.1" cy="298.5" rx="1.6" ry="6.2"/>
<ellipse cx="516.1" cy="288.5" rx="1.6" ry="6.2"/>
<ellipse cx="516.1" cy="278.5" rx="1.6" ry="6.2"/>
<ellipse cx="516.1" cy="268.5" rx="1.6" ry="6.2"/>
<ellipse cx="516.1" cy="258.5" rx="1.6" ry="6.2"/>
<ellipse cx="516.1" cy="248.5" rx="1.6" ry="6.2"/>
<ellipse cx="529.1" cy="418.5" rx="1.6" ry="6.2"/>
<ellipse cx="529.1" cy="408.5" rx="1.6" ry="6.2"/>
<ellipse cx="529.1" cy="398.5" rx="1.6" ry="6.2"/>
<ellipse cx="529.1" cy="388.5" rx="1.6" ry="6.2"/>
<ellipse cx="529.1" cy="378.5" rx="1.6" ry="6.2"/>
<ellipse cx="529.1" cy="368.5" rx="1.6" ry="6.2"/>
<ellipse cx="529.1" cy="358.5" rx="1.6" ry="6.2"/>
<ellipse cx="529.1" cy="348.5" rx="1.6" ry="6.2"/>
<ellipse cx="529.1" cy="338.5" rx="1.6" ry="6.2"/>
<ellipse cx="529.1" cy="328.5" rx="1.6" ry="6.2"/>
<ellipse cx="529.1" cy="318.5" rx="1.6" ry="6.2"/>
<ellipse cx="529.1" cy="308.5" rx="1.6" ry="6.2"/>
<ellipse cx="529.1" cy="298.5" rx="1.6" ry="6.2"/>
<ellipse cx="529.1" cy="288.5" rx="1.6" ry="6.2"/>
<ellipse cx="529.1" cy="278.5" rx="1.6" ry="6.2"/>
<ellipse cx="529.1" cy="268.5" rx="1.6" ry="6.2"/>
<ellipse cx="529.1" cy="258.5" rx="1.6" ry="6.2"/>
<ellipse cx="529.1" cy="248.5" rx="1.6" ry="6.2"/>
</g>
</g>
<rect x="318.0" y="239.9" width="216.60000000000002" height="187.1" fill="none" stroke="#111" stroke-width="1.8"/>
<rect x="322.4" y="243.5" width="38" height="45.5" fill="#fff"/>
<text x="341.4" y="275.9" font-family="Liberation Sans, sans-serif" font-size="28" text-anchor="middle">d</text>
<clipPath id="clipe"><rect x="554.9" y="240.9" width="214.30000000000007" height="185.1"/></clipPath>
<rect x="553.9" y="239.9" width="216.30000000000007" height="187.1" fill="#fbbc56"/>
<g clip-path="url(#clipe)">
<g fill="none" stroke="#168010" stroke-width="1.35">
<path d="M521.0,418.5 A34,53 0 0 1 589.0,418.5"/>
<path d="M523.0,418.5 A32,32 0 0 1 587.0,418.5"/>
<path d="M522.0,418.5 A33,20 0 0 1 588.0,418.5"/>
<path d="M522.0,418.5 A33,15 0 0 1 588.0,418.5"/>
<path d="M522.0,418.5 A33,11 0 0 1 588.0,418.5"/>
<path d="M523.0,418.5 A32,7.5 0 0 1 587.0,418.5"/>
<path d="M524.0,418.5 A31,4.5 0 0 1 586.0,418.5"/>
<path d="M628.0,418.5 A34,53 0 0 1 696.0,418.5"/>
<path d="M630.0,418.5 A32,32 0 0 1 694.0,418.5"/>
<path d="M629.0,418.5 A33,20 0 0 1 695.0,418.5"/>
<path d="M629.0,418.5 A33,15 0 0 1 695.0,418.5"/>
<path d="M629.0,418.5 A33,11 0 0 1 695.0,418.5"/>
<path d="M630.0,418.5 A32,7.5 0 0 1 694.0,418.5"/>
<path d="M631.0,418.5 A31,4.5 0 0 1 693.0,418.5"/>
<path d="M733.0,418.5 A34,53 0 0 1 801.0,418.5"/>
<path d="M735.0,418.5 A32,32 0 0 1 799.0,418.5"/>
<path d="M734.0,418.5 A33,20 0 0 1 800.0,418.5"/>
<path d="M734.0,418.5 A33,15 0 0 1 800.0,418.5"/>
<path d="M734.0,418.5 A33,11 0 0 1 800.0,418.5"/>
<path d="M735.0,418.5 A32,7.5 0 0 1 799.0,418.5"/>
<path d="M736.0,418.5 A31,4.5 0 0 1 798.0,418.5"/>
<path d="M580.0,418.5 A30,30 0 0 1 640.0,418.5"/>
<path d="M685.0,418.5 A30,30 0 0 1 745.0,418.5"/>
</g>
<rect x="554.9" y="417.3" width="214.30000000000007" height="4" fill="#168010"/>
<g fill="#f06a58" stroke="#963222" stroke-width="0.45">
<ellipse cx="557.8" cy="418.5" rx="1.2" ry="6.4"/>
<ellipse cx="557.8" cy="411.5" rx="1.2" ry="6.4"/>
<ellipse cx="557.8" cy="404.5" rx="1.2" ry="6.4"/>
<ellipse cx="557.8" cy="397.5" rx="1.2" ry="6.4"/>
<ellipse cx="557.8" cy="390.5" rx="1.2" ry="6.4"/>
<ellipse cx="557.8" cy="383.5" rx="1.2" ry="6.4"/>
<ellipse cx="557.8" cy="376.5" rx="1.2" ry="6.4"/>
<ellipse cx="557.8" cy="369.5" rx="1.2" ry="6.4"/>
<ellipse cx="557.8" cy="362.5" rx="1.2" ry="6.4"/>
<ellipse cx="557.8" cy="355.5" rx="1.2" ry="6.4"/>
<ellipse cx="557.8" cy="348.5" rx="1.2" ry="6.4"/>
<ellipse cx="557.8" cy="341.5" rx="1.2" ry="6.4"/>
<ellipse cx="557.8" cy="334.5" rx="1.2" ry="6.4"/>
<ellipse cx="557.8" cy="327.5" rx="1.2" ry="6.4"/>
<ellipse cx="557.8" cy="320.5" rx="1.2" ry="6.4"/>
<ellipse cx="557.8" cy="313.5" rx="1.2" ry="6.4"/>
<ellipse cx="557.8" cy="306.5" rx="1.2" ry="6.4"/>
<ellipse cx="557.8" cy="299.5" rx="1.2" ry="6.4"/>
<ellipse cx="557.8" cy="292.5" rx="1.2" ry="6.4"/>
<ellipse cx="557.8" cy="285.5" rx="1.2" ry="6.4"/>
<ellipse cx="557.8" cy="278.5" rx="1.2" ry="6.4"/>
<ellipse cx="557.8" cy="271.5" rx="1.2" ry="6.4"/>
<ellipse cx="557.8" cy="264.5" rx="1.2" ry="6.4"/>
<ellipse cx="557.8" cy="257.5" rx="1.2" ry="6.4"/>
<ellipse cx="557.8" cy="250.5" rx="1.2" ry="6.4"/>
<ellipse cx="564.1" cy="418.5" rx="1.2" ry="6.4"/>
<ellipse cx="564.1" cy="411.5" rx="1.55" ry="6.4" transform="rotate(60 564.1 411.5)"/>
<ellipse cx="564.1" cy="404.5" rx="1.55" ry="6.4" transform="rotate(36 564.1 404.5)"/>
<ellipse cx="564.1" cy="397.5" rx="1.55" ry="6.4" transform="rotate(26 564.1 397.5)"/>
<ellipse cx="564.1" cy="390.5" rx="1.55" ry="6.4" transform="rotate(36 564.1 390.5)"/>
<ellipse cx="564.1" cy="383.5" rx="1.55" ry="6.4" transform="rotate(8 564.1 383.5)"/>
<ellipse cx="564.1" cy="376.5" rx="1.55" ry="6.4" transform="rotate(-48 564.1 376.5)"/>
<ellipse cx="564.1" cy="369.5" rx="1.55" ry="6.4" transform="rotate(-26 564.1 369.5)"/>
<ellipse cx="564.1" cy="362.5" rx="1.55" ry="6.4" transform="rotate(-15 564.1 362.5)"/>
<ellipse cx="564.1" cy="355.5" rx="1.55" ry="6.4" transform="rotate(-9 564.1 355.5)"/>
<ellipse cx="564.1" cy="348.5" rx="1.2" ry="6.4" transform="rotate(-2 564.1 348.5)"/>
<ellipse cx="564.1" cy="341.5" rx="1.2" ry="6.4"/>
<ellipse cx="564.1" cy="334.5" rx="1.2" ry="6.4"/>
<ellipse cx="564.1" cy="327.5" rx="1.2" ry="6.4"/>
<ellipse cx="564.1" cy="320.5" rx="1.2" ry="6.4"/>
<ellipse cx="564.1" cy="313.5" rx="1.2" ry="6.4"/>
<ellipse cx="564.1" cy="306.5" rx="1.2" ry="6.4"/>
<ellipse cx="564.1" cy="299.5" rx="1.2" ry="6.4"/>
<ellipse cx="564.1" cy="292.5" rx="1.2" ry="6.4"/>
<ellipse cx="564.1" cy="285.5" rx="1.2" ry="6.4"/>
<ellipse cx="564.1" cy="278.5" rx="1.2" ry="6.4"/>
<ellipse cx="564.1" cy="271.5" rx="1.2" ry="6.4"/>
<ellipse cx="564.1" cy="264.5" rx="1.2" ry="6.4"/>
<ellipse cx="564.1" cy="257.5" rx="1.2" ry="6.4"/>
<ellipse cx="564.1" cy="250.5" rx="1.2" ry="6.4"/>
<ellipse cx="570.4" cy="418.5" rx="1.2" ry="6.4"/>
<ellipse cx="570.4" cy="411.5" rx="1.55" ry="6.4" transform="rotate(66 570.4 411.5)"/>
<ellipse cx="570.4" cy="404.5" rx="1.55" ry="6.4" transform="rotate(42 570.4 404.5)"/>
<ellipse cx="570.4" cy="397.5" rx="1.55" ry="6.4" transform="rotate(33 570.4 397.5)"/>
<ellipse cx="570.4" cy="390.5" rx="1.55" ry="6.4" transform="rotate(43 570.4 390.5)"/>
<ellipse cx="570.4" cy="383.5" rx="1.55" ry="6.4" transform="rotate(12 570.4 383.5)"/>
<ellipse cx="570.4" cy="376.5" rx="1.55" ry="6.4" transform="rotate(-48 570.4 376.5)"/>
<ellipse cx="570.4" cy="369.5" rx="1.55" ry="6.4" transform="rotate(-26 570.4 369.5)"/>
<ellipse cx="570.4" cy="362.5" rx="1.55" ry="6.4" transform="rotate(-15 570.4 362.5)"/>
<ellipse cx="570.4" cy="355.5" rx="1.55" ry="6.4" transform="rotate(-9 570.4 355.5)"/>
<ellipse cx="570.4" cy="348.5" rx="1.2" ry="6.4" transform="rotate(-2 570.4 348.5)"/>
<ellipse cx="570.4" cy="341.5" rx="1.2" ry="6.4"/>
<ellipse cx="570.4" cy="334.5" rx="1.2" ry="6.4"/>
<ellipse cx="570.4" cy="327.5" rx="1.2" ry="6.4"/>
<ellipse cx="570.4" cy="320.5" rx="1.2" ry="6.4"/>
<ellipse cx="570.4" cy="313.5" rx="1.2" ry="6.4"/>
<ellipse cx="570.4" cy="306.5" rx="1.2" ry="6.4"/>
<ellipse cx="570.4" cy="299.5" rx="1.2" ry="6.4"/>
<ellipse cx="570.4" cy="292.5" rx="1.2" ry="6.4"/>
<ellipse cx="570.4" cy="285.5" rx="1.2" ry="6.4"/>
<ellipse cx="570.4" cy="278.5" rx="1.2" ry="6.4"/>
<ellipse cx="570.4" cy="271.5" rx="1.2" ry="6.4"/>
<ellipse cx="570.4" cy="264.5" rx="1.2" ry="6.4"/>
<ellipse cx="570.4" cy="257.5" rx="1.2" ry="6.4"/>
<ellipse cx="570.4" cy="250.5" rx="1.2" ry="6.4"/>
<ellipse cx="576.7" cy="418.5" rx="1.2" ry="6.4"/>
<ellipse cx="576.7" cy="411.5" rx="1.55" ry="6.4" transform="rotate(88 576.7 411.5)"/>
<ellipse cx="576.7" cy="404.5" rx="1.55" ry="6.4" transform="rotate(64 576.7 404.5)"/>
<ellipse cx="576.7" cy="397.5" rx="1.55" ry="6.4" transform="rotate(55 576.7 397.5)"/>
<ellipse cx="576.7" cy="390.5" rx="1.55" ry="6.4" transform="rotate(66 576.7 390.5)"/>
<ellipse cx="576.7" cy="383.5" rx="1.55" ry="6.4" transform="rotate(25 576.7 383.5)"/>
<ellipse cx="576.7" cy="376.5" rx="1.55" ry="6.4" transform="rotate(-49 576.7 376.5)"/>
<ellipse cx="576.7" cy="369.5" rx="1.55" ry="6.4" transform="rotate(-27 576.7 369.5)"/>
<ellipse cx="576.7" cy="362.5" rx="1.55" ry="6.4" transform="rotate(-15 576.7 362.5)"/>
<ellipse cx="576.7" cy="355.5" rx="1.55" ry="6.4" transform="rotate(-8 576.7 355.5)"/>
<ellipse cx="576.7" cy="348.5" rx="1.2" ry="6.4" transform="rotate(-2 576.7 348.5)"/>
<ellipse cx="576.7" cy="341.5" rx="1.2" ry="6.4"/>
<ellipse cx="576.7" cy="334.5" rx="1.2" ry="6.4"/>
<ellipse cx="576.7" cy="327.5" rx="1.2" ry="6.4"/>
<ellipse cx="576.7" cy="320.5" rx="1.2" ry="6.4"/>
<ellipse cx="576.7" cy="313.5" rx="1.2" ry="6.4"/>
<ellipse cx="576.7" cy="306.5" rx="1.2" ry="6.4"/>
<ellipse cx="576.7" cy="299.5" rx="1.2" ry="6.4"/>
<ellipse cx="576.7" cy="292.5" rx="1.2" ry="6.4"/>
<ellipse cx="576.7" cy="285.5" rx="1.2" ry="6.4"/>
<ellipse cx="576.7" cy="278.5" rx="1.2" ry="6.4"/>
<ellipse cx="576.7" cy="271.5" rx="1.2" ry="6.4"/>
<ellipse cx="576.7" cy="264.5" rx="1.2" ry="6.4"/>
<ellipse cx="576.7" cy="257.5" rx="1.2" ry="6.4"/>
<ellipse cx="576.7" cy="250.5" rx="1.2" ry="6.4"/>
<ellipse cx="583.0" cy="418.5" rx="1.2" ry="6.4"/>
<ellipse cx="583.0" cy="411.5" rx="1.55" ry="6.4" transform="rotate(-50 583.0 411.5)"/>
<ellipse cx="583.0" cy="404.5" rx="1.55" ry="6.4" transform="rotate(43 583.0 404.5)"/>
<ellipse cx="583.0" cy="397.5" rx="1.55" ry="6.4" transform="rotate(80 583.0 397.5)"/>
<ellipse cx="583.0" cy="390.5" rx="1.55" ry="6.4" transform="rotate(89 583.0 390.5)"/>
<ellipse cx="583.0" cy="383.5" rx="1.55" ry="6.4" transform="rotate(40 583.0 383.5)"/>
<ellipse cx="583.0" cy="376.5" rx="1.55" ry="6.4" transform="rotate(-48 583.0 376.5)"/>
<ellipse cx="583.0" cy="369.5" rx="1.55" ry="6.4" transform="rotate(-27 583.0 369.5)"/>
<ellipse cx="583.0" cy="362.5" rx="1.55" ry="6.4" transform="rotate(-15 583.0 362.5)"/>
<ellipse cx="583.0" cy="355.5" rx="1.55" ry="6.4" transform="rotate(-8 583.0 355.5)"/>
<ellipse cx="583.0" cy="348.5" rx="1.2" ry="6.4" transform="rotate(-2 583.0 348.5)"/>
<ellipse cx="583.0" cy="341.5" rx="1.2" ry="6.4"/>
<ellipse cx="583.0" cy="334.5" rx="1.2" ry="6.4"/>
<ellipse cx="583.0" cy="327.5" rx="1.2" ry="6.4"/>
<ellipse cx="583.0" cy="320.5" rx="1.2" ry="6.4"/>
<ellipse cx="583.0" cy="313.5" rx="1.2" ry="6.4"/>
<ellipse cx="583.0" cy="306.5" rx="1.2" ry="6.4"/>
<ellipse cx="583.0" cy="299.5" rx="1.2" ry="6.4"/>
<ellipse cx="583.0" cy="292.5" rx="1.2" ry="6.4"/>
<ellipse cx="583.0" cy="285.5" rx="1.2" ry="6.4"/>
<ellipse cx="583.0" cy="278.5" rx="1.2" ry="6.4"/>
<ellipse cx="583.0" cy="271.5" rx="1.2" ry="6.4"/>
<ellipse cx="583.0" cy="264.5" rx="1.2" ry="6.4"/>
<ellipse cx="583.0" cy="257.5" rx="1.2" ry="6.4"/>
<ellipse cx="583.0" cy="250.5" rx="1.2" ry="6.4"/>
<ellipse cx="589.2" cy="418.5" rx="1.2" ry="6.4"/>
<ellipse cx="589.2" cy="411.5" rx="1.55" ry="6.4" transform="rotate(-32 589.2 411.5)"/>
<ellipse cx="589.2" cy="404.5" rx="1.55" ry="6.4" transform="rotate(72 589.2 404.5)"/>
<ellipse cx="589.2" cy="397.5" rx="1.55" ry="6.4" transform="rotate(111 589.2 397.5)"/>
<ellipse cx="589.2" cy="390.5" rx="1.55" ry="6.4" transform="rotate(115 589.2 390.5)"/>
<ellipse cx="589.2" cy="383.5" rx="1.55" ry="6.4" transform="rotate(57 589.2 383.5)"/>
<ellipse cx="589.2" cy="376.5" rx="1.55" ry="6.4" transform="rotate(-41 589.2 376.5)"/>
<ellipse cx="589.2" cy="369.5" rx="1.55" ry="6.4" transform="rotate(-25 589.2 369.5)"/>
<ellipse cx="589.2" cy="362.5" rx="1.55" ry="6.4" transform="rotate(-13 589.2 362.5)"/>
<ellipse cx="589.2" cy="355.5" rx="1.55" ry="6.4" transform="rotate(-7 589.2 355.5)"/>
<ellipse cx="589.2" cy="348.5" rx="1.2" ry="6.4" transform="rotate(-2 589.2 348.5)"/>
<ellipse cx="589.2" cy="341.5" rx="1.2" ry="6.4"/>
<ellipse cx="589.2" cy="334.5" rx="1.2" ry="6.4"/>
<ellipse cx="589.2" cy="327.5" rx="1.2" ry="6.4"/>
<ellipse cx="589.2" cy="320.5" rx="1.2" ry="6.4"/>
<ellipse cx="589.2" cy="313.5" rx="1.2" ry="6.4"/>
<ellipse cx="589.2" cy="306.5" rx="1.2" ry="6.4"/>
<ellipse cx="589.2" cy="299.5" rx="1.2" ry="6.4"/>
<ellipse cx="589.2" cy="292.5" rx="1.2" ry="6.4"/>
<ellipse cx="589.2" cy="285.5" rx="1.2" ry="6.4"/>
<ellipse cx="589.2" cy="278.5" rx="1.2" ry="6.4"/>
<ellipse cx="589.2" cy="271.5" rx="1.2" ry="6.4"/>
<ellipse cx="589.2" cy="264.5" rx="1.2" ry="6.4"/>
<ellipse cx="589.2" cy="257.5" rx="1.2" ry="6.4"/>
<ellipse cx="589.2" cy="250.5" rx="1.2" ry="6.4"/>
<ellipse cx="595.5" cy="418.5" rx="1.2" ry="6.4"/>
<ellipse cx="595.5" cy="411.5" rx="1.55" ry="6.4" transform="rotate(-20 595.5 411.5)"/>
<ellipse cx="595.5" cy="404.5" rx="1.55" ry="6.4" transform="rotate(-43 595.5 404.5)"/>
<ellipse cx="595.5" cy="397.5" rx="1.55" ry="6.4" transform="rotate(-49 595.5 397.5)"/>
<ellipse cx="595.5" cy="390.5" rx="1.55" ry="6.4" transform="rotate(-48 595.5 390.5)"/>
<ellipse cx="595.5" cy="383.5" rx="1.55" ry="6.4" transform="rotate(-44 595.5 383.5)"/>
<ellipse cx="595.5" cy="376.5" rx="1.55" ry="6.4" transform="rotate(-36 595.5 376.5)"/>
<ellipse cx="595.5" cy="369.5" rx="1.55" ry="6.4" transform="rotate(-23 595.5 369.5)"/>
<ellipse cx="595.5" cy="362.5" rx="1.55" ry="6.4" transform="rotate(-12 595.5 362.5)"/>
<ellipse cx="595.5" cy="355.5" rx="1.55" ry="6.4" transform="rotate(-7 595.5 355.5)"/>
<ellipse cx="595.5" cy="348.5" rx="1.2" ry="6.4" transform="rotate(-2 595.5 348.5)"/>
<ellipse cx="595.5" cy="341.5" rx="1.2" ry="6.4"/>
<ellipse cx="595.5" cy="334.5" rx="1.2" ry="6.4"/>
<ellipse cx="595.5" cy="327.5" rx="1.2" ry="6.4"/>
<ellipse cx="595.5" cy="320.5" rx="1.2" ry="6.4"/>
<ellipse cx="595.5" cy="313.5" rx="1.2" ry="6.4"/>
<ellipse cx="595.5" cy="306.5" rx="1.2" ry="6.4"/>
<ellipse cx="595.5" cy="299.5" rx="1.2" ry="6.4"/>
<ellipse cx="595.5" cy="292.5" rx="1.2" ry="6.4"/>
<ellipse cx="595.5" cy="285.5" rx="1.2" ry="6.4"/>
<ellipse cx="595.5" cy="278.5" rx="1.2" ry="6.4"/>
<ellipse cx="595.5" cy="271.5" rx="1.2" ry="6.4"/>
<ellipse cx="595.5" cy="264.5" rx="1.2" ry="6.4"/>
<ellipse cx="595.5" cy="257.5" rx="1.2" ry="6.4"/>
<ellipse cx="595.5" cy="250.5" rx="1.2" ry="6.4"/>
<ellipse cx="601.8" cy="418.5" rx="1.2" ry="6.4"/>
<ellipse cx="601.8" cy="411.5" rx="1.2" ry="6.4"/>
<ellipse cx="601.8" cy="404.5" rx="1.2" ry="6.4"/>
<ellipse cx="601.8" cy="397.5" rx="1.2" ry="6.4"/>
<ellipse cx="601.8" cy="390.5" rx="1.2" ry="6.4"/>
<ellipse cx="601.8" cy="383.5" rx="1.2" ry="6.4"/>
<ellipse cx="601.8" cy="376.5" rx="1.2" ry="6.4"/>
<ellipse cx="601.8" cy="369.5" rx="1.2" ry="6.4"/>
<ellipse cx="601.8" cy="362.5" rx="1.2" ry="6.4"/>
<ellipse cx="601.8" cy="355.5" rx="1.2" ry="6.4"/>
<ellipse cx="601.8" cy="348.5" rx="1.2" ry="6.4"/>
<ellipse cx="601.8" cy="341.5" rx="1.2" ry="6.4"/>
<ellipse cx="601.8" cy="334.5" rx="1.2" ry="6.4"/>
<ellipse cx="601.8" cy="327.5" rx="1.2" ry="6.4"/>
<ellipse cx="601.8" cy="320.5" rx="1.2" ry="6.4"/>
<ellipse cx="601.8" cy="313.5" rx="1.2" ry="6.4"/>
<ellipse cx="601.8" cy="306.5" rx="1.2" ry="6.4"/>
<ellipse cx="601.8" cy="299.5" rx="1.2" ry="6.4"/>
<ellipse cx="601.8" cy="292.5" rx="1.2" ry="6.4"/>
<ellipse cx="601.8" cy="285.5" rx="1.2" ry="6.4"/>
<ellipse cx="601.8" cy="278.5" rx="1.2" ry="6.4"/>
<ellipse cx="601.8" cy="271.5" rx="1.2" ry="6.4"/>
<ellipse cx="601.8" cy="264.5" rx="1.2" ry="6.4"/>
<ellipse cx="601.8" cy="257.5" rx="1.2" ry="6.4"/>
<ellipse cx="601.8" cy="250.5" rx="1.2" ry="6.4"/>
<ellipse cx="608.1" cy="418.5" rx="1.2" ry="6.4"/>
<ellipse cx="608.1" cy="411.5" rx="1.2" ry="6.4"/>
<ellipse cx="608.1" cy="404.5" rx="1.2" ry="6.4"/>
<ellipse cx="608.1" cy="397.5" rx="1.2" ry="6.4"/>
<ellipse cx="608.1" cy="390.5" rx="1.2" ry="6.4"/>
<ellipse cx="608.1" cy="383.5" rx="1.2" ry="6.4"/>
<ellipse cx="608.1" cy="376.5" rx="1.2" ry="6.4"/>
<ellipse cx="608.1" cy="369.5" rx="1.2" ry="6.4"/>
<ellipse cx="608.1" cy="362.5" rx="1.2" ry="6.4"/>
<ellipse cx="608.1" cy="355.5" rx="1.2" ry="6.4"/>
<ellipse cx="608.1" cy="348.5" rx="1.2" ry="6.4"/>
<ellipse cx="608.1" cy="341.5" rx="1.2" ry="6.4"/>
<ellipse cx="608.1" cy="334.5" rx="1.2" ry="6.4"/>
<ellipse cx="608.1" cy="327.5" rx="1.2" ry="6.4"/>
<ellipse cx="608.1" cy="320.5" rx="1.2" ry="6.4"/>
<ellipse cx="608.1" cy="313.5" rx="1.2" ry="6.4"/>
<ellipse cx="608.1" cy="306.5" rx="1.2" ry="6.4"/>
<ellipse cx="608.1" cy="299.5" rx="1.2" ry="6.4"/>
<ellipse cx="608.1" cy="292.5" rx="1.2" ry="6.4"/>
<ellipse cx="608.1" cy="285.5" rx="1.2" ry="6.4"/>
<ellipse cx="608.1" cy="278.5" rx="1.2" ry="6.4"/>
<ellipse cx="608.1" cy="271.5" rx="1.2" ry="6.4"/>
<ellipse cx="608.1" cy="264.5" rx="1.2" ry="6.4"/>
<ellipse cx="608.1" cy="257.5" rx="1.2" ry="6.4"/>
<ellipse cx="608.1" cy="250.5" rx="1.2" ry="6.4"/>
<ellipse cx="614.4" cy="418.5" rx="1.2" ry="6.4"/>
<ellipse cx="614.4" cy="411.5" rx="1.2" ry="6.4"/>
<ellipse cx="614.4" cy="404.5" rx="1.2" ry="6.4"/>
<ellipse cx="614.4" cy="397.5" rx="1.2" ry="6.4"/>
<ellipse cx="614.4" cy="390.5" rx="1.2" ry="6.4"/>
<ellipse cx="614.4" cy="383.5" rx="1.2" ry="6.4"/>
<ellipse cx="614.4" cy="376.5" rx="1.2" ry="6.4"/>
<ellipse cx="614.4" cy="369.5" rx="1.2" ry="6.4"/>
<ellipse cx="614.4" cy="362.5" rx="1.2" ry="6.4"/>
<ellipse cx="614.4" cy="355.5" rx="1.2" ry="6.4"/>
<ellipse cx="614.4" cy="348.5" rx="1.2" ry="6.4"/>
<ellipse cx="614.4" cy="341.5" rx="1.2" ry="6.4"/>
<ellipse cx="614.4" cy="334.5" rx="1.2" ry="6.4"/>
<ellipse cx="614.4" cy="327.5" rx="1.2" ry="6.4"/>
<ellipse cx="614.4" cy="320.5" rx="1.2" ry="6.4"/>
<ellipse cx="614.4" cy="313.5" rx="1.2" ry="6.4"/>
<ellipse cx="614.4" cy="306.5" rx="1.2" ry="6.4"/>
<ellipse cx="614.4" cy="299.5" rx="1.2" ry="6.4"/>
<ellipse cx="614.4" cy="292.5" rx="1.2" ry="6.4"/>
<ellipse cx="614.4" cy="285.5" rx="1.2" ry="6.4"/>
<ellipse cx="614.4" cy="278.5" rx="1.2" ry="6.4"/>
<ellipse cx="614.4" cy="271.5" rx="1.2" ry="6.4"/>
<ellipse cx="614.4" cy="264.5" rx="1.2" ry="6.4"/>
<ellipse cx="614.4" cy="257.5" rx="1.2" ry="6.4"/>
<ellipse cx="614.4" cy="250.5" rx="1.2" ry="6.4"/>
<ellipse cx="620.7" cy="418.5" rx="1.2" ry="6.4"/>
<ellipse cx="620.7" cy="411.5" rx="1.55" ry="6.4" transform="rotate(20 620.7 411.5)"/>
<ellipse cx="620.7" cy="404.5" rx="1.55" ry="6.4" transform="rotate(43 620.7 404.5)"/>
<ellipse cx="620.7" cy="397.5" rx="1.55" ry="6.4" transform="rotate(49 620.7 397.5)"/>
<ellipse cx="620.7" cy="390.5" rx="1.55" ry="6.4" transform="rotate(48 620.7 390.5)"/>
<ellipse cx="620.7" cy="383.5" rx="1.55" ry="6.4" transform="rotate(44 620.7 383.5)"/>
<ellipse cx="620.7" cy="376.5" rx="1.55" ry="6.4" transform="rotate(36 620.7 376.5)"/>
<ellipse cx="620.7" cy="369.5" rx="1.55" ry="6.4" transform="rotate(23 620.7 369.5)"/>
<ellipse cx="620.7" cy="362.5" rx="1.55" ry="6.4" transform="rotate(12 620.7 362.5)"/>
<ellipse cx="620.7" cy="355.5" rx="1.55" ry="6.4" transform="rotate(7 620.7 355.5)"/>
<ellipse cx="620.7" cy="348.5" rx="1.2" ry="6.4" transform="rotate(2 620.7 348.5)"/>
<ellipse cx="620.7" cy="341.5" rx="1.2" ry="6.4"/>
<ellipse cx="620.7" cy="334.5" rx="1.2" ry="6.4"/>
<ellipse cx="620.7" cy="327.5" rx="1.2" ry="6.4"/>
<ellipse cx="620.7" cy="320.5" rx="1.2" ry="6.4"/>
<ellipse cx="620.7" cy="313.5" rx="1.2" ry="6.4"/>
<ellipse cx="620.7" cy="306.5" rx="1.2" ry="6.4"/>
<ellipse cx="620.7" cy="299.5" rx="1.2" ry="6.4"/>
<ellipse cx="620.7" cy="292.5" rx="1.2" ry="6.4"/>
<ellipse cx="620.7" cy="285.5" rx="1.2" ry="6.4"/>
<ellipse cx="620.7" cy="278.5" rx="1.2" ry="6.4"/>
<ellipse cx="620.7" cy="271.5" rx="1.2" ry="6.4"/>
<ellipse cx="620.7" cy="264.5" rx="1.2" ry="6.4"/>
<ellipse cx="620.7" cy="257.5" rx="1.2" ry="6.4"/>
<ellipse cx="620.7" cy="250.5" rx="1.2" ry="6.4"/>
<ellipse cx="627.0" cy="418.5" rx="1.2" ry="6.4"/>
<ellipse cx="627.0" cy="411.5" rx="1.55" ry="6.4" transform="rotate(21 627.0 411.5)"/>
<ellipse cx="627.0" cy="404.5" rx="1.55" ry="6.4" transform="rotate(-90 627.0 404.5)"/>
<ellipse cx="627.0" cy="397.5" rx="1.55" ry="6.4" transform="rotate(-129 627.0 397.5)"/>
<ellipse cx="627.0" cy="390.5" rx="1.55" ry="6.4" transform="rotate(-131 627.0 390.5)"/>
<ellipse cx="627.0" cy="383.5" rx="1.55" ry="6.4" transform="rotate(-67 627.0 383.5)"/>
<ellipse cx="627.0" cy="376.5" rx="1.55" ry="6.4" transform="rotate(37 627.0 376.5)"/>
<ellipse cx="627.0" cy="369.5" rx="1.55" ry="6.4" transform="rotate(24 627.0 369.5)"/>
<ellipse cx="627.0" cy="362.5" rx="1.55" ry="6.4" transform="rotate(12 627.0 362.5)"/>
<ellipse cx="627.0" cy="355.5" rx="1.55" ry="6.4" transform="rotate(7 627.0 355.5)"/>
<ellipse cx="627.0" cy="348.5" rx="1.2" ry="6.4" transform="rotate(2 627.0 348.5)"/>
<ellipse cx="627.0" cy="341.5" rx="1.2" ry="6.4"/>
<ellipse cx="627.0" cy="334.5" rx="1.2" ry="6.4"/>
<ellipse cx="627.0" cy="327.5" rx="1.2" ry="6.4"/>
<ellipse cx="627.0" cy="320.5" rx="1.2" ry="6.4"/>
<ellipse cx="627.0" cy="313.5" rx="1.2" ry="6.4"/>
<ellipse cx="627.0" cy="306.5" rx="1.2" ry="6.4"/>
<ellipse cx="627.0" cy="299.5" rx="1.2" ry="6.4"/>
<ellipse cx="627.0" cy="292.5" rx="1.2" ry="6.4"/>
<ellipse cx="627.0" cy="285.5" rx="1.2" ry="6.4"/>
<ellipse cx="627.0" cy="278.5" rx="1.2" ry="6.4"/>
<ellipse cx="627.0" cy="271.5" rx="1.2" ry="6.4"/>
<ellipse cx="627.0" cy="264.5" rx="1.2" ry="6.4"/>
<ellipse cx="627.0" cy="257.5" rx="1.2" ry="6.4"/>
<ellipse cx="627.0" cy="250.5" rx="1.2" ry="6.4"/>
<ellipse cx="633.3" cy="418.5" rx="1.2" ry="6.4"/>
<ellipse cx="633.3" cy="411.5" rx="1.55" ry="6.4" transform="rotate(39 633.3 411.5)"/>
<ellipse cx="633.3" cy="404.5" rx="1.55" ry="6.4" transform="rotate(-61 633.3 404.5)"/>
<ellipse cx="633.3" cy="397.5" rx="1.55" ry="6.4" transform="rotate(-98 633.3 397.5)"/>
<ellipse cx="633.3" cy="390.5" rx="1.55" ry="6.4" transform="rotate(-105 633.3 390.5)"/>
<ellipse cx="633.3" cy="383.5" rx="1.55" ry="6.4" transform="rotate(-50 633.3 383.5)"/>
<ellipse cx="633.3" cy="376.5" rx="1.55" ry="6.4" transform="rotate(44 633.3 376.5)"/>
<ellipse cx="633.3" cy="369.5" rx="1.55" ry="6.4" transform="rotate(26 633.3 369.5)"/>
<ellipse cx="633.3" cy="362.5" rx="1.55" ry="6.4" transform="rotate(14 633.3 362.5)"/>
<ellipse cx="633.3" cy="355.5" rx="1.55" ry="6.4" transform="rotate(7 633.3 355.5)"/>
<ellipse cx="633.3" cy="348.5" rx="1.2" ry="6.4" transform="rotate(2 633.3 348.5)"/>
<ellipse cx="633.3" cy="341.5" rx="1.2" ry="6.4"/>
<ellipse cx="633.3" cy="334.5" rx="1.2" ry="6.4"/>
<ellipse cx="633.3" cy="327.5" rx="1.2" ry="6.4"/>
<ellipse cx="633.3" cy="320.5" rx="1.2" ry="6.4"/>
<ellipse cx="633.3" cy="313.5" rx="1.2" ry="6.4"/>
<ellipse cx="633.3" cy="306.5" rx="1.2" ry="6.4"/>
<ellipse cx="633.3" cy="299.5" rx="1.2" ry="6.4"/>
<ellipse cx="633.3" cy="292.5" rx="1.2" ry="6.4"/>
<ellipse cx="633.3" cy="285.5" rx="1.2" ry="6.4"/>
<ellipse cx="633.3" cy="278.5" rx="1.2" ry="6.4"/>
<ellipse cx="633.3" cy="271.5" rx="1.2" ry="6.4"/>
<ellipse cx="633.3" cy="264.5" rx="1.2" ry="6.4"/>
<ellipse cx="633.3" cy="257.5" rx="1.2" ry="6.4"/>
<ellipse cx="633.3" cy="250.5" rx="1.2" ry="6.4"/>
<ellipse cx="639.6" cy="418.5" rx="1.2" ry="6.4"/>
<ellipse cx="639.6" cy="411.5" rx="1.55" ry="6.4" transform="rotate(-100 639.6 411.5)"/>
<ellipse cx="639.6" cy="404.5" rx="1.55" ry="6.4" transform="rotate(-78 639.6 404.5)"/>
<ellipse cx="639.6" cy="397.5" rx="1.55" ry="6.4" transform="rotate(-69 639.6 397.5)"/>
<ellipse cx="639.6" cy="390.5" rx="1.55" ry="6.4" transform="rotate(-79 639.6 390.5)"/>
<ellipse cx="639.6" cy="383.5" rx="1.55" ry="6.4" transform="rotate(-34 639.6 383.5)"/>
<ellipse cx="639.6" cy="376.5" rx="1.55" ry="6.4" transform="rotate(50 639.6 376.5)"/>
<ellipse cx="639.6" cy="369.5" rx="1.55" ry="6.4" transform="rotate(28 639.6 369.5)"/>
<ellipse cx="639.6" cy="362.5" rx="1.55" ry="6.4" transform="rotate(15 639.6 362.5)"/>
<ellipse cx="639.6" cy="355.5" rx="1.55" ry="6.4" transform="rotate(8 639.6 355.5)"/>
<ellipse cx="639.6" cy="348.5" rx="1.2" ry="6.4" transform="rotate(2 639.6 348.5)"/>
<ellipse cx="639.6" cy="341.5" rx="1.2" ry="6.4"/>
<ellipse cx="639.6" cy="334.5" rx="1.2" ry="6.4"/>
<ellipse cx="639.6" cy="327.5" rx="1.2" ry="6.4"/>
<ellipse cx="639.6" cy="320.5" rx="1.2" ry="6.4"/>
<ellipse cx="639.6" cy="313.5" rx="1.2" ry="6.4"/>
<ellipse cx="639.6" cy="306.5" rx="1.2" ry="6.4"/>
<ellipse cx="639.6" cy="299.5" rx="1.2" ry="6.4"/>
<ellipse cx="639.6" cy="292.5" rx="1.2" ry="6.4"/>
<ellipse cx="639.6" cy="285.5" rx="1.2" ry="6.4"/>
<ellipse cx="639.6" cy="278.5" rx="1.2" ry="6.4"/>
<ellipse cx="639.6" cy="271.5" rx="1.2" ry="6.4"/>
<ellipse cx="639.6" cy="264.5" rx="1.2" ry="6.4"/>
<ellipse cx="639.6" cy="257.5" rx="1.2" ry="6.4"/>
<ellipse cx="639.6" cy="250.5" rx="1.2" ry="6.4"/>
<ellipse cx="645.9" cy="418.5" rx="1.2" ry="6.4"/>
<ellipse cx="645.9" cy="411.5" rx="1.55" ry="6.4" transform="rotate(-79 645.9 411.5)"/>
<ellipse cx="645.9" cy="404.5" rx="1.55" ry="6.4" transform="rotate(-55 645.9 404.5)"/>
<ellipse cx="645.9" cy="397.5" rx="1.55" ry="6.4" transform="rotate(-46 645.9 397.5)"/>
<ellipse cx="645.9" cy="390.5" rx="1.55" ry="6.4" transform="rotate(-57 645.9 390.5)"/>
<ellipse cx="645.9" cy="383.5" rx="1.55" ry="6.4" transform="rotate(-20 645.9 383.5)"/>
<ellipse cx="645.9" cy="376.5" rx="1.55" ry="6.4" transform="rotate(49 645.9 376.5)"/>
<ellipse cx="645.9" cy="369.5" rx="1.55" ry="6.4" transform="rotate(27 645.9 369.5)"/>
<ellipse cx="645.9" cy="362.5" rx="1.55" ry="6.4" transform="rotate(15 645.9 362.5)"/>
<ellipse cx="645.9" cy="355.5" rx="1.55" ry="6.4" transform="rotate(8 645.9 355.5)"/>
<ellipse cx="645.9" cy="348.5" rx="1.2" ry="6.4" transform="rotate(2 645.9 348.5)"/>
<ellipse cx="645.9" cy="341.5" rx="1.2" ry="6.4"/>
<ellipse cx="645.9" cy="334.5" rx="1.2" ry="6.4"/>
<ellipse cx="645.9" cy="327.5" rx="1.2" ry="6.4"/>
<ellipse cx="645.9" cy="320.5" rx="1.2" ry="6.4"/>
<ellipse cx="645.9" cy="313.5" rx="1.2" ry="6.4"/>
<ellipse cx="645.9" cy="306.5" rx="1.2" ry="6.4"/>
<ellipse cx="645.9" cy="299.5" rx="1.2" ry="6.4"/>
<ellipse cx="645.9" cy="292.5" rx="1.2" ry="6.4"/>
<ellipse cx="645.9" cy="285.5" rx="1.2" ry="6.4"/>
<ellipse cx="645.9" cy="278.5" rx="1.2" ry="6.4"/>
<ellipse cx="645.9" cy="271.5" rx="1.2" ry="6.4"/>
<ellipse cx="645.9" cy="264.5" rx="1.2" ry="6.4"/>
<ellipse cx="645.9" cy="257.5" rx="1.2" ry="6.4"/>
<ellipse cx="645.9" cy="250.5" rx="1.2" ry="6.4"/>
<ellipse cx="652.1" cy="418.5" rx="1.2" ry="6.4"/>
<ellipse cx="652.1" cy="411.5" rx="1.55" ry="6.4" transform="rotate(-60 652.1 411.5)"/>
<ellipse cx="652.1" cy="404.5" rx="1.55" ry="6.4" transform="rotate(-36 652.1 404.5)"/>
<ellipse cx="652.1" cy="397.5" rx="1.55" ry="6.4" transform="rotate(-26 652.1 397.5)"/>
<ellipse cx="652.1" cy="390.5" rx="1.55" ry="6.4" transform="rotate(-36 652.1 390.5)"/>
<ellipse cx="652.1" cy="383.5" rx="1.55" ry="6.4" transform="rotate(-8 652.1 383.5)"/>
<ellipse cx="652.1" cy="376.5" rx="1.55" ry="6.4" transform="rotate(48 652.1 376.5)"/>
<ellipse cx="652.1" cy="369.5" rx="1.55" ry="6.4" transform="rotate(26 652.1 369.5)"/>
<ellipse cx="652.1" cy="362.5" rx="1.55" ry="6.4" transform="rotate(15 652.1 362.5)"/>
<ellipse cx="652.1" cy="355.5" rx="1.55" ry="6.4" transform="rotate(9 652.1 355.5)"/>
<ellipse cx="652.1" cy="348.5" rx="1.2" ry="6.4" transform="rotate(2 652.1 348.5)"/>
<ellipse cx="652.1" cy="341.5" rx="1.2" ry="6.4"/>
<ellipse cx="652.1" cy="334.5" rx="1.2" ry="6.4"/>
<ellipse cx="652.1" cy="327.5" rx="1.2" ry="6.4"/>
<ellipse cx="652.1" cy="320.5" rx="1.2" ry="6.4"/>
<ellipse cx="652.1" cy="313.5" rx="1.2" ry="6.4"/>
<ellipse cx="652.1" cy="306.5" rx="1.2" ry="6.4"/>
<ellipse cx="652.1" cy="299.5" rx="1.2" ry="6.4"/>
<ellipse cx="652.1" cy="292.5" rx="1.2" ry="6.4"/>
<ellipse cx="652.1" cy="285.5" rx="1.2" ry="6.4"/>
<ellipse cx="652.1" cy="278.5" rx="1.2" ry="6.4"/>
<ellipse cx="652.1" cy="271.5" rx="1.2" ry="6.4"/>
<ellipse cx="652.1" cy="264.5" rx="1.2" ry="6.4"/>
<ellipse cx="652.1" cy="257.5" rx="1.2" ry="6.4"/>
<ellipse cx="652.1" cy="250.5" rx="1.2" ry="6.4"/>
<ellipse cx="658.4" cy="418.5" rx="1.2" ry="6.4"/>
<ellipse cx="658.4" cy="411.5" rx="1.2" ry="6.4"/>
<ellipse cx="658.4" cy="404.5" rx="1.2" ry="6.4"/>
<ellipse cx="658.4" cy="397.5" rx="1.2" ry="6.4"/>
<ellipse cx="658.4" cy="390.5" rx="1.2" ry="6.4"/>
<ellipse cx="658.4" cy="383.5" rx="1.2" ry="6.4"/>
<ellipse cx="658.4" cy="376.5" rx="1.2" ry="6.4"/>
<ellipse cx="658.4" cy="369.5" rx="1.2" ry="6.4"/>
<ellipse cx="658.4" cy="362.5" rx="1.2" ry="6.4"/>
<ellipse cx="658.4" cy="355.5" rx="1.2" ry="6.4"/>
<ellipse cx="658.4" cy="348.5" rx="1.2" ry="6.4"/>
<ellipse cx="658.4" cy="341.5" rx="1.2" ry="6.4"/>
<ellipse cx="658.4" cy="334.5" rx="1.2" ry="6.4"/>
<ellipse cx="658.4" cy="327.5" rx="1.2" ry="6.4"/>
<ellipse cx="658.4" cy="320.5" rx="1.2" ry="6.4"/>
<ellipse cx="658.4" cy="313.5" rx="1.2" ry="6.4"/>
<ellipse cx="658.4" cy="306.5" rx="1.2" ry="6.4"/>
<ellipse cx="658.4" cy="299.5" rx="1.2" ry="6.4"/>
<ellipse cx="658.4" cy="292.5" rx="1.2" ry="6.4"/>
<ellipse cx="658.4" cy="285.5" rx="1.2" ry="6.4"/>
<ellipse cx="658.4" cy="278.5" rx="1.2" ry="6.4"/>
<ellipse cx="658.4" cy="271.5" rx="1.2" ry="6.4"/>
<ellipse cx="658.4" cy="264.5" rx="1.2" ry="6.4"/>
<ellipse cx="658.4" cy="257.5" rx="1.2" ry="6.4"/>
<ellipse cx="658.4" cy="250.5" rx="1.2" ry="6.4"/>
<ellipse cx="664.7" cy="418.5" rx="1.2" ry="6.4"/>
<ellipse cx="664.7" cy="411.5" rx="1.2" ry="6.4"/>
<ellipse cx="664.7" cy="404.5" rx="1.2" ry="6.4"/>
<ellipse cx="664.7" cy="397.5" rx="1.2" ry="6.4"/>
<ellipse cx="664.7" cy="390.5" rx="1.2" ry="6.4"/>
<ellipse cx="664.7" cy="383.5" rx="1.2" ry="6.4"/>
<ellipse cx="664.7" cy="376.5" rx="1.2" ry="6.4"/>
<ellipse cx="664.7" cy="369.5" rx="1.2" ry="6.4"/>
<ellipse cx="664.7" cy="362.5" rx="1.2" ry="6.4"/>
<ellipse cx="664.7" cy="355.5" rx="1.2" ry="6.4"/>
<ellipse cx="664.7" cy="348.5" rx="1.2" ry="6.4"/>
<ellipse cx="664.7" cy="341.5" rx="1.2" ry="6.4"/>
<ellipse cx="664.7" cy="334.5" rx="1.2" ry="6.4"/>
<ellipse cx="664.7" cy="327.5" rx="1.2" ry="6.4"/>
<ellipse cx="664.7" cy="320.5" rx="1.2" ry="6.4"/>
<ellipse cx="664.7" cy="313.5" rx="1.2" ry="6.4"/>
<ellipse cx="664.7" cy="306.5" rx="1.2" ry="6.4"/>
<ellipse cx="664.7" cy="299.5" rx="1.2" ry="6.4"/>
<ellipse cx="664.7" cy="292.5" rx="1.2" ry="6.4"/>
<ellipse cx="664.7" cy="285.5" rx="1.2" ry="6.4"/>
<ellipse cx="664.7" cy="278.5" rx="1.2" ry="6.4"/>
<ellipse cx="664.7" cy="271.5" rx="1.2" ry="6.4"/>
<ellipse cx="664.7" cy="264.5" rx="1.2" ry="6.4"/>
<ellipse cx="664.7" cy="257.5" rx="1.2" ry="6.4"/>
<ellipse cx="664.7" cy="250.5" rx="1.2" ry="6.4"/>
<ellipse cx="671.0" cy="418.5" rx="1.2" ry="6.4"/>
<ellipse cx="671.0" cy="411.5" rx="1.55" ry="6.4" transform="rotate(60 671.0 411.5)"/>
<ellipse cx="671.0" cy="404.5" rx="1.55" ry="6.4" transform="rotate(36 671.0 404.5)"/>
<ellipse cx="671.0" cy="397.5" rx="1.55" ry="6.4" transform="rotate(26 671.0 397.5)"/>
<ellipse cx="671.0" cy="390.5" rx="1.55" ry="6.4" transform="rotate(36 671.0 390.5)"/>
<ellipse cx="671.0" cy="383.5" rx="1.55" ry="6.4" transform="rotate(8 671.0 383.5)"/>
<ellipse cx="671.0" cy="376.5" rx="1.55" ry="6.4" transform="rotate(-48 671.0 376.5)"/>
<ellipse cx="671.0" cy="369.5" rx="1.55" ry="6.4" transform="rotate(-26 671.0 369.5)"/>
<ellipse cx="671.0" cy="362.5" rx="1.55" ry="6.4" transform="rotate(-15 671.0 362.5)"/>
<ellipse cx="671.0" cy="355.5" rx="1.55" ry="6.4" transform="rotate(-9 671.0 355.5)"/>
<ellipse cx="671.0" cy="348.5" rx="1.2" ry="6.4" transform="rotate(-2 671.0 348.5)"/>
<ellipse cx="671.0" cy="341.5" rx="1.2" ry="6.4"/>
<ellipse cx="671.0" cy="334.5" rx="1.2" ry="6.4"/>
<ellipse cx="671.0" cy="327.5" rx="1.2" ry="6.4"/>
<ellipse cx="671.0" cy="320.5" rx="1.2" ry="6.4"/>
<ellipse cx="671.0" cy="313.5" rx="1.2" ry="6.4"/>
<ellipse cx="671.0" cy="306.5" rx="1.2" ry="6.4"/>
<ellipse cx="671.0" cy="299.5" rx="1.2" ry="6.4"/>
<ellipse cx="671.0" cy="292.5" rx="1.2" ry="6.4"/>
<ellipse cx="671.0" cy="285.5" rx="1.2" ry="6.4"/>
<ellipse cx="671.0" cy="278.5" rx="1.2" ry="6.4"/>
<ellipse cx="671.0" cy="271.5" rx="1.2" ry="6.4"/>
<ellipse cx="671.0" cy="264.5" rx="1.2" ry="6.4"/>
<ellipse cx="671.0" cy="257.5" rx="1.2" ry="6.4"/>
<ellipse cx="671.0" cy="250.5" rx="1.2" ry="6.4"/>
<ellipse cx="677.3" cy="418.5" rx="1.2" ry="6.4"/>
<ellipse cx="677.3" cy="411.5" rx="1.55" ry="6.4" transform="rotate(73 677.3 411.5)"/>
<ellipse cx="677.3" cy="404.5" rx="1.55" ry="6.4" transform="rotate(49 677.3 404.5)"/>
<ellipse cx="677.3" cy="397.5" rx="1.55" ry="6.4" transform="rotate(40 677.3 397.5)"/>
<ellipse cx="677.3" cy="390.5" rx="1.55" ry="6.4" transform="rotate(50 677.3 390.5)"/>
<ellipse cx="677.3" cy="383.5" rx="1.55" ry="6.4" transform="rotate(16 677.3 383.5)"/>
<ellipse cx="677.3" cy="376.5" rx="1.55" ry="6.4" transform="rotate(-49 677.3 376.5)"/>
<ellipse cx="677.3" cy="369.5" rx="1.55" ry="6.4" transform="rotate(-26 677.3 369.5)"/>
<ellipse cx="677.3" cy="362.5" rx="1.55" ry="6.4" transform="rotate(-15 677.3 362.5)"/>
<ellipse cx="677.3" cy="355.5" rx="1.55" ry="6.4" transform="rotate(-9 677.3 355.5)"/>
<ellipse cx="677.3" cy="348.5" rx="1.2" ry="6.4" transform="rotate(-2 677.3 348.5)"/>
<ellipse cx="677.3" cy="341.5" rx="1.2" ry="6.4"/>
<ellipse cx="677.3" cy="334.5" rx="1.2" ry="6.4"/>
<ellipse cx="677.3" cy="327.5" rx="1.2" ry="6.4"/>
<ellipse cx="677.3" cy="320.5" rx="1.2" ry="6.4"/>
<ellipse cx="677.3" cy="313.5" rx="1.2" ry="6.4"/>
<ellipse cx="677.3" cy="306.5" rx="1.2" ry="6.4"/>
<ellipse cx="677.3" cy="299.5" rx="1.2" ry="6.4"/>
<ellipse cx="677.3" cy="292.5" rx="1.2" ry="6.4"/>
<ellipse cx="677.3" cy="285.5" rx="1.2" ry="6.4"/>
<ellipse cx="677.3" cy="278.5" rx="1.2" ry="6.4"/>
<ellipse cx="677.3" cy="271.5" rx="1.2" ry="6.4"/>
<ellipse cx="677.3" cy="264.5" rx="1.2" ry="6.4"/>
<ellipse cx="677.3" cy="257.5" rx="1.2" ry="6.4"/>
<ellipse cx="677.3" cy="250.5" rx="1.2" ry="6.4"/>
<ellipse cx="683.6" cy="418.5" rx="1.2" ry="6.4"/>
<ellipse cx="683.6" cy="411.5" rx="1.55" ry="6.4" transform="rotate(94 683.6 411.5)"/>
<ellipse cx="683.6" cy="404.5" rx="1.55" ry="6.4" transform="rotate(71 683.6 404.5)"/>
<ellipse cx="683.6" cy="397.5" rx="1.55" ry="6.4" transform="rotate(62 683.6 397.5)"/>
<ellipse cx="683.6" cy="390.5" rx="1.55" ry="6.4" transform="rotate(73 683.6 390.5)"/>
<ellipse cx="683.6" cy="383.5" rx="1.55" ry="6.4" transform="rotate(30 683.6 383.5)"/>
<ellipse cx="683.6" cy="376.5" rx="1.55" ry="6.4" transform="rotate(-50 683.6 376.5)"/>
<ellipse cx="683.6" cy="369.5" rx="1.55" ry="6.4" transform="rotate(-28 683.6 369.5)"/>
<ellipse cx="683.6" cy="362.5" rx="1.55" ry="6.4" transform="rotate(-15 683.6 362.5)"/>
<ellipse cx="683.6" cy="355.5" rx="1.55" ry="6.4" transform="rotate(-8 683.6 355.5)"/>
<ellipse cx="683.6" cy="348.5" rx="1.2" ry="6.4" transform="rotate(-2 683.6 348.5)"/>
<ellipse cx="683.6" cy="341.5" rx="1.2" ry="6.4"/>
<ellipse cx="683.6" cy="334.5" rx="1.2" ry="6.4"/>
<ellipse cx="683.6" cy="327.5" rx="1.2" ry="6.4"/>
<ellipse cx="683.6" cy="320.5" rx="1.2" ry="6.4"/>
<ellipse cx="683.6" cy="313.5" rx="1.2" ry="6.4"/>
<ellipse cx="683.6" cy="306.5" rx="1.2" ry="6.4"/>
<ellipse cx="683.6" cy="299.5" rx="1.2" ry="6.4"/>
<ellipse cx="683.6" cy="292.5" rx="1.2" ry="6.4"/>
<ellipse cx="683.6" cy="285.5" rx="1.2" ry="6.4"/>
<ellipse cx="683.6" cy="278.5" rx="1.2" ry="6.4"/>
<ellipse cx="683.6" cy="271.5" rx="1.2" ry="6.4"/>
<ellipse cx="683.6" cy="264.5" rx="1.2" ry="6.4"/>
<ellipse cx="683.6" cy="257.5" rx="1.2" ry="6.4"/>
<ellipse cx="683.6" cy="250.5" rx="1.2" ry="6.4"/>
<ellipse cx="689.9" cy="418.5" rx="1.2" ry="6.4"/>
<ellipse cx="689.9" cy="411.5" rx="1.55" ry="6.4" transform="rotate(-44 689.9 411.5)"/>
<ellipse cx="689.9" cy="404.5" rx="1.55" ry="6.4" transform="rotate(52 689.9 404.5)"/>
<ellipse cx="689.9" cy="397.5" rx="1.55" ry="6.4" transform="rotate(90 689.9 397.5)"/>
<ellipse cx="689.9" cy="390.5" rx="1.55" ry="6.4" transform="rotate(97 689.9 390.5)"/>
<ellipse cx="689.9" cy="383.5" rx="1.55" ry="6.4" transform="rotate(45 689.9 383.5)"/>
<ellipse cx="689.9" cy="376.5" rx="1.55" ry="6.4" transform="rotate(-46 689.9 376.5)"/>
<ellipse cx="689.9" cy="369.5" rx="1.55" ry="6.4" transform="rotate(-27 689.9 369.5)"/>
<ellipse cx="689.9" cy="362.5" rx="1.55" ry="6.4" transform="rotate(-14 689.9 362.5)"/>
<ellipse cx="689.9" cy="355.5" rx="1.55" ry="6.4" transform="rotate(-8 689.9 355.5)"/>
<ellipse cx="689.9" cy="348.5" rx="1.2" ry="6.4" transform="rotate(-2 689.9 348.5)"/>
<ellipse cx="689.9" cy="341.5" rx="1.2" ry="6.4"/>
<ellipse cx="689.9" cy="334.5" rx="1.2" ry="6.4"/>
<ellipse cx="689.9" cy="327.5" rx="1.2" ry="6.4"/>
<ellipse cx="689.9" cy="320.5" rx="1.2" ry="6.4"/>
<ellipse cx="689.9" cy="313.5" rx="1.2" ry="6.4"/>
<ellipse cx="689.9" cy="306.5" rx="1.2" ry="6.4"/>
<ellipse cx="689.9" cy="299.5" rx="1.2" ry="6.4"/>
<ellipse cx="689.9" cy="292.5" rx="1.2" ry="6.4"/>
<ellipse cx="689.9" cy="285.5" rx="1.2" ry="6.4"/>
<ellipse cx="689.9" cy="278.5" rx="1.2" ry="6.4"/>
<ellipse cx="689.9" cy="271.5" rx="1.2" ry="6.4"/>
<ellipse cx="689.9" cy="264.5" rx="1.2" ry="6.4"/>
<ellipse cx="689.9" cy="257.5" rx="1.2" ry="6.4"/>
<ellipse cx="689.9" cy="250.5" rx="1.2" ry="6.4"/>
<ellipse cx="696.2" cy="418.5" rx="1.2" ry="6.4"/>
<ellipse cx="696.2" cy="411.5" rx="1.55" ry="6.4" transform="rotate(-27 696.2 411.5)"/>
<ellipse cx="696.2" cy="404.5" rx="1.55" ry="6.4" transform="rotate(81 696.2 404.5)"/>
<ellipse cx="696.2" cy="397.5" rx="1.55" ry="6.4" transform="rotate(120 696.2 397.5)"/>
<ellipse cx="696.2" cy="390.5" rx="1.55" ry="6.4" transform="rotate(123 696.2 390.5)"/>
<ellipse cx="696.2" cy="383.5" rx="1.55" ry="6.4" transform="rotate(62 696.2 383.5)"/>
<ellipse cx="696.2" cy="376.5" rx="1.55" ry="6.4" transform="rotate(-39 696.2 376.5)"/>
<ellipse cx="696.2" cy="369.5" rx="1.55" ry="6.4" transform="rotate(-24 696.2 369.5)"/>
<ellipse cx="696.2" cy="362.5" rx="1.55" ry="6.4" transform="rotate(-13 696.2 362.5)"/>
<ellipse cx="696.2" cy="355.5" rx="1.55" ry="6.4" transform="rotate(-7 696.2 355.5)"/>
<ellipse cx="696.2" cy="348.5" rx="1.2" ry="6.4" transform="rotate(-2 696.2 348.5)"/>
<ellipse cx="696.2" cy="341.5" rx="1.2" ry="6.4"/>
<ellipse cx="696.2" cy="334.5" rx="1.2" ry="6.4"/>
<ellipse cx="696.2" cy="327.5" rx="1.2" ry="6.4"/>
<ellipse cx="696.2" cy="320.5" rx="1.2" ry="6.4"/>
<ellipse cx="696.2" cy="313.5" rx="1.2" ry="6.4"/>
<ellipse cx="696.2" cy="306.5" rx="1.2" ry="6.4"/>
<ellipse cx="696.2" cy="299.5" rx="1.2" ry="6.4"/>
<ellipse cx="696.2" cy="292.5" rx="1.2" ry="6.4"/>
<ellipse cx="696.2" cy="285.5" rx="1.2" ry="6.4"/>
<ellipse cx="696.2" cy="278.5" rx="1.2" ry="6.4"/>
<ellipse cx="696.2" cy="271.5" rx="1.2" ry="6.4"/>
<ellipse cx="696.2" cy="264.5" rx="1.2" ry="6.4"/>
<ellipse cx="696.2" cy="257.5" rx="1.2" ry="6.4"/>
<ellipse cx="696.2" cy="250.5" rx="1.2" ry="6.4"/>
<ellipse cx="702.5" cy="418.5" rx="1.2" ry="6.4"/>
<ellipse cx="702.5" cy="411.5" rx="1.55" ry="6.4" transform="rotate(-20 702.5 411.5)"/>
<ellipse cx="702.5" cy="404.5" rx="1.55" ry="6.4" transform="rotate(-43 702.5 404.5)"/>
<ellipse cx="702.5" cy="397.5" rx="1.55" ry="6.4" transform="rotate(-49 702.5 397.5)"/>
<ellipse cx="702.5" cy="390.5" rx="1.55" ry="6.4" transform="rotate(-48 702.5 390.5)"/>
<ellipse cx="702.5" cy="383.5" rx="1.55" ry="6.4" transform="rotate(-44 702.5 383.5)"/>
<ellipse cx="702.5" cy="376.5" rx="1.55" ry="6.4" transform="rotate(-36 702.5 376.5)"/>
<ellipse cx="702.5" cy="369.5" rx="1.55" ry="6.4" transform="rotate(-23 702.5 369.5)"/>
<ellipse cx="702.5" cy="362.5" rx="1.55" ry="6.4" transform="rotate(-12 702.5 362.5)"/>
<ellipse cx="702.5" cy="355.5" rx="1.55" ry="6.4" transform="rotate(-7 702.5 355.5)"/>
<ellipse cx="702.5" cy="348.5" rx="1.2" ry="6.4" transform="rotate(-2 702.5 348.5)"/>
<ellipse cx="702.5" cy="341.5" rx="1.2" ry="6.4"/>
<ellipse cx="702.5" cy="334.5" rx="1.2" ry="6.4"/>
<ellipse cx="702.5" cy="327.5" rx="1.2" ry="6.4"/>
<ellipse cx="702.5" cy="320.5" rx="1.2" ry="6.4"/>
<ellipse cx="702.5" cy="313.5" rx="1.2" ry="6.4"/>
<ellipse cx="702.5" cy="306.5" rx="1.2" ry="6.4"/>
<ellipse cx="702.5" cy="299.5" rx="1.2" ry="6.4"/>
<ellipse cx="702.5" cy="292.5" rx="1.2" ry="6.4"/>
<ellipse cx="702.5" cy="285.5" rx="1.2" ry="6.4"/>
<ellipse cx="702.5" cy="278.5" rx="1.2" ry="6.4"/>
<ellipse cx="702.5" cy="271.5" rx="1.2" ry="6.4"/>
<ellipse cx="702.5" cy="264.5" rx="1.2" ry="6.4"/>
<ellipse cx="702.5" cy="257.5" rx="1.2" ry="6.4"/>
<ellipse cx="702.5" cy="250.5" rx="1.2" ry="6.4"/>
<ellipse cx="708.8" cy="418.5" rx="1.2" ry="6.4"/>
<ellipse cx="708.8" cy="411.5" rx="1.2" ry="6.4"/>
<ellipse cx="708.8" cy="404.5" rx="1.2" ry="6.4"/>
<ellipse cx="708.8" cy="397.5" rx="1.2" ry="6.4"/>
<ellipse cx="708.8" cy="390.5" rx="1.2" ry="6.4"/>
<ellipse cx="708.8" cy="383.5" rx="1.2" ry="6.4"/>
<ellipse cx="708.8" cy="376.5" rx="1.2" ry="6.4"/>
<ellipse cx="708.8" cy="369.5" rx="1.2" ry="6.4"/>
<ellipse cx="708.8" cy="362.5" rx="1.2" ry="6.4"/>
<ellipse cx="708.8" cy="355.5" rx="1.2" ry="6.4"/>
<ellipse cx="708.8" cy="348.5" rx="1.2" ry="6.4"/>
<ellipse cx="708.8" cy="341.5" rx="1.2" ry="6.4"/>
<ellipse cx="708.8" cy="334.5" rx="1.2" ry="6.4"/>
<ellipse cx="708.8" cy="327.5" rx="1.2" ry="6.4"/>
<ellipse cx="708.8" cy="320.5" rx="1.2" ry="6.4"/>
<ellipse cx="708.8" cy="313.5" rx="1.2" ry="6.4"/>
<ellipse cx="708.8" cy="306.5" rx="1.2" ry="6.4"/>
<ellipse cx="708.8" cy="299.5" rx="1.2" ry="6.4"/>
<ellipse cx="708.8" cy="292.5" rx="1.2" ry="6.4"/>
<ellipse cx="708.8" cy="285.5" rx="1.2" ry="6.4"/>
<ellipse cx="708.8" cy="278.5" rx="1.2" ry="6.4"/>
<ellipse cx="708.8" cy="271.5" rx="1.2" ry="6.4"/>
<ellipse cx="708.8" cy="264.5" rx="1.2" ry="6.4"/>
<ellipse cx="708.8" cy="257.5" rx="1.2" ry="6.4"/>
<ellipse cx="708.8" cy="250.5" rx="1.2" ry="6.4"/>
<ellipse cx="715.0" cy="418.5" rx="1.2" ry="6.4"/>
<ellipse cx="715.0" cy="411.5" rx="1.2" ry="6.4"/>
<ellipse cx="715.0" cy="404.5" rx="1.2" ry="6.4"/>
<ellipse cx="715.0" cy="397.5" rx="1.2" ry="6.4"/>
<ellipse cx="715.0" cy="390.5" rx="1.2" ry="6.4"/>
<ellipse cx="715.0" cy="383.5" rx="1.2" ry="6.4"/>
<ellipse cx="715.0" cy="376.5" rx="1.2" ry="6.4"/>
<ellipse cx="715.0" cy="369.5" rx="1.2" ry="6.4"/>
<ellipse cx="715.0" cy="362.5" rx="1.2" ry="6.4"/>
<ellipse cx="715.0" cy="355.5" rx="1.2" ry="6.4"/>
<ellipse cx="715.0" cy="348.5" rx="1.2" ry="6.4"/>
<ellipse cx="715.0" cy="341.5" rx="1.2" ry="6.4"/>
<ellipse cx="715.0" cy="334.5" rx="1.2" ry="6.4"/>
<ellipse cx="715.0" cy="327.5" rx="1.2" ry="6.4"/>
<ellipse cx="715.0" cy="320.5" rx="1.2" ry="6.4"/>
<ellipse cx="715.0" cy="313.5" rx="1.2" ry="6.4"/>
<ellipse cx="715.0" cy="306.5" rx="1.2" ry="6.4"/>
<ellipse cx="715.0" cy="299.5" rx="1.2" ry="6.4"/>
<ellipse cx="715.0" cy="292.5" rx="1.2" ry="6.4"/>
<ellipse cx="715.0" cy="285.5" rx="1.2" ry="6.4"/>
<ellipse cx="715.0" cy="278.5" rx="1.2" ry="6.4"/>
<ellipse cx="715.0" cy="271.5" rx="1.2" ry="6.4"/>
<ellipse cx="715.0" cy="264.5" rx="1.2" ry="6.4"/>
<ellipse cx="715.0" cy="257.5" rx="1.2" ry="6.4"/>
<ellipse cx="715.0" cy="250.5" rx="1.2" ry="6.4"/>
<ellipse cx="721.3" cy="418.5" rx="1.2" ry="6.4"/>
<ellipse cx="721.3" cy="411.5" rx="1.2" ry="6.4"/>
<ellipse cx="721.3" cy="404.5" rx="1.2" ry="6.4"/>
<ellipse cx="721.3" cy="397.5" rx="1.2" ry="6.4"/>
<ellipse cx="721.3" cy="390.5" rx="1.2" ry="6.4"/>
<ellipse cx="721.3" cy="383.5" rx="1.2" ry="6.4"/>
<ellipse cx="721.3" cy="376.5" rx="1.2" ry="6.4"/>
<ellipse cx="721.3" cy="369.5" rx="1.2" ry="6.4"/>
<ellipse cx="721.3" cy="362.5" rx="1.2" ry="6.4"/>
<ellipse cx="721.3" cy="355.5" rx="1.2" ry="6.4"/>
<ellipse cx="721.3" cy="348.5" rx="1.2" ry="6.4"/>
<ellipse cx="721.3" cy="341.5" rx="1.2" ry="6.4"/>
<ellipse cx="721.3" cy="334.5" rx="1.2" ry="6.4"/>
<ellipse cx="721.3" cy="327.5" rx="1.2" ry="6.4"/>
<ellipse cx="721.3" cy="320.5" rx="1.2" ry="6.4"/>
<ellipse cx="721.3" cy="313.5" rx="1.2" ry="6.4"/>
<ellipse cx="721.3" cy="306.5" rx="1.2" ry="6.4"/>
<ellipse cx="721.3" cy="299.5" rx="1.2" ry="6.4"/>
<ellipse cx="721.3" cy="292.5" rx="1.2" ry="6.4"/>
<ellipse cx="721.3" cy="285.5" rx="1.2" ry="6.4"/>
<ellipse cx="721.3" cy="278.5" rx="1.2" ry="6.4"/>
<ellipse cx="721.3" cy="271.5" rx="1.2" ry="6.4"/>
<ellipse cx="721.3" cy="264.5" rx="1.2" ry="6.4"/>
<ellipse cx="721.3" cy="257.5" rx="1.2" ry="6.4"/>
<ellipse cx="721.3" cy="250.5" rx="1.2" ry="6.4"/>
<ellipse cx="727.6" cy="418.5" rx="1.2" ry="6.4"/>
<ellipse cx="727.6" cy="411.5" rx="1.55" ry="6.4" transform="rotate(20 727.6 411.5)"/>
<ellipse cx="727.6" cy="404.5" rx="1.55" ry="6.4" transform="rotate(43 727.6 404.5)"/>
<ellipse cx="727.6" cy="397.5" rx="1.55" ry="6.4" transform="rotate(49 727.6 397.5)"/>
<ellipse cx="727.6" cy="390.5" rx="1.55" ry="6.4" transform="rotate(48 727.6 390.5)"/>
<ellipse cx="727.6" cy="383.5" rx="1.55" ry="6.4" transform="rotate(44 727.6 383.5)"/>
<ellipse cx="727.6" cy="376.5" rx="1.55" ry="6.4" transform="rotate(36 727.6 376.5)"/>
<ellipse cx="727.6" cy="369.5" rx="1.55" ry="6.4" transform="rotate(23 727.6 369.5)"/>
<ellipse cx="727.6" cy="362.5" rx="1.55" ry="6.4" transform="rotate(12 727.6 362.5)"/>
<ellipse cx="727.6" cy="355.5" rx="1.55" ry="6.4" transform="rotate(7 727.6 355.5)"/>
<ellipse cx="727.6" cy="348.5" rx="1.2" ry="6.4" transform="rotate(2 727.6 348.5)"/>
<ellipse cx="727.6" cy="341.5" rx="1.2" ry="6.4"/>
<ellipse cx="727.6" cy="334.5" rx="1.2" ry="6.4"/>
<ellipse cx="727.6" cy="327.5" rx="1.2" ry="6.4"/>
<ellipse cx="727.6" cy="320.5" rx="1.2" ry="6.4"/>
<ellipse cx="727.6" cy="313.5" rx="1.2" ry="6.4"/>
<ellipse cx="727.6" cy="306.5" rx="1.2" ry="6.4"/>
<ellipse cx="727.6" cy="299.5" rx="1.2" ry="6.4"/>
<ellipse cx="727.6" cy="292.5" rx="1.2" ry="6.4"/>
<ellipse cx="727.6" cy="285.5" rx="1.2" ry="6.4"/>
<ellipse cx="727.6" cy="278.5" rx="1.2" ry="6.4"/>
<ellipse cx="727.6" cy="271.5" rx="1.2" ry="6.4"/>
<ellipse cx="727.6" cy="264.5" rx="1.2" ry="6.4"/>
<ellipse cx="727.6" cy="257.5" rx="1.2" ry="6.4"/>
<ellipse cx="727.6" cy="250.5" rx="1.2" ry="6.4"/>
<ellipse cx="733.9" cy="418.5" rx="1.2" ry="6.4"/>
<ellipse cx="733.9" cy="411.5" rx="1.55" ry="6.4" transform="rotate(27 733.9 411.5)"/>
<ellipse cx="733.9" cy="404.5" rx="1.55" ry="6.4" transform="rotate(-81 733.9 404.5)"/>
<ellipse cx="733.9" cy="397.5" rx="1.55" ry="6.4" transform="rotate(-120 733.9 397.5)"/>
<ellipse cx="733.9" cy="390.5" rx="1.55" ry="6.4" transform="rotate(-123 733.9 390.5)"/>
<ellipse cx="733.9" cy="383.5" rx="1.55" ry="6.4" transform="rotate(-62 733.9 383.5)"/>
<ellipse cx="733.9" cy="376.5" rx="1.55" ry="6.4" transform="rotate(39 733.9 376.5)"/>
<ellipse cx="733.9" cy="369.5" rx="1.55" ry="6.4" transform="rotate(24 733.9 369.5)"/>
<ellipse cx="733.9" cy="362.5" rx="1.55" ry="6.4" transform="rotate(13 733.9 362.5)"/>
<ellipse cx="733.9" cy="355.5" rx="1.55" ry="6.4" transform="rotate(7 733.9 355.5)"/>
<ellipse cx="733.9" cy="348.5" rx="1.2" ry="6.4" transform="rotate(2 733.9 348.5)"/>
<ellipse cx="733.9" cy="341.5" rx="1.2" ry="6.4"/>
<ellipse cx="733.9" cy="334.5" rx="1.2" ry="6.4"/>
<ellipse cx="733.9" cy="327.5" rx="1.2" ry="6.4"/>
<ellipse cx="733.9" cy="320.5" rx="1.2" ry="6.4"/>
<ellipse cx="733.9" cy="313.5" rx="1.2" ry="6.4"/>
<ellipse cx="733.9" cy="306.5" rx="1.2" ry="6.4"/>
<ellipse cx="733.9" cy="299.5" rx="1.2" ry="6.4"/>
<ellipse cx="733.9" cy="292.5" rx="1.2" ry="6.4"/>
<ellipse cx="733.9" cy="285.5" rx="1.2" ry="6.4"/>
<ellipse cx="733.9" cy="278.5" rx="1.2" ry="6.4"/>
<ellipse cx="733.9" cy="271.5" rx="1.2" ry="6.4"/>
<ellipse cx="733.9" cy="264.5" rx="1.2" ry="6.4"/>
<ellipse cx="733.9" cy="257.5" rx="1.2" ry="6.4"/>
<ellipse cx="733.9" cy="250.5" rx="1.2" ry="6.4"/>
<ellipse cx="740.2" cy="418.5" rx="1.2" ry="6.4"/>
<ellipse cx="740.2" cy="411.5" rx="1.55" ry="6.4" transform="rotate(45 740.2 411.5)"/>
<ellipse cx="740.2" cy="404.5" rx="1.55" ry="6.4" transform="rotate(-52 740.2 404.5)"/>
<ellipse cx="740.2" cy="397.5" rx="1.55" ry="6.4" transform="rotate(-89 740.2 397.5)"/>
<ellipse cx="740.2" cy="390.5" rx="1.55" ry="6.4" transform="rotate(-97 740.2 390.5)"/>
<ellipse cx="740.2" cy="383.5" rx="1.55" ry="6.4" transform="rotate(-45 740.2 383.5)"/>
<ellipse cx="740.2" cy="376.5" rx="1.55" ry="6.4" transform="rotate(46 740.2 376.5)"/>
<ellipse cx="740.2" cy="369.5" rx="1.55" ry="6.4" transform="rotate(27 740.2 369.5)"/>
<ellipse cx="740.2" cy="362.5" rx="1.55" ry="6.4" transform="rotate(14 740.2 362.5)"/>
<ellipse cx="740.2" cy="355.5" rx="1.55" ry="6.4" transform="rotate(8 740.2 355.5)"/>
<ellipse cx="740.2" cy="348.5" rx="1.2" ry="6.4" transform="rotate(2 740.2 348.5)"/>
<ellipse cx="740.2" cy="341.5" rx="1.2" ry="6.4"/>
<ellipse cx="740.2" cy="334.5" rx="1.2" ry="6.4"/>
<ellipse cx="740.2" cy="327.5" rx="1.2" ry="6.4"/>
<ellipse cx="740.2" cy="320.5" rx="1.2" ry="6.4"/>
<ellipse cx="740.2" cy="313.5" rx="1.2" ry="6.4"/>
<ellipse cx="740.2" cy="306.5" rx="1.2" ry="6.4"/>
<ellipse cx="740.2" cy="299.5" rx="1.2" ry="6.4"/>
<ellipse cx="740.2" cy="292.5" rx="1.2" ry="6.4"/>
<ellipse cx="740.2" cy="285.5" rx="1.2" ry="6.4"/>
<ellipse cx="740.2" cy="278.5" rx="1.2" ry="6.4"/>
<ellipse cx="740.2" cy="271.5" rx="1.2" ry="6.4"/>
<ellipse cx="740.2" cy="264.5" rx="1.2" ry="6.4"/>
<ellipse cx="740.2" cy="257.5" rx="1.2" ry="6.4"/>
<ellipse cx="740.2" cy="250.5" rx="1.2" ry="6.4"/>
<ellipse cx="746.5" cy="418.5" rx="1.2" ry="6.4"/>
<ellipse cx="746.5" cy="411.5" rx="1.55" ry="6.4" transform="rotate(-94 746.5 411.5)"/>
<ellipse cx="746.5" cy="404.5" rx="1.55" ry="6.4" transform="rotate(-71 746.5 404.5)"/>
<ellipse cx="746.5" cy="397.5" rx="1.55" ry="6.4" transform="rotate(-62 746.5 397.5)"/>
<ellipse cx="746.5" cy="390.5" rx="1.55" ry="6.4" transform="rotate(-72 746.5 390.5)"/>
<ellipse cx="746.5" cy="383.5" rx="1.55" ry="6.4" transform="rotate(-29 746.5 383.5)"/>
<ellipse cx="746.5" cy="376.5" rx="1.55" ry="6.4" transform="rotate(50 746.5 376.5)"/>
<ellipse cx="746.5" cy="369.5" rx="1.55" ry="6.4" transform="rotate(28 746.5 369.5)"/>
<ellipse cx="746.5" cy="362.5" rx="1.55" ry="6.4" transform="rotate(15 746.5 362.5)"/>
<ellipse cx="746.5" cy="355.5" rx="1.55" ry="6.4" transform="rotate(8 746.5 355.5)"/>
<ellipse cx="746.5" cy="348.5" rx="1.2" ry="6.4" transform="rotate(2 746.5 348.5)"/>
<ellipse cx="746.5" cy="341.5" rx="1.2" ry="6.4"/>
<ellipse cx="746.5" cy="334.5" rx="1.2" ry="6.4"/>
<ellipse cx="746.5" cy="327.5" rx="1.2" ry="6.4"/>
<ellipse cx="746.5" cy="320.5" rx="1.2" ry="6.4"/>
<ellipse cx="746.5" cy="313.5" rx="1.2" ry="6.4"/>
<ellipse cx="746.5" cy="306.5" rx="1.2" ry="6.4"/>
<ellipse cx="746.5" cy="299.5" rx="1.2" ry="6.4"/>
<ellipse cx="746.5" cy="292.5" rx="1.2" ry="6.4"/>
<ellipse cx="746.5" cy="285.5" rx="1.2" ry="6.4"/>
<ellipse cx="746.5" cy="278.5" rx="1.2" ry="6.4"/>
<ellipse cx="746.5" cy="271.5" rx="1.2" ry="6.4"/>
<ellipse cx="746.5" cy="264.5" rx="1.2" ry="6.4"/>
<ellipse cx="746.5" cy="257.5" rx="1.2" ry="6.4"/>
<ellipse cx="746.5" cy="250.5" rx="1.2" ry="6.4"/>
<ellipse cx="752.8" cy="418.5" rx="1.2" ry="6.4"/>
<ellipse cx="752.8" cy="411.5" rx="1.55" ry="6.4" transform="rotate(-72 752.8 411.5)"/>
<ellipse cx="752.8" cy="404.5" rx="1.55" ry="6.4" transform="rotate(-49 752.8 404.5)"/>
<ellipse cx="752.8" cy="397.5" rx="1.55" ry="6.4" transform="rotate(-39 752.8 397.5)"/>
<ellipse cx="752.8" cy="390.5" rx="1.55" ry="6.4" transform="rotate(-50 752.8 390.5)"/>
<ellipse cx="752.8" cy="383.5" rx="1.55" ry="6.4" transform="rotate(-16 752.8 383.5)"/>
<ellipse cx="752.8" cy="376.5" rx="1.55" ry="6.4" transform="rotate(49 752.8 376.5)"/>
<ellipse cx="752.8" cy="369.5" rx="1.55" ry="6.4" transform="rotate(26 752.8 369.5)"/>
<ellipse cx="752.8" cy="362.5" rx="1.55" ry="6.4" transform="rotate(15 752.8 362.5)"/>
<ellipse cx="752.8" cy="355.5" rx="1.55" ry="6.4" transform="rotate(9 752.8 355.5)"/>
<ellipse cx="752.8" cy="348.5" rx="1.2" ry="6.4" transform="rotate(2 752.8 348.5)"/>
<ellipse cx="752.8" cy="341.5" rx="1.2" ry="6.4"/>
<ellipse cx="752.8" cy="334.5" rx="1.2" ry="6.4"/>
<ellipse cx="752.8" cy="327.5" rx="1.2" ry="6.4"/>
<ellipse cx="752.8" cy="320.5" rx="1.2" ry="6.4"/>
<ellipse cx="752.8" cy="313.5" rx="1.2" ry="6.4"/>
<ellipse cx="752.8" cy="306.5" rx="1.2" ry="6.4"/>
<ellipse cx="752.8" cy="299.5" rx="1.2" ry="6.4"/>
<ellipse cx="752.8" cy="292.5" rx="1.2" ry="6.4"/>
<ellipse cx="752.8" cy="285.5" rx="1.2" ry="6.4"/>
<ellipse cx="752.8" cy="278.5" rx="1.2" ry="6.4"/>
<ellipse cx="752.8" cy="271.5" rx="1.2" ry="6.4"/>
<ellipse cx="752.8" cy="264.5" rx="1.2" ry="6.4"/>
<ellipse cx="752.8" cy="257.5" rx="1.2" ry="6.4"/>
<ellipse cx="752.8" cy="250.5" rx="1.2" ry="6.4"/>
<ellipse cx="759.1" cy="418.5" rx="1.2" ry="6.4"/>
<ellipse cx="759.1" cy="411.5" rx="1.55" ry="6.4" transform="rotate(-60 759.1 411.5)"/>
<ellipse cx="759.1" cy="404.5" rx="1.55" ry="6.4" transform="rotate(-36 759.1 404.5)"/>
<ellipse cx="759.1" cy="397.5" rx="1.55" ry="6.4" transform="rotate(-26 759.1 397.5)"/>
<ellipse cx="759.1" cy="390.5" rx="1.55" ry="6.4" transform="rotate(-36 759.1 390.5)"/>
<ellipse cx="759.1" cy="383.5" rx="1.55" ry="6.4" transform="rotate(-8 759.1 383.5)"/>
<ellipse cx="759.1" cy="376.5" rx="1.55" ry="6.4" transform="rotate(48 759.1 376.5)"/>
<ellipse cx="759.1" cy="369.5" rx="1.55" ry="6.4" transform="rotate(26 759.1 369.5)"/>
<ellipse cx="759.1" cy="362.5" rx="1.55" ry="6.4" transform="rotate(15 759.1 362.5)"/>
<ellipse cx="759.1" cy="355.5" rx="1.55" ry="6.4" transform="rotate(9 759.1 355.5)"/>
<ellipse cx="759.1" cy="348.5" rx="1.2" ry="6.4" transform="rotate(2 759.1 348.5)"/>
<ellipse cx="759.1" cy="341.5" rx="1.2" ry="6.4"/>
<ellipse cx="759.1" cy="334.5" rx="1.2" ry="6.4"/>
<ellipse cx="759.1" cy="327.5" rx="1.2" ry="6.4"/>
<ellipse cx="759.1" cy="320.5" rx="1.2" ry="6.4"/>
<ellipse cx="759.1" cy="313.5" rx="1.2" ry="6.4"/>
<ellipse cx="759.1" cy="306.5" rx="1.2" ry="6.4"/>
<ellipse cx="759.1" cy="299.5" rx="1.2" ry="6.4"/>
<ellipse cx="759.1" cy="292.5" rx="1.2" ry="6.4"/>
<ellipse cx="759.1" cy="285.5" rx="1.2" ry="6.4"/>
<ellipse cx="759.1" cy="278.5" rx="1.2" ry="6.4"/>
<ellipse cx="759.1" cy="271.5" rx="1.2" ry="6.4"/>
<ellipse cx="759.1" cy="264.5" rx="1.2" ry="6.4"/>
<ellipse cx="759.1" cy="257.5" rx="1.2" ry="6.4"/>
<ellipse cx="759.1" cy="250.5" rx="1.2" ry="6.4"/>
<ellipse cx="765.4" cy="418.5" rx="1.2" ry="6.4"/>
<ellipse cx="765.4" cy="411.5" rx="1.2" ry="6.4"/>
<ellipse cx="765.4" cy="404.5" rx="1.2" ry="6.4"/>
<ellipse cx="765.4" cy="397.5" rx="1.2" ry="6.4"/>
<ellipse cx="765.4" cy="390.5" rx="1.2" ry="6.4"/>
<ellipse cx="765.4" cy="383.5" rx="1.2" ry="6.4"/>
<ellipse cx="765.4" cy="376.5" rx="1.2" ry="6.4"/>
<ellipse cx="765.4" cy="369.5" rx="1.2" ry="6.4"/>
<ellipse cx="765.4" cy="362.5" rx="1.2" ry="6.4"/>
<ellipse cx="765.4" cy="355.5" rx="1.2" ry="6.4"/>
<ellipse cx="765.4" cy="348.5" rx="1.2" ry="6.4"/>
<ellipse cx="765.4" cy="341.5" rx="1.2" ry="6.4"/>
<ellipse cx="765.4" cy="334.5" rx="1.2" ry="6.4"/>
<ellipse cx="765.4" cy="327.5" rx="1.2" ry="6.4"/>
<ellipse cx="765.4" cy="320.5" rx="1.2" ry="6.4"/>
<ellipse cx="765.4" cy="313.5" rx="1.2" ry="6.4"/>
<ellipse cx="765.4" cy="306.5" rx="1.2" ry="6.4"/>
<ellipse cx="765.4" cy="299.5" rx="1.2" ry="6.4"/>
<ellipse cx="765.4" cy="292.5" rx="1.2" ry="6.4"/>
<ellipse cx="765.4" cy="285.5" rx="1.2" ry="6.4"/>
<ellipse cx="765.4" cy="278.5" rx="1.2" ry="6.4"/>
<ellipse cx="765.4" cy="271.5" rx="1.2" ry="6.4"/>
<ellipse cx="765.4" cy="264.5" rx="1.2" ry="6.4"/>
<ellipse cx="765.4" cy="257.5" rx="1.2" ry="6.4"/>
<ellipse cx="765.4" cy="250.5" rx="1.2" ry="6.4"/>
</g>
</g>
<rect x="553.9" y="239.9" width="216.30000000000007" height="187.1" fill="none" stroke="#111" stroke-width="1.8"/>
<rect x="558.3" y="243.5" width="38" height="45.5" fill="#fff"/>
<text x="577.3" y="275.9" font-family="Liberation Sans, sans-serif" font-size="28" text-anchor="middle">e</text>
<line x1="81.5" y1="428.6" x2="81.5" y2="658" stroke="#333" stroke-width="1.4"/>
<line x1="299.3" y1="428.6" x2="299.3" y2="658" stroke="#333" stroke-width="1.4"/>
<line x1="81.5" y1="428.6" x2="299.3" y2="428.6" stroke="#aaa" stroke-width="1.2"/>
<line x1="80.8" y1="658" x2="300.0" y2="658" stroke="#111" stroke-width="1.8"/>
<g stroke="#222" stroke-width="1.1"><line x1="81.5" y1="619.8" x2="86.5" y2="619.8"/><line x1="294.3" y1="619.8" x2="299.3" y2="619.8"/><line x1="81.5" y1="581.5" x2="86.5" y2="581.5"/><line x1="294.3" y1="581.5" x2="299.3" y2="581.5"/><line x1="81.5" y1="543.3" x2="86.5" y2="543.3"/><line x1="294.3" y1="543.3" x2="299.3" y2="543.3"/><line x1="81.5" y1="505.1" x2="86.5" y2="505.1"/><line x1="294.3" y1="505.1" x2="299.3" y2="505.1"/><line x1="81.5" y1="466.8" x2="86.5" y2="466.8"/><line x1="294.3" y1="466.8" x2="299.3" y2="466.8"/><line x1="81.5" y1="658" x2="81.5" y2="652"/><line x1="81.5" y1="428.6" x2="81.5" y2="434.6"/><line x1="97.5" y1="658" x2="97.5" y2="654"/><line x1="97.5" y1="428.6" x2="97.5" y2="432.6"/><line x1="113.4" y1="658" x2="113.4" y2="652"/><line x1="113.4" y1="428.6" x2="113.4" y2="434.6"/><line x1="129.3" y1="658" x2="129.3" y2="654"/><line x1="129.3" y1="428.6" x2="129.3" y2="432.6"/><line x1="145.3" y1="658" x2="145.3" y2="652"/><line x1="145.3" y1="428.6" x2="145.3" y2="434.6"/><line x1="161.2" y1="658" x2="161.2" y2="654"/><line x1="161.2" y1="428.6" x2="161.2" y2="432.6"/><line x1="177.2" y1="658" x2="177.2" y2="652"/><line x1="177.2" y1="428.6" x2="177.2" y2="434.6"/><line x1="193.1" y1="658" x2="193.1" y2="654"/><line x1="193.1" y1="428.6" x2="193.1" y2="432.6"/><line x1="209.1" y1="658" x2="209.1" y2="652"/><line x1="209.1" y1="428.6" x2="209.1" y2="434.6"/><line x1="225.0" y1="658" x2="225.0" y2="654"/><line x1="225.0" y1="428.6" x2="225.0" y2="432.6"/><line x1="241.0" y1="658" x2="241.0" y2="652"/><line x1="241.0" y1="428.6" x2="241.0" y2="434.6"/><line x1="256.9" y1="658" x2="256.9" y2="654"/><line x1="256.9" y1="428.6" x2="256.9" y2="432.6"/><line x1="272.9" y1="658" x2="272.9" y2="652"/><line x1="272.9" y1="428.6" x2="272.9" y2="434.6"/><line x1="288.9" y1="658" x2="288.9" y2="654"/><line x1="288.9" y1="428.6" x2="288.9" y2="432.6"/></g>
<g font-family="Liberation Sans, sans-serif" font-size="19" text-anchor="middle">
<text x="81.5" y="681">0</text>
<text x="113.4" y="681">2</text>
<text x="145.3" y="681">4</text>
<text x="177.2" y="681">6</text>
<text x="209.1" y="681">8</text>
<text x="241.0" y="681">10</text>
<text x="272.9" y="681">12</text>
</g>
<g font-family="Liberation Sans, sans-serif" font-size="19" text-anchor="end">
<text x="73" y="665.0">0.0</text>
<text x="73" y="588.5">0.2</text>
<text x="73" y="512.1">0.4</text>
<text x="73" y="435.6">0.6</text>
</g>
<polyline points="81.5,658.0 82.3,658.0 83.2,657.9 84.0,657.7 84.9,657.4 85.7,656.9 86.5,656.2 87.4,655.4 88.2,654.3 89.0,653.0 89.9,651.6 90.7,649.9 91.6,648.0 92.4,645.9 93.2,643.6 94.1,641.1 94.9,638.5 95.7,635.7 96.6,632.8 97.4,629.8 98.3,626.7 99.1,623.5 99.9,620.3 100.8,617.1 101.6,613.9 102.4,610.8 103.3,607.7 104.1,604.8 105.0,602.0 105.8,599.3 106.6,596.8 107.5,594.5 108.3,592.5 109.1,590.6 110.0,589.1 110.8,587.8 111.7,586.7 112.5,586.0 113.3,585.5 114.2,585.4 115.0,585.6 115.8,586.4 116.7,587.8 117.5,589.6 118.4,592.0 119.2,594.8 120.0,598.0 120.9,601.6 121.7,605.4 122.5,609.5 123.4,613.8 124.2,618.1 125.1,622.5 125.9,626.8 126.7,631.1 127.6,635.1 128.4,638.9 129.2,642.4 130.1,645.6 130.9,648.5 131.8,651.0 132.6,653.0 133.4,654.7 134.3,656.0 135.1,656.9 135.9,657.5 136.8,657.9 137.6,658.0 138.5,658.0 139.3,657.9 140.1,657.5 141.0,656.8 141.8,655.6 142.7,654.1 143.5,652.0 144.3,649.4 145.2,646.4 146.0,642.9 146.8,639.0 147.7,634.8 148.5,630.3 149.4,625.5 150.2,620.7 151.0,615.8 151.9,611.1 152.7,606.5 153.5,602.1 154.4,598.1 155.2,594.6 156.1,591.5 156.9,589.0 157.7,587.2 158.6,585.9 159.4,585.4 160.2,585.4 161.1,585.8 161.9,586.5 162.8,587.5 163.6,588.8 164.4,590.3 165.3,592.2 166.1,594.2 166.9,596.6 167.8,599.1 168.6,601.8 169.5,604.7 170.3,607.7 171.1,610.8 172.0,614.0 172.8,617.3 173.6,620.6 174.5,623.9 175.3,627.1 176.2,630.3 177.0,633.3 177.8,636.3 178.7,639.1 179.5,641.8 180.3,644.3 181.2,646.6 182.0,648.6 182.9,650.5 183.7,652.2 184.5,653.6 185.4,654.8 186.2,655.8 187.0,656.6 187.9,657.2 188.7,657.6 189.6,657.8 190.4,658.0 191.2,658.0 192.1,658.0 192.9,657.9 193.8,657.7 194.6,657.4 195.4,656.9 196.3,656.2 197.1,655.2 197.9,654.0 198.8,652.6 199.6,650.9 200.5,649.0 201.3,646.9 202.1,644.5 203.0,641.9 203.8,639.1 204.6,636.1 205.5,633.0 206.3,629.7 207.2,626.4 208.0,623.0 208.8,619.5 209.7,616.1 210.5,612.6 211.3,609.3 212.2,606.1 213.0,603.0 213.9,600.0 214.7,597.3 215.5,594.8 216.4,592.5 217.2,590.6 218.0,588.9 218.9,587.5 219.7,586.5 220.6,585.8 221.4,585.4 222.2,585.4 223.1,586.0 223.9,587.2 224.7,589.1 225.6,591.5 226.4,594.4 227.3,597.8 228.1,601.6 228.9,605.8 229.8,610.2 230.6,614.7 231.4,619.4 232.3,624.1 233.1,628.7 234.0,633.1 234.8,637.3 235.6,641.2 236.5,644.8 237.3,647.9 238.1,650.6 239.0,652.9 239.8,654.7 240.7,656.1 241.5,657.0 242.3,657.6 243.2,657.9 244.0,658.0 244.8,658.0 245.7,657.8 246.5,657.4 247.4,656.6 248.2,655.5 249.0,654.0 249.9,652.0 250.7,649.6 251.6,646.8 252.4,643.6 253.2,640.0 254.1,636.2 254.9,632.0 255.7,627.7 256.6,623.3 257.4,618.9 258.3,614.5 259.1,610.3 259.9,606.2 260.8,602.5 261.6,599.1 262.4,596.1 263.3,593.6 264.1,591.6 265.0,590.2 265.8,589.4 266.6,589.2 267.5,589.4 268.3,589.9 269.1,590.6 270.0,591.7 270.8,593.0 271.7,594.6 272.5,596.4 273.3,598.5 274.2,600.8 275.0,603.3 275.8,605.9 276.7,608.7 277.5,611.6 278.4,614.6 279.2,617.7 280.0,620.8 280.9,623.9 281.7,627.0 282.5,630.0 283.4,633.0 284.2,635.9 285.1,638.6 285.9,641.2 286.7,643.7 287.6,645.9 288.4,648.0 289.2,649.9 290.1,651.6 290.9,653.1 291.8,654.3 292.6,655.4 293.4,656.2 294.3,656.9 295.1,657.4 295.9,657.7 296.8,657.9 297.6,658.0 298.5,658.0 299.3,658.0" fill="none" stroke="#e81818" stroke-width="1.6" stroke-linejoin="round"/>
<polyline points="81.5,658.0 82.3,658.0 83.2,657.8 84.0,657.5 84.9,656.9 85.7,656.0 86.5,654.8 87.4,653.3 88.2,651.4 89.0,649.1 89.9,646.5 90.7,643.5 91.6,640.1 92.4,636.4 93.2,632.4 94.1,628.1 94.9,623.6 95.7,618.8 96.6,613.9 97.4,608.9 98.3,603.9 99.1,598.8 99.9,593.9 100.8,589.0 101.6,584.3 102.4,579.9 103.3,575.6 104.1,571.7 105.0,568.0 105.8,564.6 106.6,561.6 107.5,558.8 108.3,556.4 109.1,554.4 110.0,552.6 110.8,551.2 111.7,550.1 112.5,549.3 113.3,548.8 114.2,548.7 115.0,548.9 115.8,549.8 116.7,551.2 117.5,553.3 118.4,555.9 119.2,559.1 120.0,563.0 120.9,567.5 121.7,572.5 122.5,578.1 123.4,584.1 124.2,590.6 125.1,597.3 125.9,604.1 126.7,611.0 127.6,617.8 128.4,624.3 129.2,630.4 130.1,636.0 130.9,641.0 131.8,645.4 132.6,649.1 133.4,652.1 134.3,654.4 135.1,654.7 135.9,654.1 136.8,653.7 137.6,653.4 138.5,653.4 139.3,653.6 140.1,654.0 141.0,654.6 141.8,653.8 142.7,650.9 143.5,647.3 144.3,642.7 145.2,637.3 146.0,631.2 146.8,624.5 147.7,617.3 148.5,609.7 149.4,602.1 150.2,594.5 151.0,587.1 151.9,580.2 152.7,573.9 153.5,568.1 154.4,563.1 155.2,558.9 156.1,555.3 156.9,552.6 157.7,550.5 158.6,549.3 159.4,548.7 160.2,548.7 161.1,549.1 161.9,549.8 162.8,550.9 163.6,552.3 164.4,554.0 165.3,556.1 166.1,558.5 166.9,561.2 167.8,564.3 168.6,567.8 169.5,571.5 170.3,575.6 171.1,579.9 172.0,584.5 172.8,589.3 173.6,594.3 174.5,599.4 175.3,604.6 176.2,609.7 177.0,614.8 177.8,619.8 178.7,624.7 179.5,629.3 180.3,633.6 181.2,637.6 182.0,641.3 182.9,644.6 183.7,647.6 184.5,650.1 185.4,652.3 186.2,654.0 187.0,655.4 187.9,656.5 188.7,657.2 189.6,657.7 190.4,657.9 191.2,658.0 192.1,658.0 192.9,657.9 193.8,657.5 194.6,657.0 195.4,656.1 196.3,654.8 197.1,653.1 197.9,651.1 198.8,648.6 199.6,645.7 200.5,642.3 201.3,638.6 202.1,634.5 203.0,630.0 203.8,625.3 204.6,620.3 205.5,615.2 206.3,609.9 207.2,604.5 208.0,599.2 208.8,594.0 209.7,588.9 210.5,584.1 211.3,579.5 212.2,575.1 213.0,571.1 213.9,567.4 214.7,564.1 215.5,561.2 216.4,558.6 217.2,556.5 218.0,554.6 218.9,553.2 219.7,552.1 220.6,551.4 221.4,551.0 222.2,551.0 223.1,551.6 223.9,552.9 224.7,554.8 225.6,557.5 226.4,560.8 227.3,564.7 228.1,569.4 228.9,574.7 229.8,580.6 230.6,587.1 231.4,593.9 232.3,601.0 233.1,608.2 234.0,615.4 234.8,622.4 235.6,628.9 236.5,635.0 237.3,640.4 238.1,645.1 239.0,649.1 239.8,652.3 240.7,654.6 241.5,653.6 242.3,652.9 243.2,652.5 244.0,652.3 244.8,652.3 245.7,652.7 246.5,653.3 247.4,654.1 248.2,653.2 249.0,650.3 249.9,646.5 250.7,642.0 251.6,636.7 252.4,630.6 253.2,624.0 254.1,617.0 254.9,609.6 255.7,602.1 256.6,594.7 257.4,587.5 258.3,580.6 259.1,574.3 259.9,568.5 260.8,563.4 261.6,558.9 262.4,555.2 263.3,552.2 264.1,549.9 265.0,548.3 265.8,547.4 266.6,547.1 267.5,547.3 268.3,547.9 269.1,548.7 270.0,550.0 270.8,551.5 271.7,553.4 272.5,555.6 273.3,558.2 274.2,561.2 275.0,564.5 275.8,568.1 276.7,572.0 277.5,576.3 278.4,580.8 279.2,585.5 280.0,590.5 280.9,595.6 281.7,600.8 282.5,606.1 283.4,611.3 284.2,616.4 285.1,621.4 285.9,626.2 286.7,630.8 287.6,635.1 288.4,639.0 289.2,642.6 290.1,645.8 290.9,648.6 291.8,651.0 292.6,653.0 293.4,654.6 294.3,655.9 295.1,656.8 295.9,657.4 296.8,657.8 297.6,658.0 298.5,658.0 299.3,658.0" fill="none" stroke="#1a1ae8" stroke-width="1.6" stroke-linejoin="round"/>
<polyline points="81.5,658.0 82.3,658.0 83.2,657.8 84.0,657.4 84.9,656.8 85.7,655.9 86.5,654.7 87.4,653.1 88.2,651.2 89.0,648.8 89.9,646.1 90.7,643.0 91.6,639.5 92.4,635.6 93.2,631.4 94.1,626.9 94.9,622.1 95.7,617.0 96.6,611.8 97.4,606.3 98.3,600.8 99.1,595.2 99.9,589.6 100.8,584.0 101.6,578.5 102.4,573.2 103.3,568.0 104.1,563.1 105.0,558.4 105.8,554.1 106.6,550.1 107.5,546.4 108.3,543.2 109.1,540.3 110.0,537.9 110.8,535.9 111.7,534.3 112.5,533.1 113.3,532.5 114.2,532.2 115.0,532.6 115.8,533.8 116.7,535.9 117.5,538.8 118.4,542.4 119.2,546.9 120.0,552.0 120.9,557.8 121.7,564.2 122.5,571.0 123.4,578.3 124.2,585.8 125.1,593.4 125.9,601.1 126.7,608.6 127.6,615.9 128.4,622.9 129.2,629.3 130.1,635.2 130.9,640.4 131.8,645.0 132.6,648.8 133.4,651.9 134.3,654.3 135.1,654.7 135.9,654.1 136.8,653.7 137.6,653.4 138.5,653.4 139.3,653.6 140.1,654.0 141.0,654.6 141.8,653.5 142.7,650.5 143.5,646.5 144.3,641.6 145.2,635.9 146.0,629.3 146.8,621.9 147.7,613.9 148.5,605.5 149.4,596.8 150.2,588.0 151.0,579.2 151.9,570.8 152.7,562.8 153.5,555.3 154.4,548.6 155.2,542.8 156.1,537.8 156.9,533.8 157.7,530.8 158.6,528.9 159.4,528.1 160.2,528.1 161.1,528.7 161.9,529.8 162.8,531.3 163.6,533.4 164.4,535.9 165.3,538.8 166.1,542.2 166.9,546.0 167.8,550.2 168.6,554.8 169.5,559.7 170.3,564.9 171.1,570.4 172.0,576.0 172.8,581.9 173.6,587.8 174.5,593.7 175.3,599.7 176.2,605.5 177.0,611.2 177.8,616.8 178.7,622.1 179.5,627.1 180.3,631.8 181.2,636.2 182.0,640.1 182.9,643.7 183.7,646.9 184.5,649.6 185.4,651.9 186.2,653.8 187.0,655.3 187.9,656.4 188.7,657.2 189.6,657.7 190.4,657.9 191.2,658.0 192.1,658.0 192.9,657.9 193.8,657.5 194.6,656.9 195.4,655.9 196.3,654.6 197.1,652.8 197.9,650.7 198.8,648.0 199.6,644.9 200.5,641.4 201.3,637.4 202.1,633.0 203.0,628.2 203.8,623.1 204.6,617.7 205.5,612.0 206.3,606.1 207.2,600.1 208.0,594.0 208.8,587.9 209.7,581.9 210.5,576.1 211.3,570.4 212.2,564.9 213.0,559.8 213.9,555.0 214.7,550.5 215.5,546.5 216.4,543.0 217.2,539.9 218.0,537.2 218.9,535.1 219.7,533.5 220.6,532.5 221.4,531.9 222.2,531.9 223.1,532.8 223.9,534.7 224.7,537.5 225.6,541.3 226.4,545.9 227.3,551.3 228.1,557.5 228.9,564.4 229.8,571.8 230.6,579.7 231.4,587.8 232.3,596.0 233.1,604.3 234.0,612.3 234.8,619.9 235.6,627.0 236.5,633.6 237.3,639.4 238.1,644.4 239.0,648.6 239.8,651.9 240.7,654.5 241.5,653.6 242.3,652.9 243.2,652.5 244.0,652.3 244.8,652.3 245.7,652.7 246.5,653.3 247.4,654.1 248.2,652.9 249.0,649.8 249.9,645.9 250.7,641.1 251.6,635.4 252.4,629.0 253.2,621.9 254.1,614.3 254.9,606.2 255.7,597.8 256.6,589.3 257.4,580.8 258.3,572.6 259.1,564.8 259.9,557.4 260.8,550.7 261.6,544.8 262.4,539.6 263.3,535.4 264.1,532.1 265.0,529.7 265.8,528.4 266.6,528.0 267.5,528.3 268.3,529.1 269.1,530.4 270.0,532.2 270.8,534.4 271.7,537.1 272.5,540.2 273.3,543.8 274.2,547.8 275.0,552.2 275.8,556.9 276.7,561.9 277.5,567.2 278.4,572.8 279.2,578.5 280.0,584.4 280.9,590.3 281.7,596.3 282.5,602.2 283.4,608.0 284.2,613.7 285.1,619.1 285.9,624.3 286.7,629.2 287.6,633.7 288.4,637.9 289.2,641.7 290.1,645.1 290.9,648.1 291.8,650.6 292.6,652.7 293.4,654.4 294.3,655.8 295.1,656.8 295.9,657.4 296.8,657.8 297.6,658.0 298.5,658.0 299.3,658.0" fill="none" stroke="#e818e8" stroke-width="1.6" stroke-linejoin="round"/>
<polyline points="81.5,658.0 82.3,658.0 83.2,657.8 84.0,657.4 84.9,656.7 85.7,655.8 86.5,654.4 87.4,652.7 88.2,650.6 89.0,648.1 89.9,645.2 90.7,641.8 91.6,638.0 92.4,633.8 93.2,629.3 94.1,624.3 94.9,619.1 95.7,613.5 96.6,607.7 97.4,601.7 98.3,595.5 99.1,589.2 99.9,582.8 100.8,576.4 101.6,570.1 102.4,563.8 103.3,557.7 104.1,551.9 105.0,546.2 105.8,540.9 106.6,536.0 107.5,531.4 108.3,527.3 109.1,523.6 110.0,520.5 110.8,517.9 111.7,515.8 112.5,514.3 113.3,513.4 114.2,513.1 115.0,513.6 115.8,515.2 116.7,517.9 117.5,521.7 118.4,526.3 119.2,531.9 120.0,538.3 120.9,545.5 121.7,553.2 122.5,561.3 123.4,569.8 124.2,578.5 125.1,587.2 125.9,595.8 126.7,604.2 127.6,612.3 128.4,619.9 129.2,627.0 130.1,633.3 130.9,639.0 131.8,643.9 132.6,648.1 133.4,651.4 134.3,654.0 135.1,654.7 135.9,654.1 136.8,653.7 137.6,653.4 138.5,653.4 139.3,653.6 140.1,654.0 141.0,654.6 141.8,653.3 142.7,650.1 143.5,646.0 144.3,640.9 145.2,634.8 146.0,627.8 146.8,620.0 147.7,611.6 148.5,602.5 149.4,593.1 150.2,583.4 151.0,573.7 151.9,564.1 152.7,554.9 153.5,546.2 154.4,538.2 155.2,531.1 156.1,525.0 156.9,520.1 157.7,516.3 158.6,513.9 159.4,512.8 160.2,512.9 161.1,513.6 161.9,515.0 162.8,517.0 163.6,519.5 164.4,522.6 165.3,526.3 166.1,530.5 166.9,535.1 167.8,540.2 168.6,545.6 169.5,551.4 170.3,557.4 171.1,563.7 172.0,570.1 172.8,576.6 173.6,583.2 174.5,589.7 175.3,596.2 176.2,602.5 177.0,608.7 177.8,614.6 178.7,620.3 179.5,625.6 180.3,630.5 181.2,635.1 182.0,639.3 182.9,643.0 183.7,646.3 184.5,649.2 185.4,651.6 186.2,653.6 187.0,655.1 187.9,656.3 188.7,657.1 189.6,657.6 190.4,657.9 191.2,658.0 192.1,658.0 192.9,657.9 193.8,657.5 194.6,656.9 195.4,655.9 196.3,654.6 197.1,652.8 197.9,650.6 198.8,647.9 199.6,644.8 200.5,641.2 201.3,637.2 202.1,632.8 203.0,627.9 203.8,622.7 204.6,617.1 205.5,611.3 206.3,605.2 207.2,598.9 208.0,592.5 208.8,586.1 209.7,579.6 210.5,573.2 211.3,567.0 212.2,561.0 213.0,555.2 213.9,549.7 214.7,544.6 215.5,539.9 216.4,535.7 217.2,532.0 218.0,528.9 218.9,526.3 219.7,524.4 220.6,523.1 221.4,522.4 222.2,522.4 223.1,523.5 223.9,525.8 224.7,529.2 225.6,533.7 226.4,539.2 227.3,545.5 228.1,552.6 228.9,560.4 229.8,568.6 230.6,577.2 231.4,585.9 232.3,594.7 233.1,603.3 234.0,611.5 234.8,619.4 235.6,626.7 236.5,633.3 237.3,639.2 238.1,644.3 239.0,648.5 239.8,651.9 240.7,654.4 241.5,653.6 242.3,652.9 243.2,652.5 244.0,652.3 244.8,652.3 245.7,652.7 246.5,653.3 247.4,654.1 248.2,652.7 249.0,649.5 249.9,645.3 250.7,640.3 251.6,634.4 252.4,627.6 253.2,620.1 254.1,611.9 254.9,603.2 255.7,594.1 256.6,584.8 257.4,575.4 258.3,566.2 259.1,557.2 259.9,548.7 260.8,540.7 261.6,533.6 262.4,527.3 263.3,522.1 264.1,517.9 265.0,514.9 265.8,513.2 266.6,512.7 267.5,513.1 268.3,514.1 269.1,515.8 270.0,518.0 270.8,520.8 271.7,524.2 272.5,528.0 273.3,532.4 274.2,537.2 275.0,542.5 275.8,548.0 276.7,553.9 277.5,560.1 278.4,566.4 279.2,572.9 280.0,579.4 280.9,586.0 281.7,592.5 282.5,598.9 283.4,605.2 284.2,611.3 285.1,617.1 285.9,622.6 286.7,627.8 287.6,632.6 288.4,637.0 289.2,640.9 290.1,644.5 290.9,647.6 291.8,650.3 292.6,652.5 293.4,654.3 294.3,655.7 295.1,656.7 295.9,657.4 296.8,657.8 297.6,658.0 298.5,658.0 299.3,658.0" fill="none" stroke="#188018" stroke-width="1.6" stroke-linejoin="round"/>
<line x1="317.2" y1="429" x2="317.2" y2="653" stroke="#999" stroke-width="1.4"/>
<line x1="534.8" y1="429" x2="534.8" y2="653" stroke="#333" stroke-width="1.4"/>
<line x1="317.2" y1="429" x2="534.8" y2="429" stroke="#aaa" stroke-width="1.2"/>
<line x1="316.5" y1="653" x2="535.5" y2="653" stroke="#111" stroke-width="1.8"/>
<g stroke="#222" stroke-width="1.1"><line x1="317.2" y1="615.7" x2="322.2" y2="615.7"/><line x1="529.8" y1="615.7" x2="534.8" y2="615.7"/><line x1="317.2" y1="578.3" x2="322.2" y2="578.3"/><line x1="529.8" y1="578.3" x2="534.8" y2="578.3"/><line x1="317.2" y1="541.0" x2="322.2" y2="541.0"/><line x1="529.8" y1="541.0" x2="534.8" y2="541.0"/><line x1="317.2" y1="503.7" x2="322.2" y2="503.7"/><line x1="529.8" y1="503.7" x2="534.8" y2="503.7"/><line x1="317.2" y1="466.3" x2="322.2" y2="466.3"/><line x1="529.8" y1="466.3" x2="534.8" y2="466.3"/><line x1="317.2" y1="653" x2="317.2" y2="647"/><line x1="317.2" y1="429" x2="317.2" y2="435"/><line x1="333.1" y1="653" x2="333.1" y2="649"/><line x1="333.1" y1="429" x2="333.1" y2="433"/><line x1="349.0" y1="653" x2="349.0" y2="647"/><line x1="349.0" y1="429" x2="349.0" y2="435"/><line x1="364.9" y1="653" x2="364.9" y2="649"/><line x1="364.9" y1="429" x2="364.9" y2="433"/><line x1="380.8" y1="653" x2="380.8" y2="647"/><line x1="380.8" y1="429" x2="380.8" y2="435"/><line x1="396.7" y1="653" x2="396.7" y2="649"/><line x1="396.7" y1="429" x2="396.7" y2="433"/><line x1="412.6" y1="653" x2="412.6" y2="647"/><line x1="412.6" y1="429" x2="412.6" y2="435"/><line x1="428.5" y1="653" x2="428.5" y2="649"/><line x1="428.5" y1="429" x2="428.5" y2="433"/><line x1="444.4" y1="653" x2="444.4" y2="647"/><line x1="444.4" y1="429" x2="444.4" y2="435"/><line x1="460.3" y1="653" x2="460.3" y2="649"/><line x1="460.3" y1="429" x2="460.3" y2="433"/><line x1="476.2" y1="653" x2="476.2" y2="647"/><line x1="476.2" y1="429" x2="476.2" y2="435"/><line x1="492.1" y1="653" x2="492.1" y2="649"/><line x1="492.1" y1="429" x2="492.1" y2="433"/><line x1="508.0" y1="653" x2="508.0" y2="647"/><line x1="508.0" y1="429" x2="508.0" y2="435"/><line x1="523.9" y1="653" x2="523.9" y2="649"/><line x1="523.9" y1="429" x2="523.9" y2="433"/></g>
<g font-family="Liberation Sans, sans-serif" font-size="19" text-anchor="middle">
<text x="317.2" y="676">0</text>
<text x="349.0" y="676">2</text>
<text x="380.8" y="676">4</text>
<text x="412.6" y="676">6</text>
<text x="444.4" y="676">8</text>
<text x="476.2" y="676">10</text>
<text x="508.0" y="676">12</text>
</g>
<polyline points="317.2,653.0 318.0,653.0 318.9,652.9 319.7,652.6 320.5,652.1 321.4,651.4 322.2,650.5 323.1,649.3 323.9,647.8 324.7,646.1 325.6,644.1 326.4,641.8 327.2,639.2 328.1,636.4 328.9,633.3 329.8,630.1 330.6,626.7 331.4,623.1 332.3,619.4 333.1,615.6 333.9,611.8 334.8,608.0 335.6,604.2 336.4,600.5 337.3,596.9 338.1,593.5 339.0,590.3 339.8,587.3 340.6,584.6 341.5,582.2 342.3,580.1 343.1,578.3 344.0,576.9 344.8,575.9 345.7,575.2 346.5,575.0 347.3,575.2 348.2,576.1 349.0,577.6 349.8,579.6 350.7,582.3 351.5,585.5 352.4,589.1 353.2,593.1 354.0,597.5 354.9,602.1 355.7,606.8 356.5,611.7 357.4,616.6 358.2,621.3 359.0,626.0 359.9,630.4 360.7,634.5 361.6,638.2 362.4,641.5 363.2,644.5 364.1,646.9 364.9,648.9 365.7,650.5 366.6,651.6 367.4,652.4 368.3,652.8 369.1,653.0 369.9,653.0 370.8,652.9 371.6,652.7 372.4,652.3 373.3,651.6 374.1,650.6 374.9,649.2 375.8,647.5 376.6,645.5 377.5,643.2 378.3,640.5 379.1,637.5 380.0,634.2 380.8,630.7 381.6,627.0 382.5,623.1 383.3,619.1 384.2,615.1 385.0,611.0 385.8,607.1 386.7,603.2 387.5,599.6 388.3,596.1 389.2,593.0 390.0,590.2 390.8,587.7 391.7,585.7 392.5,584.1 393.4,582.9 394.2,582.3 395.0,582.1 395.9,582.3 396.7,582.7 397.5,583.5 398.4,584.6 399.2,586.0 400.1,587.6 400.9,589.5 401.7,591.7 402.6,594.0 403.4,596.6 404.2,599.3 405.1,602.2 405.9,605.2 406.8,608.3 407.6,611.4 408.4,614.6 409.3,617.9 410.1,621.0 410.9,624.2 411.8,627.3 412.6,630.2 413.4,633.1 414.3,635.8 415.1,638.3 416.0,640.6 416.8,642.8 417.6,644.7 418.5,646.5 419.3,648.0 420.1,649.3 421.0,650.3 421.8,651.2 422.7,651.9 423.5,652.4 424.3,652.7 425.2,652.9 426.0,653.0 426.8,653.0 427.7,653.0 428.5,652.9 429.3,652.6 430.2,652.2 431.0,651.7 431.9,650.9 432.7,649.9 433.5,648.7 434.4,647.2 435.2,645.5 436.0,643.6 436.9,641.5 437.7,639.1 438.6,636.6 439.4,633.8 440.2,630.9 441.1,627.9 441.9,624.8 442.7,621.5 443.6,618.2 444.4,614.9 445.2,611.6 446.1,608.4 446.9,605.2 447.8,602.1 448.6,599.2 449.4,596.4 450.3,593.8 451.1,591.4 451.9,589.3 452.8,587.4 453.6,585.8 454.5,584.5 455.3,583.5 456.1,582.8 457.0,582.5 457.8,582.5 458.6,582.9 459.5,583.9 460.3,585.3 461.2,587.1 462.0,589.4 462.8,592.1 463.7,595.1 464.5,598.4 465.3,602.0 466.2,605.8 467.0,609.7 467.8,613.7 468.7,617.7 469.5,621.8 470.4,625.7 471.2,629.5 472.0,633.1 472.9,636.5 473.7,639.6 474.5,642.4 475.4,644.8 476.2,647.0 477.1,648.8 477.9,650.2 478.7,651.3 479.6,652.1 480.4,652.6 481.2,652.9 482.1,653.0 482.9,653.0 483.7,652.9 484.6,652.5 485.4,651.8 486.3,650.7 487.1,649.2 487.9,647.2 488.8,644.7 489.6,641.8 490.4,638.4 491.3,634.6 492.1,630.5 493.0,626.1 493.8,621.5 494.6,616.8 495.5,612.0 496.3,607.3 497.1,602.8 498.0,598.5 498.8,594.5 499.6,590.9 500.5,587.8 501.3,585.2 502.2,583.2 503.0,581.8 503.8,581.1 504.7,581.0 505.5,581.3 506.3,582.0 507.2,583.1 508.0,584.5 508.9,586.2 509.7,588.3 510.5,590.6 511.4,593.3 512.2,596.1 513.0,599.2 513.9,602.4 514.7,605.8 515.6,609.3 516.4,612.8 517.2,616.4 518.1,619.9 518.9,623.4 519.7,626.9 520.6,630.1 521.4,633.3 522.2,636.2 523.1,639.0 523.9,641.5 524.8,643.8 525.6,645.8 526.4,647.5 527.3,649.0 528.1,650.2 528.9,651.2 529.8,651.9 530.6,652.5 531.5,652.8 532.3,652.9 533.1,653.0 534.0,653.0 534.8,653.0" fill="none" stroke="#e81818" stroke-width="1.6" stroke-linejoin="round"/>
<polyline points="317.2,653.0 318.0,653.0 318.9,652.8 319.7,652.3 320.5,651.5 321.4,650.4 322.2,648.9 323.1,646.9 323.9,644.5 324.7,641.7 325.6,638.4 326.4,634.6 327.2,630.5 328.1,625.9 328.9,621.1 329.8,616.0 330.6,610.6 331.4,605.2 332.3,599.6 333.1,594.1 333.9,588.7 334.8,583.4 335.6,578.4 336.4,573.6 337.3,569.1 338.1,565.0 339.0,561.2 339.8,557.9 340.6,554.9 341.5,552.3 342.3,550.2 343.1,548.4 344.0,547.0 344.8,546.0 345.7,545.4 346.5,545.1 347.3,545.3 348.2,546.2 349.0,547.6 349.8,549.7 350.7,552.4 351.5,555.8 352.4,559.8 353.2,564.5 354.0,569.8 354.9,575.6 355.7,581.9 356.5,588.6 357.4,595.5 358.2,602.6 359.0,609.6 359.9,616.4 360.7,622.8 361.6,628.8 362.4,634.3 363.2,639.0 364.1,643.0 364.9,646.3 365.7,648.9 366.6,647.8 367.4,646.8 368.3,646.0 369.1,645.6 369.9,645.5 370.8,645.8 371.6,646.4 372.4,647.4 373.3,648.7 374.1,648.7 374.9,646.3 375.8,643.4 376.6,639.8 377.5,635.7 378.3,631.0 379.1,625.9 380.0,620.3 380.8,614.4 381.6,608.2 382.5,602.0 383.3,595.7 384.2,589.5 385.0,583.6 385.8,578.0 386.7,572.7 387.5,567.9 388.3,563.6 389.2,559.8 390.0,556.5 390.8,553.8 391.7,551.5 392.5,549.8 393.4,548.6 394.2,547.9 395.0,547.7 395.9,547.9 396.7,548.4 397.5,549.2 398.4,550.4 399.2,551.9 400.1,553.6 400.9,555.8 401.7,558.2 402.6,561.0 403.4,564.2 404.2,567.6 405.1,571.3 405.9,575.4 406.8,579.7 407.6,584.2 408.4,588.9 409.3,593.8 410.1,598.7 410.9,603.7 411.8,608.7 412.6,613.6 413.4,618.3 414.3,622.9 415.1,627.3 416.0,631.3 416.8,635.0 417.6,638.4 418.5,641.5 419.3,644.1 420.1,646.4 421.0,648.3 421.8,649.9 422.7,651.0 423.5,651.9 424.3,652.5 425.2,652.8 426.0,653.0 426.8,653.0 427.7,653.0 428.5,652.8 429.3,652.3 430.2,651.6 431.0,650.6 431.9,649.2 432.7,647.4 433.5,645.3 434.4,642.7 435.2,639.7 436.0,636.3 436.9,632.5 437.7,628.4 438.6,624.0 439.4,619.3 440.2,614.3 441.1,609.3 441.9,604.1 442.7,598.9 443.6,593.7 444.4,588.6 445.2,583.7 446.1,579.0 446.9,574.5 447.8,570.3 448.6,566.4 449.4,562.9 450.3,559.7 451.1,556.9 451.9,554.4 452.8,552.3 453.6,550.5 454.5,549.1 455.3,548.1 456.1,547.4 457.0,547.0 457.8,547.0 458.6,547.5 459.5,548.5 460.3,550.0 461.2,552.0 462.0,554.6 462.8,557.7 463.7,561.3 464.5,565.5 465.3,570.2 466.2,575.3 467.0,580.9 467.8,586.8 468.7,592.9 469.5,599.2 470.4,605.6 471.2,611.9 472.0,618.0 472.9,623.8 473.7,629.2 474.5,634.1 475.4,638.5 476.2,642.2 477.1,645.4 477.9,648.0 478.7,650.0 479.6,649.8 480.4,649.2 481.2,648.8 482.1,648.6 482.9,648.5 483.7,648.7 484.6,649.1 485.4,649.7 486.3,648.9 487.1,646.1 487.9,642.5 488.8,638.1 489.6,632.9 490.4,626.9 491.3,620.3 492.1,613.2 493.0,605.8 493.8,598.2 494.6,590.7 495.5,583.4 496.3,576.5 497.1,570.1 498.0,564.3 498.8,559.2 499.6,554.8 500.5,551.1 501.3,548.2 502.2,546.0 503.0,544.5 503.8,543.7 504.7,543.6 505.5,544.0 506.3,544.7 507.2,545.9 508.0,547.4 508.9,549.4 509.7,551.7 510.5,554.5 511.4,557.7 512.2,561.3 513.0,565.2 513.9,569.6 514.7,574.3 515.6,579.3 516.4,584.6 517.2,590.1 518.1,595.7 518.9,601.3 519.7,607.0 520.6,612.5 521.4,617.9 522.2,623.0 523.1,627.9 523.9,632.3 524.8,636.4 525.6,640.0 526.4,643.1 527.3,645.8 528.1,648.0 528.9,649.8 529.8,651.1 530.6,652.0 531.5,652.6 532.3,652.9 533.1,653.0 534.0,653.0 534.8,653.0" fill="none" stroke="#1a1ae8" stroke-width="1.6" stroke-linejoin="round"/>
<polyline points="317.2,653.0 318.0,653.0 318.9,652.7 319.7,652.3 320.5,651.5 321.4,650.3 322.2,648.7 323.1,646.6 323.9,644.0 324.7,641.0 325.6,637.5 326.4,633.5 327.2,629.1 328.1,624.2 328.9,619.0 329.8,613.4 330.6,607.6 331.4,601.5 332.3,595.3 333.1,589.0 333.9,582.7 334.8,576.5 335.6,570.4 336.4,564.5 337.3,558.9 338.1,553.6 339.0,548.7 339.8,544.2 340.6,540.1 341.5,536.5 342.3,533.4 343.1,530.9 344.0,528.8 344.8,527.4 345.7,526.4 346.5,526.1 347.3,526.4 348.2,527.6 349.0,529.8 349.8,532.8 350.7,536.7 351.5,541.3 352.4,546.8 353.2,553.0 354.0,559.7 354.9,567.0 355.7,574.7 356.5,582.6 357.4,590.6 358.2,598.6 359.0,606.4 359.9,613.9 360.7,620.9 361.6,627.4 362.4,633.1 363.2,638.2 364.1,642.5 364.9,646.0 365.7,648.7 366.6,647.8 367.4,646.8 368.3,646.0 369.1,645.6 369.9,645.5 370.8,645.8 371.6,646.4 372.4,647.4 373.3,648.7 374.1,648.5 374.9,646.0 375.8,642.9 376.6,639.2 377.5,634.8 378.3,629.8 379.1,624.3 380.0,618.3 380.8,611.9 381.6,605.1 382.5,598.2 383.3,591.1 384.2,584.0 385.0,577.0 385.8,570.2 386.7,563.7 387.5,557.6 388.3,552.0 389.2,546.9 390.0,542.4 390.8,538.5 391.7,535.4 392.5,532.9 393.4,531.1 394.2,530.1 395.0,529.8 395.9,530.1 396.7,530.8 397.5,532.0 398.4,533.7 399.2,535.8 400.1,538.4 400.9,541.3 401.7,544.7 402.6,548.5 403.4,552.6 404.2,557.1 405.1,561.9 405.9,567.0 406.8,572.2 407.6,577.7 408.4,583.2 409.3,588.9 410.1,594.5 410.9,600.2 411.8,605.7 412.6,611.0 413.4,616.2 414.3,621.1 415.1,625.8 416.0,630.1 416.8,634.1 417.6,637.7 418.5,640.9 419.3,643.7 420.1,646.1 421.0,648.1 421.8,649.7 422.7,650.9 423.5,651.9 424.3,652.5 425.2,652.8 426.0,653.0 426.8,653.0 427.7,653.0 428.5,652.7 429.3,652.3 430.2,651.6 431.0,650.5 431.9,649.0 432.7,647.1 433.5,644.8 434.4,642.1 435.2,638.9 436.0,635.3 436.9,631.3 437.7,626.9 438.6,622.1 439.4,617.0 440.2,611.7 441.1,606.1 441.9,600.3 442.7,594.4 443.6,588.5 444.4,582.6 445.2,576.7 446.1,571.0 446.9,565.5 447.8,560.2 448.6,555.3 449.4,550.6 450.3,546.3 451.1,542.5 451.9,539.0 452.8,536.1 453.6,533.5 454.5,531.5 455.3,530.0 456.1,528.9 457.0,528.4 457.8,528.4 458.6,529.1 459.5,530.5 460.3,532.7 461.2,535.7 462.0,539.3 462.8,543.6 463.7,548.5 464.5,554.0 465.3,560.0 466.2,566.5 467.0,573.3 467.8,580.4 468.7,587.6 469.5,594.8 470.4,602.0 471.2,609.0 472.0,615.6 472.9,621.9 473.7,627.7 474.5,633.0 475.4,637.6 476.2,641.6 477.1,645.0 477.9,647.7 478.7,649.8 479.6,649.8 480.4,649.2 481.2,648.8 482.1,648.6 482.9,648.5 483.7,648.7 484.6,649.1 485.4,649.7 486.3,648.6 487.1,645.6 487.9,641.8 488.8,637.0 489.6,631.4 490.4,624.9 491.3,617.7 492.1,609.9 493.0,601.6 493.8,593.0 494.6,584.3 495.5,575.6 496.3,567.2 497.1,559.1 498.0,551.7 498.8,544.8 499.6,538.8 500.5,533.7 501.3,529.5 502.2,526.3 503.0,524.1 503.8,522.9 504.7,522.8 505.5,523.3 506.3,524.4 507.2,526.1 508.0,528.3 508.9,531.2 509.7,534.5 510.5,538.4 511.4,542.8 512.2,547.6 513.0,552.9 513.9,558.5 514.7,564.5 515.6,570.7 516.4,577.0 517.2,583.5 518.1,590.1 518.9,596.6 519.7,603.0 520.6,609.2 521.4,615.1 522.2,620.7 523.1,626.0 523.9,630.8 524.8,635.2 525.6,639.0 526.4,642.4 527.3,645.3 528.1,647.7 528.9,649.5 529.8,651.0 530.6,652.0 531.5,652.6 532.3,652.9 533.1,653.0 534.0,653.0 534.8,653.0" fill="none" stroke="#e818e8" stroke-width="1.6" stroke-linejoin="round"/>
<polyline points="317.2,653.0 318.0,653.0 318.9,652.7 319.7,652.2 320.5,651.4 321.4,650.1 322.2,648.4 323.1,646.3 323.9,643.6 324.7,640.4 325.6,636.7 326.4,632.5 327.2,627.9 328.1,622.7 328.9,617.2 329.8,611.2 330.6,605.0 331.4,598.4 332.3,591.7 333.1,584.8 333.9,577.9 334.8,570.9 335.6,564.0 336.4,557.3 337.3,550.8 338.1,544.6 339.0,538.7 339.8,533.3 340.6,528.3 341.5,523.9 342.3,520.1 343.1,516.9 344.0,514.3 344.8,512.4 345.7,511.2 346.5,510.8 347.3,511.2 348.2,512.8 349.0,515.5 349.8,519.3 350.7,524.1 351.5,529.9 352.4,536.5 353.2,543.8 354.0,551.7 354.9,560.1 355.7,568.8 356.5,577.7 357.4,586.6 358.2,595.3 359.0,603.7 359.9,611.7 360.7,619.2 361.6,626.0 362.4,632.1 363.2,637.4 364.1,641.9 364.9,645.6 365.7,648.5 366.6,647.8 367.4,646.8 368.3,646.0 369.1,645.6 369.9,645.5 370.8,645.8 371.6,646.4 372.4,647.4 373.3,648.7 374.1,648.2 374.9,645.6 375.8,642.3 376.6,638.4 377.5,633.8 378.3,628.5 379.1,622.6 380.0,616.2 380.8,609.3 381.6,602.0 382.5,594.4 383.3,586.6 384.2,578.7 385.0,570.8 385.8,563.1 386.7,555.5 387.5,548.4 388.3,541.7 389.2,535.5 390.0,530.0 390.8,525.2 391.7,521.2 392.5,518.1 393.4,515.8 394.2,514.5 395.0,514.1 395.9,514.5 396.7,515.4 397.5,517.0 398.4,519.1 399.2,521.8 400.1,525.0 400.9,528.7 401.7,532.9 402.6,537.5 403.4,542.5 404.2,547.8 405.1,553.5 405.9,559.4 406.8,565.4 407.6,571.6 408.4,577.9 409.3,584.2 410.1,590.4 410.9,596.6 411.8,602.6 412.6,608.4 413.4,614.0 414.3,619.2 415.1,624.2 416.0,628.8 416.8,633.0 417.6,636.8 418.5,640.2 419.3,643.2 420.1,645.7 421.0,647.8 421.8,649.5 422.7,650.8 423.5,651.8 424.3,652.4 425.2,652.8 426.0,653.0 426.8,653.0 427.7,653.0 428.5,652.7 429.3,652.3 430.2,651.5 431.0,650.4 431.9,648.9 432.7,647.0 433.5,644.6 434.4,641.8 435.2,638.5 436.0,634.8 436.9,630.7 437.7,626.1 438.6,621.2 439.4,615.9 440.2,610.3 441.1,604.4 441.9,598.3 442.7,592.1 443.6,585.7 444.4,579.3 445.2,572.9 446.1,566.6 446.9,560.4 447.8,554.4 448.6,548.7 449.4,543.3 450.3,538.3 451.1,533.7 451.9,529.6 452.8,525.9 453.6,522.9 454.5,520.4 455.3,518.4 456.1,517.1 457.0,516.5 457.8,516.5 458.6,517.3 459.5,519.2 460.3,521.9 461.2,525.5 462.0,529.9 462.8,535.0 463.7,540.9 464.5,547.3 465.3,554.2 466.2,561.5 467.0,569.1 467.8,576.9 468.7,584.7 469.5,592.5 470.4,600.1 471.2,607.5 472.0,614.4 472.9,621.0 473.7,627.0 474.5,632.4 475.4,637.2 476.2,641.3 477.1,644.8 477.9,647.6 478.7,649.7 479.6,649.8 480.4,649.2 481.2,648.8 482.1,648.6 482.9,648.5 483.7,648.7 484.6,649.1 485.4,649.7 486.3,648.4 487.1,645.3 487.9,641.3 488.8,636.3 489.6,630.4 490.4,623.6 491.3,616.0 492.1,607.7 493.0,598.8 493.8,589.6 494.6,580.0 495.5,570.4 496.3,561.0 497.1,551.8 498.0,543.1 498.8,535.0 499.6,527.8 500.5,521.5 501.3,516.3 502.2,512.3 503.0,509.5 503.8,508.0 504.7,507.8 505.5,508.5 506.3,509.9 507.2,512.0 508.0,514.9 508.9,518.4 509.7,522.6 510.5,527.3 511.4,532.6 512.2,538.4 513.0,544.5 513.9,551.1 514.7,557.9 515.6,564.9 516.4,572.0 517.2,579.2 518.1,586.4 518.9,593.4 519.7,600.3 520.6,606.9 521.4,613.2 522.2,619.2 523.1,624.7 523.9,629.8 524.8,634.4 525.6,638.4 526.4,642.0 527.3,644.9 528.1,647.4 528.9,649.4 529.8,650.9 530.6,651.9 531.5,652.6 532.3,652.9 533.1,653.0 534.0,653.0 534.8,653.0" fill="none" stroke="#188018" stroke-width="1.6" stroke-linejoin="round"/>
<line x1="553.3" y1="428.5" x2="553.3" y2="658" stroke="#999" stroke-width="1.4"/>
<line x1="771" y1="428.5" x2="771" y2="658" stroke="#333" stroke-width="1.4"/>
<line x1="553.3" y1="428.5" x2="771" y2="428.5" stroke="#aaa" stroke-width="1.2"/>
<line x1="552.5999999999999" y1="658" x2="771.7" y2="658" stroke="#111" stroke-width="1.8"/>
<g stroke="#222" stroke-width="1.1"><line x1="553.3" y1="619.8" x2="558.3" y2="619.8"/><line x1="766" y1="619.8" x2="771" y2="619.8"/><line x1="553.3" y1="581.5" x2="558.3" y2="581.5"/><line x1="766" y1="581.5" x2="771" y2="581.5"/><line x1="553.3" y1="543.2" x2="558.3" y2="543.2"/><line x1="766" y1="543.2" x2="771" y2="543.2"/><line x1="553.3" y1="505.0" x2="558.3" y2="505.0"/><line x1="766" y1="505.0" x2="771" y2="505.0"/><line x1="553.3" y1="466.8" x2="558.3" y2="466.8"/><line x1="766" y1="466.8" x2="771" y2="466.8"/><line x1="553.3" y1="658" x2="553.3" y2="652"/><line x1="553.3" y1="428.5" x2="553.3" y2="434.5"/><line x1="570.3" y1="658" x2="570.3" y2="654"/><line x1="570.3" y1="428.5" x2="570.3" y2="432.5"/><line x1="587.3" y1="658" x2="587.3" y2="652"/><line x1="587.3" y1="428.5" x2="587.3" y2="434.5"/><line x1="604.4" y1="658" x2="604.4" y2="654"/><line x1="604.4" y1="428.5" x2="604.4" y2="432.5"/><line x1="621.4" y1="658" x2="621.4" y2="652"/><line x1="621.4" y1="428.5" x2="621.4" y2="434.5"/><line x1="638.4" y1="658" x2="638.4" y2="654"/><line x1="638.4" y1="428.5" x2="638.4" y2="432.5"/><line x1="655.4" y1="658" x2="655.4" y2="652"/><line x1="655.4" y1="428.5" x2="655.4" y2="434.5"/><line x1="672.5" y1="658" x2="672.5" y2="654"/><line x1="672.5" y1="428.5" x2="672.5" y2="432.5"/><line x1="689.5" y1="658" x2="689.5" y2="652"/><line x1="689.5" y1="428.5" x2="689.5" y2="434.5"/><line x1="706.5" y1="658" x2="706.5" y2="654"/><line x1="706.5" y1="428.5" x2="706.5" y2="432.5"/><line x1="723.5" y1="658" x2="723.5" y2="652"/><line x1="723.5" y1="428.5" x2="723.5" y2="434.5"/><line x1="740.6" y1="658" x2="740.6" y2="654"/><line x1="740.6" y1="428.5" x2="740.6" y2="432.5"/><line x1="757.6" y1="658" x2="757.6" y2="652"/><line x1="757.6" y1="428.5" x2="757.6" y2="434.5"/></g>
<g font-family="Liberation Sans, sans-serif" font-size="19" text-anchor="middle">
<text x="553.3" y="681">0</text>
<text x="587.3" y="681">3</text>
<text x="621.4" y="681">6</text>
<text x="655.4" y="681">9</text>
<text x="689.5" y="681">12</text>
<text x="723.5" y="681">15</text>
<text x="757.6" y="681">18</text>
</g>
<polyline points="553.3,658.0 554.1,658.0 555.0,657.9 555.8,657.8 556.6,657.4 557.5,656.9 558.3,656.1 559.2,655.0 560.0,653.7 560.8,652.1 561.7,650.2 562.5,648.0 563.3,645.6 564.2,642.9 565.0,640.0 565.9,636.8 566.7,633.6 567.5,630.2 568.4,626.7 569.2,623.1 570.0,619.6 570.9,616.0 571.7,612.6 572.6,609.3 573.4,606.1 574.2,603.2 575.1,600.5 575.9,598.0 576.7,595.9 577.6,594.1 578.4,592.7 579.3,591.6 580.1,591.0 580.9,590.7 581.8,591.0 582.6,592.4 583.4,594.8 584.3,598.2 585.1,602.4 586.0,607.3 586.8,612.7 587.6,618.4 588.5,624.3 589.3,630.1 590.1,635.7 591.0,640.9 591.8,645.4 592.7,649.4 593.5,652.5 594.3,654.9 595.2,656.6 596.0,657.5 596.8,657.9 597.7,658.0 598.5,658.0 599.4,658.0 600.2,658.0 601.0,658.0 601.9,658.0 602.7,658.0 603.5,658.0 604.4,658.0 605.2,658.0 606.1,658.0 606.9,658.0 607.7,658.0 608.6,658.0 609.4,658.0 610.2,658.0 611.1,658.0 611.9,658.0 612.7,658.0 613.6,658.0 614.4,658.0 615.3,658.0 616.1,658.0 616.9,658.0 617.8,657.6 618.6,656.8 619.4,655.3 620.3,653.2 621.1,650.4 622.0,646.8 622.8,642.6 623.6,637.9 624.5,632.7 625.3,627.3 626.1,621.7 627.0,616.2 627.8,610.9 628.7,606.1 629.5,601.8 630.3,598.3 631.2,595.6 632.0,593.8 632.8,593.0 633.7,593.1 634.5,593.4 635.4,594.1 636.2,595.1 637.0,596.4 637.9,597.9 638.7,599.7 639.5,601.8 640.4,604.1 641.2,606.6 642.1,609.2 642.9,612.0 643.7,615.0 644.6,618.0 645.4,621.1 646.2,624.2 647.1,627.3 647.9,630.3 648.8,633.3 649.6,636.2 650.4,639.0 651.3,641.6 652.1,644.1 652.9,646.4 653.8,648.5 654.6,650.4 655.5,652.1 656.3,653.5 657.1,654.7 658.0,655.7 658.8,656.5 659.6,657.1 660.5,657.6 661.3,657.8 662.1,658.0 663.0,658.0 663.8,658.0 664.7,657.9 665.5,657.7 666.3,657.2 667.2,656.5 668.0,655.6 668.8,654.4 669.7,652.9 670.5,651.0 671.4,648.9 672.2,646.5 673.0,643.9 673.9,641.0 674.7,637.8 675.5,634.5 676.4,631.0 677.2,627.4 678.1,623.8 678.9,620.1 679.7,616.5 680.6,612.9 681.4,609.4 682.2,606.1 683.1,603.0 683.9,600.2 684.8,597.7 685.6,595.4 686.4,593.6 687.3,592.0 688.1,590.9 688.9,590.2 689.8,589.9 690.6,590.3 691.5,591.8 692.3,594.4 693.1,597.9 694.0,602.4 694.8,607.6 695.6,613.3 696.5,619.3 697.3,625.4 698.2,631.4 699.0,637.1 699.8,642.3 700.7,646.8 701.5,650.6 702.3,653.6 703.2,655.7 704.0,657.1 704.9,657.8 705.7,658.0 706.5,658.0 707.4,658.0 708.2,658.0 709.0,658.0 709.9,658.0 710.7,658.0 711.6,658.0 712.4,658.0 713.2,658.0 714.1,658.0 714.9,658.0 715.7,658.0 716.6,658.0 717.4,658.0 718.2,658.0 719.1,658.0 719.9,658.0 720.8,658.0 721.6,658.0 722.4,658.0 723.3,658.0 724.1,658.0 724.9,657.7 725.8,657.1 726.6,655.9 727.5,654.1 728.3,651.7 729.1,648.7 730.0,645.0 730.8,640.8 731.6,636.0 732.5,630.8 733.3,625.3 734.2,619.6 735.0,613.9 735.8,608.3 736.7,603.0 737.5,598.0 738.3,593.5 739.2,589.7 740.0,586.6 740.9,584.3 741.7,582.8 742.5,582.3 743.4,582.4 744.2,583.1 745.0,584.1 745.9,585.6 746.7,587.4 747.6,589.6 748.4,592.2 749.2,595.1 750.1,598.3 750.9,601.8 751.7,605.4 752.6,609.2 753.4,613.1 754.3,617.0 755.1,621.0 755.9,624.9 756.8,628.8 757.6,632.5 758.4,636.1 759.3,639.4 760.1,642.6 761.0,645.4 761.8,648.0 762.6,650.3 763.5,652.2 764.3,653.9 765.1,655.2 766.0,656.3 766.8,657.0 767.7,657.5 768.5,657.8 769.3,658.0 770.2,658.0 771.0,658.0" fill="none" stroke="#e81818" stroke-width="1.6" stroke-linejoin="round"/>
<polyline points="553.3,658.0 554.1,658.0 555.0,657.9 555.8,657.5 556.6,656.8 557.5,655.7 558.3,654.1 559.2,651.9 560.0,649.2 560.8,646.0 561.7,642.2 562.5,637.8 563.3,632.9 564.2,627.6 565.0,621.9 565.9,615.9 566.7,609.7 567.5,603.4 568.4,597.0 569.2,590.8 570.0,584.7 570.9,578.9 571.7,573.4 572.6,568.3 573.4,563.6 574.2,559.4 575.1,555.7 575.9,552.4 576.7,549.7 577.6,547.4 578.4,545.7 579.3,544.4 580.1,543.6 580.9,543.3 581.8,543.7 582.6,545.3 583.4,548.3 584.3,552.6 585.1,558.3 586.0,565.3 586.8,573.5 587.6,582.8 588.5,592.9 589.3,603.3 590.1,613.8 591.0,623.7 591.8,632.7 592.7,640.5 593.5,646.9 594.3,651.7 595.2,655.1 596.0,657.0 596.8,657.9 597.7,658.0 598.5,658.0 599.4,658.0 600.2,658.0 601.0,658.0 601.9,658.0 602.7,658.0 603.5,658.0 604.4,658.0 605.2,658.0 606.1,658.0 606.9,658.0 607.7,658.0 608.6,658.0 609.4,658.0 610.2,658.0 611.1,658.0 611.9,658.0 612.7,658.0 613.6,658.0 614.4,658.0 615.3,658.0 616.1,658.0 616.9,657.9 617.8,657.2 618.6,655.5 619.4,652.5 620.3,648.1 621.1,642.2 622.0,635.0 622.8,626.5 623.6,617.1 624.5,607.1 625.3,597.0 626.1,587.1 627.0,577.8 627.8,569.4 628.7,562.2 629.5,556.2 630.3,551.5 631.2,548.0 632.0,545.8 632.8,544.8 633.7,544.9 634.5,545.3 635.4,546.2 636.2,547.4 637.0,549.0 637.9,551.0 638.7,553.4 639.5,556.1 640.4,559.3 641.2,562.9 642.1,566.9 642.9,571.2 643.7,575.8 644.6,580.8 645.4,586.0 646.2,591.4 647.1,597.0 647.9,602.6 648.8,608.3 649.6,613.9 650.4,619.3 651.3,624.6 652.1,629.5 652.9,634.2 653.8,638.4 654.6,642.3 655.5,645.7 656.3,648.7 657.1,651.2 658.0,653.3 658.8,655.0 659.6,656.2 660.5,657.1 661.3,657.6 662.1,657.9 663.0,658.0 663.8,658.0 664.7,657.8 665.5,657.3 666.3,656.5 667.2,655.1 668.0,653.3 668.8,650.9 669.7,647.9 670.5,644.4 671.4,640.3 672.2,635.6 673.0,630.5 673.9,625.0 674.7,619.1 675.5,612.9 676.4,606.6 677.2,600.3 678.1,593.9 678.9,587.8 679.7,581.9 680.6,576.3 681.4,571.1 682.2,566.3 683.1,562.0 683.9,558.2 684.8,554.9 685.6,552.1 686.4,549.8 687.3,548.0 688.1,546.7 688.9,545.9 689.8,545.6 690.6,546.0 691.5,547.7 692.3,550.8 693.1,555.3 694.0,561.2 694.8,568.4 695.6,576.9 696.5,586.5 697.3,596.8 698.2,607.3 699.0,617.7 699.8,627.5 700.7,636.2 701.5,643.5 702.3,649.3 703.2,653.5 704.0,656.2 704.9,657.6 705.7,658.0 706.5,658.0 707.4,658.0 708.2,658.0 709.0,658.0 709.9,658.0 710.7,658.0 711.6,658.0 712.4,658.0 713.2,658.0 714.1,658.0 714.9,658.0 715.7,658.0 716.6,658.0 717.4,658.0 718.2,658.0 719.1,658.0 719.9,658.0 720.8,658.0 721.6,658.0 722.4,658.0 723.3,658.0 724.1,657.9 724.9,657.5 725.8,656.2 726.6,653.9 727.5,650.5 728.3,645.8 729.1,639.9 730.0,632.8 730.8,624.7 731.6,615.8 732.5,606.2 733.3,596.4 734.2,586.7 735.0,577.3 735.8,568.5 736.7,560.5 737.5,553.4 738.3,547.4 739.2,542.5 740.0,538.7 740.9,536.0 741.7,534.3 742.5,533.7 743.4,533.9 744.2,534.6 745.0,535.8 745.9,537.5 746.7,539.7 747.6,542.5 748.4,545.8 749.2,549.6 750.1,553.9 750.9,558.7 751.7,564.0 752.6,569.8 753.4,575.9 754.3,582.3 755.1,589.0 755.9,595.8 756.8,602.6 757.6,609.3 758.4,615.9 759.3,622.2 760.1,628.1 761.0,633.6 761.8,638.5 762.6,642.9 763.5,646.8 764.3,650.0 765.1,652.6 766.0,654.6 766.8,656.1 767.7,657.1 768.5,657.7 769.3,658.0 770.2,658.0 771.0,658.0" fill="none" stroke="#1a1ae8" stroke-width="1.6" stroke-linejoin="round"/>
<polyline points="553.3,658.0 554.1,658.0 555.0,657.9 555.8,657.5 556.6,656.8 557.5,655.6 558.3,653.9 559.2,651.7 560.0,648.9 560.8,645.5 561.7,641.5 562.5,637.0 563.3,631.9 564.2,626.3 565.0,620.2 565.9,613.8 566.7,607.0 567.5,600.1 568.4,593.0 569.2,585.9 570.0,578.8 570.9,571.9 571.7,565.3 572.6,559.0 573.4,553.0 574.2,547.6 575.1,542.6 575.9,538.2 576.7,534.4 577.6,531.3 578.4,528.8 579.3,526.9 580.1,525.8 580.9,525.3 581.8,525.9 582.6,528.3 583.4,532.5 584.3,538.5 585.1,546.1 586.0,555.2 586.8,565.5 587.6,576.6 588.5,588.3 589.3,600.0 590.1,611.4 591.0,622.1 591.8,631.6 592.7,639.8 593.5,646.5 594.3,651.5 595.2,655.0 596.0,657.0 596.8,657.9 597.7,658.0 598.5,658.0 599.4,658.0 600.2,658.0 601.0,658.0 601.9,658.0 602.7,658.0 603.5,658.0 604.4,658.0 605.2,658.0 606.1,658.0 606.9,658.0 607.7,658.0 608.6,658.0 609.4,658.0 610.2,658.0 611.1,658.0 611.9,658.0 612.7,658.0 613.6,658.0 614.4,658.0 615.3,658.0 616.1,658.0 616.9,657.9 617.8,657.1 618.6,655.2 619.4,651.9 620.3,647.0 621.1,640.5 622.0,632.4 622.8,622.9 623.6,612.2 624.5,600.6 625.3,588.6 626.1,576.5 627.0,564.8 627.8,553.8 628.7,543.9 629.5,535.4 630.3,528.5 631.2,523.3 632.0,520.0 632.8,518.5 633.7,518.5 634.5,519.2 635.4,520.5 636.2,522.4 637.0,524.8 637.9,527.8 638.7,531.3 639.5,535.4 640.4,539.9 641.2,544.9 642.1,550.3 642.9,556.1 643.7,562.2 644.6,568.6 645.4,575.1 646.2,581.8 647.1,588.6 647.9,595.3 648.8,602.0 649.6,608.5 650.4,614.7 651.3,620.7 652.1,626.3 652.9,631.5 653.8,636.3 654.6,640.6 655.5,644.4 656.3,647.7 657.1,650.5 658.0,652.8 658.8,654.7 659.6,656.0 660.5,657.0 661.3,657.6 662.1,657.9 663.0,658.0 663.8,658.0 664.7,657.8 665.5,657.3 666.3,656.4 667.2,655.0 668.0,653.0 668.8,650.5 669.7,647.4 670.5,643.7 671.4,639.3 672.2,634.4 673.0,629.0 673.9,623.0 674.7,616.6 675.5,609.9 676.4,602.9 677.2,595.8 678.1,588.6 678.9,581.4 679.7,574.4 680.6,567.6 681.4,561.1 682.2,555.0 683.1,549.4 683.9,544.3 684.8,539.8 685.6,535.9 686.4,532.6 687.3,530.0 688.1,528.1 688.9,526.9 689.8,526.4 690.6,527.0 691.5,529.6 692.3,534.0 693.1,540.3 694.0,548.3 694.8,557.7 695.6,568.4 696.5,579.9 697.3,591.8 698.2,603.8 699.0,615.2 699.8,625.7 700.7,635.0 701.5,642.8 702.3,648.9 703.2,653.3 704.0,656.1 704.9,657.6 705.7,658.0 706.5,658.0 707.4,658.0 708.2,658.0 709.0,658.0 709.9,658.0 710.7,658.0 711.6,658.0 712.4,658.0 713.2,658.0 714.1,658.0 714.9,658.0 715.7,658.0 716.6,658.0 717.4,658.0 718.2,658.0 719.1,658.0 719.9,658.0 720.8,658.0 721.6,658.0 722.4,658.0 723.3,658.0 724.1,657.9 724.9,657.4 725.8,656.1 726.6,653.7 727.5,650.1 728.3,645.2 729.1,639.0 730.0,631.6 730.8,622.9 731.6,613.3 732.5,602.9 733.3,592.0 734.2,581.0 735.0,570.0 735.8,559.3 736.7,549.4 737.5,540.3 738.3,532.4 739.2,525.7 740.0,520.3 740.9,516.4 741.7,514.0 742.5,513.0 743.4,513.3 744.2,514.4 745.0,516.1 745.9,518.6 746.7,521.8 747.6,525.6 748.4,530.1 749.2,535.3 750.1,541.0 750.9,547.2 751.7,553.9 752.6,561.0 753.4,568.3 754.3,575.9 755.1,583.6 755.9,591.3 756.8,598.9 757.6,606.3 758.4,613.5 759.3,620.2 760.1,626.5 761.0,632.3 761.8,637.6 762.6,642.2 763.5,646.2 764.3,649.6 765.1,652.3 766.0,654.5 766.8,656.0 767.7,657.1 768.5,657.7 769.3,658.0 770.2,658.0 771.0,658.0" fill="none" stroke="#e818e8" stroke-width="1.6" stroke-linejoin="round"/>
<polyline points="553.3,658.0 554.1,658.0 555.0,657.9 555.8,657.5 556.6,656.8 557.5,655.6 558.3,653.9 559.2,651.7 560.0,648.8 560.8,645.4 561.7,641.4 562.5,636.8 563.3,631.6 564.2,625.9 565.0,619.8 565.9,613.2 566.7,606.2 567.5,599.0 568.4,591.6 569.2,584.1 570.0,576.5 570.9,569.1 571.7,561.8 572.6,554.7 573.4,548.1 574.2,541.8 575.1,536.1 575.9,530.9 576.7,526.4 577.6,522.7 578.4,519.6 579.3,517.4 580.1,515.9 580.9,515.3 581.8,516.0 582.6,519.0 583.4,524.1 584.3,531.2 585.1,540.1 586.0,550.5 586.8,562.0 587.6,574.1 588.5,586.6 589.3,599.0 590.1,610.8 591.0,621.7 591.8,631.4 592.7,639.7 593.5,646.4 594.3,651.5 595.2,654.9 596.0,657.0 596.8,657.9 597.7,658.0 598.5,658.0 599.4,658.0 600.2,658.0 601.0,658.0 601.9,658.0 602.7,658.0 603.5,658.0 604.4,658.0 605.2,658.0 606.1,658.0 606.9,658.0 607.7,658.0 608.6,658.0 609.4,658.0 610.2,658.0 611.1,658.0 611.9,658.0 612.7,658.0 613.6,658.0 614.4,658.0 615.3,658.0 616.1,658.0 616.9,657.9 617.8,657.1 618.6,655.1 619.4,651.7 620.3,646.6 621.1,639.9 622.0,631.4 622.8,621.5 623.6,610.2 624.5,597.9 625.3,584.9 626.1,571.7 627.0,558.6 627.8,546.1 628.7,534.6 629.5,524.5 630.3,516.1 631.2,509.7 632.0,505.5 632.8,503.6 633.7,503.7 634.5,504.5 635.4,506.2 636.2,508.5 637.0,511.5 637.9,515.2 638.7,519.6 639.5,524.5 640.4,529.9 641.2,535.8 642.1,542.1 642.9,548.8 643.7,555.8 644.6,562.9 645.4,570.2 646.2,577.6 647.1,585.0 647.9,592.2 648.8,599.3 649.6,606.2 650.4,612.9 651.3,619.1 652.1,625.0 652.9,630.5 653.8,635.5 654.6,639.9 655.5,643.9 656.3,647.3 657.1,650.2 658.0,652.6 658.8,654.5 659.6,656.0 660.5,657.0 661.3,657.6 662.1,657.9 663.0,658.0 663.8,658.0 664.7,657.8 665.5,657.2 666.3,656.2 667.2,654.7 668.0,652.6 668.8,649.9 669.7,646.5 670.5,642.4 671.4,637.6 672.2,632.3 673.0,626.3 673.9,619.7 674.7,612.7 675.5,605.2 676.4,597.4 677.2,589.3 678.1,581.1 678.9,572.9 679.7,564.7 680.6,556.6 681.4,548.8 682.2,541.4 683.1,534.5 683.9,528.1 684.8,522.4 685.6,517.4 686.4,513.2 687.3,509.8 688.1,507.3 688.9,505.7 689.8,505.0 690.6,505.8 691.5,509.2 692.3,515.0 693.1,523.0 694.0,533.1 694.8,544.7 695.6,557.5 696.5,571.1 697.3,584.8 698.2,598.3 699.0,611.1 699.8,622.7 700.7,632.9 701.5,641.4 702.3,648.1 703.2,652.9 704.0,655.9 704.9,657.5 705.7,658.0 706.5,658.0 707.4,658.0 708.2,658.0 709.0,658.0 709.9,658.0 710.7,658.0 711.6,658.0 712.4,658.0 713.2,658.0 714.1,658.0 714.9,658.0 715.7,658.0 716.6,658.0 717.4,658.0 718.2,658.0 719.1,658.0 719.9,658.0 720.8,658.0 721.6,658.0 722.4,658.0 723.3,658.0 724.1,657.9 724.9,657.4 725.8,656.1 726.6,653.6 727.5,650.0 728.3,645.0 729.1,638.7 730.0,631.1 730.8,622.3 731.6,612.4 732.5,601.6 733.3,590.2 734.2,578.4 735.0,566.5 735.8,554.9 736.7,543.7 737.5,533.4 738.3,524.1 739.2,516.2 740.0,509.7 740.9,504.9 741.7,501.9 742.5,500.8 743.4,501.2 744.2,502.4 745.0,504.6 745.9,507.6 746.7,511.5 747.6,516.1 748.4,521.5 749.2,527.5 750.1,534.1 750.9,541.3 751.7,548.8 752.6,556.7 753.4,564.8 754.3,573.0 755.1,581.2 755.9,589.4 756.8,597.4 757.6,605.1 758.4,612.5 759.3,619.5 760.1,626.0 761.0,631.9 761.8,637.2 762.6,641.9 763.5,646.0 764.3,649.4 765.1,652.2 766.0,654.4 766.8,656.0 767.7,657.1 768.5,657.7 769.3,658.0 770.2,658.0 771.0,658.0" fill="none" stroke="#188018" stroke-width="1.6" stroke-linejoin="round"/>
<text x="426" y="710" font-family="Liberation Sans, sans-serif" font-size="21.8" text-anchor="middle">Displacement (µm)</text>
<text transform="translate(19.3,548.5) rotate(-90)" font-family="Liberation Sans, sans-serif" font-size="21.8" text-anchor="middle">Phase difference (µm)</text>
</svg></body></html>
